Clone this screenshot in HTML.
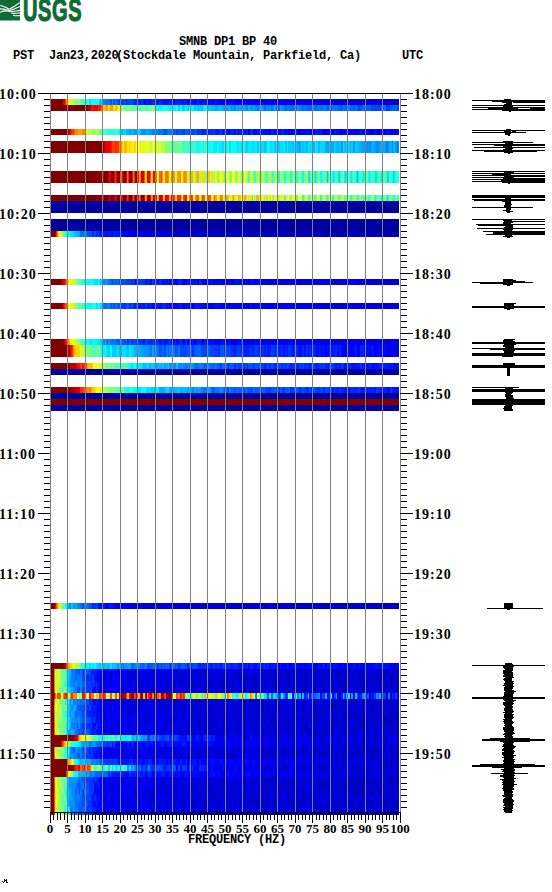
<!DOCTYPE html>
<html><head><meta charset="utf-8"><style>
html,body{margin:0;padding:0;background:#fff;width:552px;height:892px;overflow:hidden;position:relative}
.r{position:absolute;left:50px;width:349px;height:6px}
.t{position:absolute;font-family:"Liberation Mono",monospace;font-weight:bold;font-size:12px;line-height:14px;letter-spacing:-0.2px;white-space:pre;color:#000}
.tl{position:absolute;font-family:"Liberation Serif",serif;font-weight:bold;font-size:14px;line-height:20px;letter-spacing:1px;white-space:pre;color:#000}
.fl{position:absolute;width:40px;text-align:center;font-family:"Liberation Serif",serif;font-weight:bold;font-size:13px;line-height:13px;white-space:pre;color:#000}
svg{position:absolute;left:0;top:0}
</style></head><body>
<div class="r" style="top:99px;height:6px;background:linear-gradient(90deg,#800000 0px 13px,#d80000 13px 14px,#e80000 14px 15px,#ff3800 15px 16px,#ff9800 16px 17px,#ffd000 17px 18px,#ffe800 18px 19px,#f8ff08 19px 20px,#c8ff38 20px 21px,#e0ff20 21px 22px,#d0ff30 22px 23px,#a0ff58 23px 24px,#98ff68 24px 26px,#90ff70 26px 27px,#60ffa0 27px 28px,#98ff68 28px 29px,#88ff78 29px 30px,#58ffa8 30px 31px,#48ffb0 31px 32px,#38ffc8 32px 33px,#30ffd0 33px 35px,#10fff0 35px 37px,#30ffd0 37px 38px,#28ffd8 38px 39px,#00e8ff 39px 40px,#00e0ff 40px 41px,#18ffe0 41px 42px,#00ffff 42px 43px,#00f8ff 43px 44px,#10fff0 44px 49px,#00d0ff 49px 50px,#00c0ff 50px 51px,#00d0ff 51px 52px,#00b8ff 52px 53px,#0080ff 53px 56px,#0070ff 56px 58px,#0078ff 58px 59px,#0070ff 59px 60px,#0060ff 60px 61px,#0058ff 61px 62px,#0088ff 62px 63px,#0060ff 63px 64px,#0058ff 64px 65px,#0070ff 65px 67px,#0058ff 67px 69px,#0040ff 69px 74px,#0050ff 74px 75px,#0048ff 75px 76px,#0030ff 76px 77px,#0040ff 77px 79px,#0050ff 79px 80px,#0048ff 80px 83px,#0028ff 83px 84px,#0030ff 84px 85px,#0028ff 85px 88px,#0020ff 88px 89px,#0018ff 89px 90px,#0020ff 90px 91px,#0038ff 91px 93px,#0010ff 93px 94px,#0008ff 94px 95px,#0010ff 95px 97px,#0028ff 97px 98px,#0010ff 98px 100px,#0018ff 100px 102px,#0028ff 102px 104px,#0030ff 104px 105px,#0018ff 105px 107px,#0010ff 107px 109px,#0030ff 109px 110px,#0028ff 110px 111px,#0020ff 111px 112px,#0018ff 112px 114px,#0010ff 114px 119px,#0020ff 119px 121px,#0010ff 121px 123px,#0008ff 123px 125px,#0020ff 125px 132px,#0008ff 132px 133px,#0020ff 133px 135px,#0018ff 135px 137px,#0008ff 137px 140px,#0010ff 140px 144px,#0000ff 144px 145px,#0000f8 145px 146px,#0008ff 146px 147px,#0020ff 147px 149px,#0008ff 149px 151px,#0000ff 151px 153px,#0018ff 153px 158px,#0000f0 158px 160px,#0010ff 160px 161px,#0000f8 161px 165px,#0010ff 165px 167px,#0000f0 167px 170px,#0000f8 170px 171px,#0000f0 171px 174px,#0000f8 174px 175px,#0008ff 175px 177px,#0000ff 177px 179px,#0000f0 179px 181px,#0008ff 181px 184px,#0000ff 184px 186px,#0000e8 186px 188px,#0000f8 188px 189px,#0000ff 189px 191px,#0000f0 191px 193px,#0000f8 193px 196px,#0000f0 196px 198px,#0000e8 198px 200px,#0000ff 200px 202px,#0000f8 202px 203px,#0000f0 203px 207px,#0000ff 207px 210px,#0000f0 210px 212px,#0000ff 212px 214px,#0000e0 214px 216px,#0000ff 216px 217px,#0000e0 217px 219px,#0000ff 219px 223px,#0000f0 223px 224px,#0000ff 224px 226px,#0000f8 226px 228px,#0000e0 228px 230px,#0000f8 230px 231px,#0000ff 231px 233px,#0000f8 233px 235px,#0000e0 235px 237px,#0000e8 237px 238px,#0000f8 238px 242px,#0000e0 242px 244px,#0000f8 244px 245px,#0000e0 245px 247px,#0000d8 247px 249px,#0000f8 249px 251px,#0000f0 251px 254px,#0000d8 254px 256px,#0000e8 256px 258px,#0000f8 258px 259px,#0000d8 259px 261px,#0000f8 261px 263px,#0000e8 263px 265px,#0000f0 265px 270px,#0000d8 270px 272px,#0000e8 272px 273px,#0000d8 273px 277px,#0000e0 277px 279px,#0000f0 279px 282px,#0000e0 282px 284px,#0000e8 284px 286px,#0000d8 286px 289px,#0000e8 289px 290px,#0000e0 290px 291px,#0000d8 291px 293px,#0000e8 293px 296px,#0000e0 296px 298px,#0000d8 298px 300px,#0000d0 300px 303px,#0000e8 303px 305px,#0000d0 305px 308px,#0000e0 308px 310px,#0000e8 310px 314px,#0000e0 314px 315px,#0000d0 315px 317px,#0000d8 317px 322px,#0000e0 322px 328px,#0000e8 328px 329px,#0000e0 329px 333px,#0000d0 333px 335px,#0000e0 335px 338px,#0000d8 338px 340px,#0000c8 340px 342px,#0000d8 342px 343px,#0000d0 343px 345px,#0000c8 345px 347px,#0000d0 347px 349px)"></div>
<div class="r" style="top:105px;height:6px;background:linear-gradient(90deg,#800000 0px 37px,#a00000 37px 38px,#b80000 38px 39px,#b00000 39px 40px,#c80000 40px 41px,#ff0800 41px 42px,#ff0000 42px 43px,#ff0800 43px 44px,#f00000 44px 45px,#f80000 45px 47px,#ff0000 47px 48px,#ff1800 48px 49px,#ff1000 49px 50px,#ff2800 50px 51px,#ff5800 51px 52px,#ff8000 52px 53px,#ffb800 53px 55px,#ffa800 55px 56px,#ff9800 56px 57px,#ffa000 57px 58px,#ffd000 58px 60px,#ff9800 60px 61px,#ffa000 61px 62px,#ff9800 62px 63px,#ffe000 63px 65px,#ffc000 65px 67px,#ffd000 67px 68px,#fff800 68px 69px,#e0ff20 69px 70px,#98ff68 70px 71px,#70ff90 71px 72px,#98ff68 72px 74px,#68ff98 74px 75px,#60ff98 75px 76px,#58ffa8 76px 77px,#80ff80 77px 79px,#70ff90 79px 81px,#58ffa8 81px 83px,#68ff98 83px 84px,#50ffb0 84px 86px,#48ffb8 86px 87px,#40ffc0 87px 88px,#78ff88 88px 90px,#38ffc8 90px 91px,#58ffa8 91px 93px,#80ff80 93px 95px,#40ffc0 95px 97px,#50ffb0 97px 98px,#70ff90 98px 100px,#78ff88 100px 101px,#78ff80 101px 102px,#80ff80 102px 103px,#70ff90 103px 104px,#68ff98 104px 105px,#20ffe0 105px 106px,#10fff0 106px 107px,#08fff8 107px 108px,#00f8ff 108px 109px,#10ffe8 109px 110px,#10fff0 110px 111px,#00e8ff 111px 112px,#20ffe0 112px 114px,#20ffd8 114px 115px,#20ffe0 115px 116px,#18ffe8 116px 118px,#18ffe0 118px 119px,#00e0ff 119px 121px,#20ffe0 121px 122px,#18ffe0 122px 123px,#00f8ff 123px 125px,#00f0ff 125px 126px,#18ffe8 126px 128px,#00d8ff 128px 129px,#00d0ff 129px 130px,#08fff8 130px 132px,#00d8ff 132px 133px,#00d0ff 133px 135px,#00ffff 135px 137px,#00d0ff 137px 139px,#10fff0 139px 140px,#00f0ff 140px 142px,#00f8ff 142px 143px,#00f0ff 143px 144px,#00c8ff 144px 146px,#00e8ff 146px 147px,#00c8ff 147px 149px,#00d0ff 149px 152px,#00c8ff 152px 153px,#00e8ff 153px 154px,#00f0ff 154px 156px,#00f8ff 156px 157px,#00f0ff 157px 158px,#00c0ff 158px 160px,#00d0ff 160px 161px,#00b8ff 161px 163px,#00c8ff 163px 164px,#00c0ff 164px 165px,#00a0ff 165px 167px,#00b8ff 167px 168px,#00c0ff 168px 172px,#00a8ff 172px 174px,#0090ff 174px 175px,#0098ff 175px 176px,#0090ff 176px 177px,#00a0ff 177px 179px,#00b8ff 179px 181px,#0088ff 181px 182px,#00a0ff 182px 184px,#0088ff 184px 186px,#00b0ff 186px 188px,#0088ff 188px 189px,#00b8ff 189px 191px,#0088ff 191px 193px,#00a8ff 193px 195px,#0098ff 195px 196px,#0090ff 196px 198px,#00b0ff 198px 200px,#0098ff 200px 203px,#00a0ff 203px 205px,#0088ff 205px 207px,#0078ff 207px 209px,#00a8ff 209px 210px,#00a0ff 210px 212px,#0090ff 212px 214px,#0070ff 214px 216px,#00a0ff 216px 217px,#0088ff 217px 218px,#0080ff 218px 219px,#0098ff 219px 221px,#0070ff 221px 223px,#0090ff 223px 224px,#00a0ff 224px 226px,#0070ff 226px 228px,#0068ff 228px 230px,#00a0ff 230px 231px,#0098ff 231px 233px,#0080ff 233px 235px,#0068ff 235px 237px,#0080ff 237px 240px,#0068ff 240px 242px,#0070ff 242px 244px,#0080ff 244px 245px,#0070ff 245px 247px,#0098ff 247px 249px,#0078ff 249px 251px,#0088ff 251px 252px,#0068ff 252px 254px,#0078ff 254px 256px,#0068ff 256px 258px,#0060ff 258px 259px,#0068ff 259px 261px,#0060ff 261px 263px,#0088ff 263px 265px,#0060ff 265px 266px,#0070ff 266px 268px,#0078ff 268px 270px,#0070ff 270px 273px,#0080ff 273px 275px,#0078ff 275px 277px,#0058ff 277px 279px,#0088ff 279px 280px,#0058ff 280px 281px,#0050ff 281px 282px,#0078ff 282px 284px,#0070ff 284px 286px,#0080ff 286px 287px,#0068ff 287px 289px,#0060ff 289px 291px,#0058ff 291px 293px,#0078ff 293px 294px,#0068ff 294px 296px,#0058ff 296px 298px,#0080ff 298px 300px,#0058ff 300px 301px,#0068ff 301px 303px,#0058ff 303px 305px,#0070ff 305px 306px,#0068ff 306px 307px,#0060ff 307px 308px,#0048ff 308px 309px,#0040ff 309px 310px,#0050ff 310px 312px,#0070ff 312px 314px,#0058ff 314px 315px,#0050ff 315px 317px,#0060ff 317px 321px,#0040ff 321px 322px,#0048ff 322px 329px,#0040ff 329px 331px,#0070ff 331px 336px,#0038ff 336px 338px,#0040ff 338px 340px,#0060ff 340px 345px,#0068ff 345px 347px,#0040ff 347px 349px)"></div>
<div class="r" style="top:129px;height:6px;background:linear-gradient(90deg,#800000 0px 17px,#880000 17px 18px,#a80000 18px 19px,#c80000 19px 20px,#f00000 20px 21px,#ff2800 21px 22px,#ff4800 22px 23px,#ff3800 23px 24px,#ff5800 24px 25px,#ff9000 25px 27px,#ff7800 27px 28px,#ffa000 28px 31px,#ffa800 31px 32px,#ff8000 32px 34px,#ff9800 34px 35px,#ffb000 35px 36px,#ffe000 36px 37px,#c8ff38 37px 38px,#a8ff58 38px 39px,#c0ff40 39px 40px,#b8ff48 40px 41px,#a0ff60 41px 42px,#98ff68 42px 43px,#90ff70 43px 44px,#c0ff40 44px 45px,#b8ff48 45px 46px,#b0ff50 46px 47px,#a8ff58 47px 49px,#70ff90 49px 50px,#60ffa0 50px 51px,#58ffa8 51px 52px,#40ffc0 52px 53px,#60ffa0 53px 54px,#58ffa8 54px 55px,#40ffc0 55px 56px,#28ffd8 56px 58px,#20ffe0 58px 59px,#18ffe8 59px 60px,#38ffc8 60px 63px,#18ffe8 63px 65px,#48ffb8 65px 66px,#38ffc8 66px 67px,#20ffe0 67px 68px,#10fff0 68px 69px,#00f8ff 69px 70px,#00c0ff 70px 72px,#00c8ff 72px 74px,#00e0ff 74px 76px,#00b0ff 76px 77px,#00b8ff 77px 79px,#00a8ff 79px 81px,#00b8ff 81px 82px,#00b0ff 82px 84px,#00a0ff 84px 87px,#0098ff 87px 88px,#00d8ff 88px 90px,#00b8ff 90px 91px,#0098ff 91px 92px,#0090ff 92px 93px,#0098ff 93px 94px,#0090ff 94px 95px,#00a0ff 95px 97px,#00b0ff 97px 98px,#00a0ff 98px 100px,#0098ff 100px 102px,#0080ff 102px 104px,#0088ff 104px 105px,#0078ff 105px 107px,#0080ff 107px 108px,#0078ff 108px 109px,#0070ff 109px 111px,#0080ff 111px 112px,#0070ff 112px 113px,#0068ff 113px 114px,#0050ff 114px 116px,#0068ff 116px 118px,#0080ff 118px 119px,#0078ff 119px 123px,#0058ff 123px 126px,#0048ff 126px 128px,#0058ff 128px 130px,#0050ff 130px 132px,#0058ff 132px 133px,#0040ff 133px 135px,#0060ff 135px 139px,#0040ff 139px 140px,#0050ff 140px 141px,#0048ff 141px 142px,#0040ff 142px 144px,#0050ff 144px 146px,#0058ff 146px 147px,#0038ff 147px 148px,#0030ff 148px 149px,#0040ff 149px 151px,#0028ff 151px 152px,#0020ff 152px 154px,#0030ff 154px 156px,#0048ff 156px 158px,#0028ff 158px 159px,#0020ff 159px 160px,#0038ff 160px 161px,#0030ff 161px 162px,#0028ff 162px 163px,#0038ff 163px 165px,#0028ff 165px 167px,#0010ff 167px 168px,#0028ff 168px 170px,#0038ff 170px 172px,#0018ff 172px 174px,#0020ff 174px 177px,#0008ff 177px 179px,#0018ff 179px 181px,#0020ff 181px 184px,#0010ff 184px 186px,#0028ff 186px 188px,#0000ff 188px 189px,#0020ff 189px 191px,#0018ff 191px 193px,#0020ff 193px 195px,#0010ff 195px 196px,#0020ff 196px 198px,#0000ff 198px 200px,#0028ff 200px 203px,#0010ff 203px 205px,#0008ff 205px 207px,#0020ff 207px 209px,#0010ff 209px 210px,#0008ff 210px 212px,#0018ff 212px 214px,#0010ff 214px 216px,#0008ff 216px 217px,#0010ff 217px 219px,#0000ff 219px 221px,#0018ff 221px 223px,#0020ff 223px 224px,#0010ff 224px 226px,#0020ff 226px 228px,#0008ff 228px 230px,#0000ff 230px 231px,#0020ff 231px 233px,#0018ff 233px 235px,#0008ff 235px 237px,#0018ff 237px 238px,#0000ff 238px 242px,#0008ff 242px 244px,#0018ff 244px 245px,#0020ff 245px 247px,#0000ff 247px 249px,#0000f8 249px 251px,#0000ff 251px 252px,#0000f8 252px 254px,#0008ff 254px 258px,#0018ff 258px 259px,#0000ff 259px 263px,#0000f8 263px 265px,#0010ff 265px 266px,#0020ff 266px 268px,#0010ff 268px 270px,#0018ff 270px 272px,#0000ff 272px 275px,#0000f8 275px 277px,#0000ff 277px 279px,#0018ff 279px 280px,#0010ff 280px 282px,#0000ff 282px 284px,#0018ff 284px 286px,#0000ff 286px 287px,#0010ff 287px 288px,#0008ff 288px 289px,#0000f8 289px 291px,#0000f0 291px 293px,#0008ff 293px 296px,#0010ff 296px 298px,#0000ff 298px 300px,#0000f8 300px 301px,#0008ff 301px 305px,#0000f8 305px 307px,#0010ff 307px 308px,#0008ff 308px 310px,#0018ff 310px 312px,#0010ff 312px 314px,#0000f0 314px 315px,#0000ff 315px 317px,#0018ff 317px 318px,#0010ff 318px 319px,#0000f8 319px 324px,#0010ff 324px 326px,#0000f8 326px 328px,#0000e8 328px 329px,#0000f8 329px 331px,#0008ff 331px 333px,#0000ff 333px 335px,#0000f0 335px 336px,#0010ff 336px 340px,#0000ff 340px 342px,#0000f0 342px 343px,#0000f8 343px 345px,#0000ff 345px 347px,#0000f0 347px 349px)"></div>
<div class="r" style="top:141px;height:12px;background:linear-gradient(90deg,#800000 0px 53px,#900000 53px 54px,#c00000 54px 55px,#f80000 55px 56px,#e80000 56px 57px,#f00000 57px 58px,#e80000 58px 59px,#f00000 59px 60px,#ff0800 60px 61px,#ff1000 61px 62px,#ff4000 62px 63px,#ff3800 63px 64px,#ff4000 64px 65px,#ff2800 65px 66px,#ff3000 66px 68px,#ff3800 68px 69px,#ff7800 69px 70px,#ff6800 70px 71px,#ff9000 71px 72px,#ffd800 72px 73px,#ffe800 73px 74px,#ffb800 74px 76px,#ffc000 76px 77px,#ffe800 77px 79px,#ffd800 79px 80px,#ffe000 80px 81px,#ffe800 81px 82px,#fff000 82px 83px,#ffff00 83px 84px,#ffd000 84px 85px,#ffd800 85px 86px,#ffff00 86px 88px,#f8ff08 88px 89px,#f0ff10 89px 90px,#ffe000 90px 91px,#d8ff28 91px 92px,#d0ff30 92px 94px,#c8ff30 94px 95px,#f8ff08 95px 98px,#d8ff28 98px 99px,#d0ff30 99px 100px,#b8ff40 100px 101px,#b8ff48 101px 102px,#f8ff08 102px 104px,#e0ff20 104px 105px,#c0ff40 105px 107px,#d8ff28 107px 108px,#d0ff30 108px 109px,#d8ff28 109px 111px,#a8ff58 111px 112px,#c0ff40 112px 113px,#b8ff48 113px 114px,#a0ff58 114px 115px,#a0ff60 115px 116px,#88ff78 116px 117px,#80ff80 117px 119px,#90ff70 119px 120px,#88ff70 120px 121px,#60ffa0 121px 122px,#58ffa8 122px 123px,#50ffb0 123px 125px,#68ff98 125px 130px,#70ff90 130px 132px,#48ffb8 132px 133px,#38ffc8 133px 135px,#50ffb0 135px 137px,#40ffc0 137px 139px,#18ffe8 139px 142px,#30ffd0 142px 144px,#40ffc0 144px 146px,#10ffe8 146px 147px,#00fff8 147px 148px,#00ffff 148px 149px,#18ffe8 149px 151px,#38ffc8 151px 153px,#00f8ff 153px 154px,#28ffd8 154px 155px,#20ffe0 155px 156px,#30ffd0 156px 158px,#00ffff 158px 160px,#08fff8 160px 161px,#18ffe0 161px 162px,#18ffe8 162px 163px,#00f0ff 163px 165px,#00e8ff 165px 167px,#18ffe8 167px 168px,#00f8ff 168px 169px,#00f0ff 169px 172px,#00d8ff 172px 174px,#18ffe8 174px 175px,#00e8ff 175px 177px,#18ffe8 177px 178px,#10fff0 178px 179px,#00d8ff 179px 181px,#00ffff 181px 184px,#08fff8 184px 186px,#00f0ff 186px 188px,#00d8ff 188px 189px,#00ffff 189px 191px,#00d0ff 191px 193px,#10fff0 193px 195px,#00d8ff 195px 198px,#00e8ff 198px 200px,#00f0ff 200px 202px,#00d8ff 202px 203px,#00e0ff 203px 205px,#00f0ff 205px 207px,#00c8ff 207px 209px,#00fff8 209px 210px,#00e0ff 210px 212px,#00d8ff 212px 214px,#00c8ff 214px 216px,#00d0ff 216px 217px,#00ffff 217px 219px,#00f0ff 219px 220px,#00e8ff 220px 221px,#00e0ff 221px 223px,#00f8ff 223px 224px,#00c8ff 224px 226px,#00e0ff 226px 228px,#00c8ff 228px 230px,#00e0ff 230px 231px,#00d8ff 231px 233px,#00f0ff 233px 235px,#00c0ff 235px 237px,#00f0ff 237px 238px,#00c8ff 238px 240px,#00d0ff 240px 242px,#00c8ff 242px 244px,#00e0ff 244px 245px,#00c8ff 245px 247px,#00b0ff 247px 249px,#00a8ff 249px 251px,#00d8ff 251px 252px,#00c8ff 252px 254px,#00d0ff 254px 256px,#00b8ff 256px 258px,#00e8ff 258px 259px,#00d8ff 259px 263px,#00b8ff 263px 265px,#00e8ff 265px 268px,#00b8ff 268px 270px,#00d8ff 270px 275px,#00b0ff 275px 277px,#00a0ff 277px 279px,#00c8ff 279px 280px,#00b0ff 280px 283px,#00a8ff 283px 284px,#00d0ff 284px 286px,#00c0ff 286px 287px,#00b0ff 287px 289px,#00c8ff 289px 291px,#0098ff 291px 293px,#00e0ff 293px 294px,#00c0ff 294px 296px,#00c8ff 296px 298px,#00d0ff 298px 300px,#00a8ff 300px 301px,#00d0ff 301px 303px,#0098ff 303px 305px,#00c8ff 305px 307px,#00d0ff 307px 308px,#00b8ff 308px 310px,#00b0ff 310px 311px,#00a8ff 311px 312px,#00a0ff 312px 315px,#0090ff 315px 321px,#00a0ff 321px 322px,#00b8ff 322px 323px,#00b0ff 323px 324px,#00a0ff 324px 326px,#0088ff 326px 329px,#00a0ff 329px 331px,#00b0ff 331px 333px,#00a8ff 333px 335px,#00a0ff 335px 336px,#0080ff 336px 338px,#00a0ff 338px 340px,#00b8ff 340px 341px,#00b0ff 341px 342px,#0080ff 342px 343px,#00c0ff 343px 345px,#00a0ff 345px 347px,#0080ff 347px 349px)"></div>
<div class="r" style="top:171px;height:12px;background:linear-gradient(90deg,#800000 0px 47px,#a00000 47px 48px,#800000 48px 52px,#880000 52px 53px,#b00000 53px 54px,#800000 54px 58px,#c00000 58px 59px,#f80000 59px 60px,#c00000 60px 61px,#800000 61px 64px,#e00000 64px 65px,#ff3000 65px 66px,#e80000 66px 67px,#800000 67px 70px,#f00000 70px 71px,#ff5800 71px 72px,#ff0800 72px 73px,#800000 73px 76px,#e00000 76px 77px,#ff7800 77px 78px,#ff3000 78px 79px,#800000 79px 82px,#f80000 82px 83px,#ff7000 83px 84px,#ff3000 84px 85px,#800000 85px 87px,#900000 87px 88px,#ff1800 88px 89px,#ffb000 89px 90px,#ff8000 90px 91px,#c00000 91px 93px,#e00000 93px 94px,#ff4800 94px 95px,#fff000 95px 96px,#ffc800 96px 97px,#e00000 97px 98px,#f80000 98px 100px,#ff4800 100px 101px,#ffe800 101px 102px,#ffc800 102px 103px,#ff0000 103px 104px,#ff0800 104px 105px,#ff1000 105px 106px,#ff8000 106px 107px,#b8ff48 107px 108px,#d0ff30 108px 109px,#ff6000 109px 110px,#ff6800 110px 111px,#ff4000 111px 112px,#ff9800 112px 113px,#c8ff38 113px 114px,#c8ff30 114px 115px,#ff7000 115px 117px,#ff7800 117px 118px,#ff9000 118px 119px,#c8ff38 119px 120px,#d0ff30 120px 121px,#ff8000 121px 122px,#ff7800 122px 123px,#ff8800 123px 124px,#ffa000 124px 125px,#d0ff30 125px 126px,#c8ff38 126px 127px,#ff9800 127px 129px,#ffa000 129px 130px,#ff8000 130px 131px,#d8ff28 131px 132px,#c8ff30 132px 133px,#ffa000 133px 134px,#ff8000 134px 135px,#ff9000 135px 137px,#b8ff40 137px 138px,#a8ff58 138px 139px,#ffd000 139px 140px,#ffb000 140px 142px,#ffb800 142px 143px,#a8ff58 143px 144px,#b0ff50 144px 145px,#ffd800 145px 146px,#ffb800 146px 147px,#ffa800 147px 149px,#a0ff60 149px 150px,#80ff80 150px 151px,#f0ff10 151px 152px,#ffd000 152px 153px,#ffe000 153px 154px,#ffd800 154px 155px,#98ff60 155px 156px,#70ff90 156px 157px,#d8ff28 157px 158px,#ffc800 158px 160px,#ffe800 160px 161px,#a8ff58 161px 162px,#78ff80 162px 163px,#d0ff30 163px 164px,#ffe000 164px 165px,#fff000 165px 166px,#fff800 166px 167px,#80ff78 167px 168px,#70ff90 168px 169px,#c8ff38 169px 170px,#fff800 170px 172px,#fff000 172px 173px,#98ff60 173px 174px,#60ffa0 174px 175px,#98ff68 175px 176px,#e8ff18 176px 177px,#f8ff08 177px 179px,#a0ff60 179px 180px,#60ff98 180px 181px,#80ff80 181px 182px,#f8ff08 182px 185px,#98ff68 185px 186px,#60ffa0 186px 187px,#a0ff60 187px 188px,#e0ff20 188px 191px,#70ff90 191px 192px,#28ffd8 192px 193px,#80ff80 193px 194px,#e8ff18 194px 196px,#d8ff28 196px 197px,#80ff80 197px 198px,#30ffc8 198px 199px,#60ff98 199px 200px,#d8ff28 200px 202px,#c8ff38 202px 203px,#78ff88 203px 204px,#28ffd8 204px 205px,#40ffc0 205px 206px,#b0ff50 206px 207px,#c0ff40 207px 209px,#68ff98 209px 210px,#38ffc8 210px 211px,#58ffa8 211px 212px,#d0ff30 212px 213px,#c8ff30 213px 214px,#a8ff58 214px 215px,#68ff98 215px 216px,#20ffe0 216px 217px,#40ffc0 217px 218px,#b8ff48 218px 219px,#a8ff50 219px 220px,#a8ff58 220px 221px,#80ff78 221px 222px,#20ffe0 222px 223px,#40ffc0 223px 224px,#a0ff58 224px 225px,#a0ff60 225px 226px,#b0ff50 226px 227px,#80ff78 227px 228px,#00f8ff 228px 229px,#08fff0 229px 230px,#a0ff60 230px 231px,#98ff68 231px 232px,#90ff68 232px 233px,#88ff78 233px 234px,#18ffe8 234px 235px,#00ffff 235px 236px,#88ff78 236px 237px,#80ff80 237px 238px,#90ff70 238px 239px,#78ff88 239px 240px,#08fff8 240px 242px,#78ff88 242px 243px,#80ff80 243px 244px,#88ff70 244px 245px,#88ff78 245px 246px,#10fff0 246px 247px,#00ffff 247px 248px,#78ff88 248px 249px,#98ff68 249px 251px,#58ffa0 251px 252px,#08fff8 252px 253px,#00ffff 253px 254px,#70ff90 254px 255px,#88ff78 255px 256px,#90ff68 256px 257px,#90ff70 257px 258px,#00f0ff 258px 259px,#00e0ff 259px 260px,#48ffb0 260px 261px,#88ff78 261px 263px,#88ff70 263px 264px,#10fff0 264px 265px,#00e0ff 265px 266px,#38ffc8 266px 267px,#60ffa0 267px 268px,#80ff80 268px 270px,#10fff0 270px 271px,#00f8ff 271px 272px,#50ffb0 272px 275px,#80ff80 275px 276px,#08fff0 276px 277px,#00c8ff 277px 278px,#20ffe0 278px 279px,#80ff80 279px 280px,#58ffa8 280px 282px,#10fff0 282px 283px,#00e8ff 283px 284px,#10fff0 284px 285px,#50ffb0 285px 286px,#48ffb0 286px 287px,#48ffb8 287px 288px,#00e0ff 288px 289px,#00d8ff 289px 290px,#20ffe0 290px 291px,#58ffa8 291px 293px,#70ff90 293px 294px,#00f8ff 294px 295px,#00d0ff 295px 296px,#00ffff 296px 297px,#48ffb8 297px 298px,#68ff98 298px 300px,#10ffe8 300px 301px,#00e8ff 301px 302px,#20ffe0 302px 303px,#48ffb8 303px 305px,#40ffc0 305px 306px,#00f0ff 306px 307px,#00b0ff 307px 308px,#00f8ff 308px 309px,#48ffb0 309px 310px,#40ffc0 310px 312px,#20ffe0 312px 313px,#00e8ff 313px 314px,#18ffe8 314px 315px,#60ffa0 315px 318px,#18ffe8 318px 319px,#00e8ff 319px 320px,#10fff0 320px 321px,#50ffb0 321px 322px,#48ffb0 322px 323px,#48ffb8 323px 324px,#28ffd0 324px 325px,#00e8ff 325px 326px,#00e0ff 326px 327px,#38ffc8 327px 329px,#60ffa0 329px 330px,#28ffd8 330px 331px,#00e8ff 331px 332px,#00fff8 332px 333px,#60ffa0 333px 335px,#40ffb8 335px 336px,#20ffe0 336px 337px,#00d8ff 337px 338px,#00e0ff 338px 339px,#48ffb8 339px 340px,#38ffc8 340px 342px,#00ffff 342px 343px,#00d8ff 343px 344px,#00f0ff 344px 345px,#28ffd0 345px 346px,#28ffd8 346px 347px,#40ffc0 347px 348px,#20ffe0 348px 349px)"></div>
<div class="r" style="top:195px;height:6px;background:linear-gradient(90deg,#800000 0px 46px,#880000 46px 47px,#a80000 47px 48px,#800000 48px 53px,#c00000 53px 54px,#800000 54px 58px,#a00000 58px 59px,#d80000 59px 60px,#980000 60px 61px,#800000 61px 64px,#900000 64px 65px,#ff0000 65px 66px,#c00000 66px 67px,#800000 67px 70px,#c80000 70px 71px,#ff1800 71px 72px,#d80000 72px 73px,#800000 73px 76px,#b80000 76px 77px,#ff3000 77px 78px,#f00000 78px 79px,#800000 79px 82px,#e80000 82px 83px,#ff4800 83px 84px,#f00000 84px 85px,#800000 85px 86px,#880000 86px 88px,#f80000 88px 89px,#ff7800 89px 90px,#ff2800 90px 91px,#800000 91px 94px,#d80000 94px 95px,#ffa000 95px 96px,#ff7800 96px 97px,#900000 97px 98px,#a00000 98px 100px,#f00000 100px 101px,#ff9000 101px 102px,#ff7800 102px 103px,#b00000 103px 104px,#d80000 104px 105px,#c80000 105px 106px,#ff1000 106px 107px,#ffc000 107px 108px,#ffa800 108px 109px,#d00000 109px 110px,#d80000 110px 111px,#c00000 111px 112px,#ff1000 112px 113px,#ffc000 113px 115px,#f00000 115px 116px,#ff0000 116px 118px,#ff0800 118px 119px,#ffb800 119px 120px,#ffb000 120px 121px,#f00000 121px 122px,#e00000 122px 123px,#ff1800 123px 124px,#ff3800 124px 125px,#ffd000 125px 127px,#ff2000 127px 128px,#ff2800 128px 129px,#ff3000 129px 130px,#ff0800 130px 131px,#ffc800 131px 132px,#f8ff08 132px 133px,#ff5000 133px 134px,#ff2800 134px 135px,#ff1000 135px 136px,#ff1800 136px 137px,#fff000 137px 138px,#ffff00 138px 139px,#ff7000 139px 140px,#ff2800 140px 142px,#ff4000 142px 143px,#fff800 143px 144px,#f0ff10 144px 145px,#ff8800 145px 146px,#ff6000 146px 147px,#ff5800 147px 148px,#ff6000 148px 149px,#ffe800 149px 150px,#f0ff10 150px 151px,#ff9800 151px 152px,#ff5000 152px 153px,#ff4000 153px 154px,#ff7000 154px 155px,#f0ff10 155px 156px,#e8ff18 156px 157px,#ffa000 157px 158px,#ff5000 158px 160px,#ff5800 160px 161px,#ffe800 161px 162px,#e0ff20 162px 163px,#ffc000 163px 164px,#ff6800 164px 165px,#ffa000 165px 167px,#fff800 167px 168px,#c8ff38 168px 169px,#ffd800 169px 170px,#ff7800 170px 172px,#ff8800 172px 173px,#f0ff10 173px 174px,#98ff68 174px 175px,#ffff00 175px 176px,#ffa000 176px 177px,#ffb000 177px 178px,#ffb800 178px 179px,#e0ff20 179px 180px,#a0ff60 180px 181px,#e0ff20 181px 182px,#ffb000 182px 184px,#ffd000 184px 185px,#c0ff40 185px 186px,#a8ff58 186px 187px,#f0ff10 187px 188px,#ffa000 188px 189px,#ffc800 189px 191px,#f8ff08 191px 192px,#a8ff58 192px 193px,#e8ff18 193px 194px,#ffa000 194px 195px,#ffb000 195px 196px,#ffc000 196px 197px,#d8ff28 197px 198px,#90ff70 198px 199px,#c8ff30 199px 200px,#ffe000 200px 202px,#ffb800 202px 203px,#c8ff38 203px 204px,#68ff98 204px 205px,#c0ff40 205px 206px,#ffb800 206px 209px,#c8ff38 209px 210px,#80ff80 210px 211px,#a8ff58 211px 212px,#fff800 212px 214px,#ffd800 214px 215px,#d8ff20 215px 216px,#80ff80 216px 217px,#70ff90 217px 218px,#ffff00 218px 219px,#ffe000 219px 221px,#f0ff10 221px 222px,#80ff80 222px 223px,#70ff90 223px 224px,#fff000 224px 227px,#d0ff28 227px 228px,#70ff90 228px 229px,#88ff78 229px 230px,#ffe800 230px 231px,#fff000 231px 233px,#c8ff38 233px 234px,#40ffc0 234px 235px,#68ff98 235px 236px,#fff800 236px 237px,#e0ff20 237px 238px,#f0ff10 238px 239px,#d0ff30 239px 240px,#68ff98 240px 241px,#70ff90 241px 242px,#f8ff08 242px 243px,#ffff00 243px 244px,#f0ff10 244px 245px,#d0ff30 245px 246px,#40ffc0 246px 247px,#60ffa0 247px 248px,#f0ff10 248px 249px,#f8ff08 249px 252px,#28ffd8 252px 253px,#20ffe0 253px 254px,#a8ff58 254px 255px,#c8ff38 255px 256px,#d0ff30 256px 258px,#48ffb8 258px 259px,#28ffd8 259px 260px,#a8ff58 260px 261px,#d0ff30 261px 263px,#c0ff40 263px 264px,#30ffd0 264px 266px,#98ff68 266px 267px,#c8ff38 267px 270px,#28ffd0 270px 271px,#10fff0 271px 272px,#a8ff50 272px 273px,#d0ff30 273px 275px,#d8ff28 275px 276px,#50ffb0 276px 277px,#10fff0 277px 278px,#70ff90 278px 279px,#d0ff30 279px 280px,#e0ff20 280px 282px,#30ffd0 282px 283px,#10fff0 283px 284px,#90ff70 284px 285px,#d8ff28 285px 286px,#b0ff50 286px 287px,#c0ff40 287px 288px,#50ffb0 288px 289px,#40ffc0 289px 290px,#90ff70 290px 291px,#c8ff38 291px 294px,#60ffa0 294px 295px,#30ffd0 295px 296px,#80ff80 296px 297px,#d0ff30 297px 298px,#b0ff50 298px 300px,#38ffc8 300px 301px,#10ffe8 301px 302px,#58ffa8 302px 303px,#a8ff50 303px 305px,#c0ff40 305px 306px,#60ffa0 306px 307px,#10fff0 307px 308px,#40ffc0 308px 309px,#98ff68 309px 312px,#50ffb0 312px 313px,#10fff0 313px 314px,#68ff90 314px 315px,#90ff70 315px 316px,#88ff70 316px 318px,#40ffc0 318px 319px,#28ffd8 319px 320px,#50ffb0 320px 321px,#c0ff40 321px 322px,#b0ff48 322px 323px,#b0ff50 323px 324px,#40ffc0 324px 325px,#00f8ff 325px 326px,#30ffd0 326px 327px,#90ff70 327px 328px,#88ff78 328px 329px,#80ff80 329px 330px,#40ffb8 330px 331px,#08fff8 331px 332px,#28ffd8 332px 333px,#78ff88 333px 335px,#90ff70 335px 336px,#30ffd0 336px 337px,#00e8ff 337px 338px,#20ffe0 338px 339px,#80ff80 339px 340px,#90ff70 340px 342px,#60ff98 342px 343px,#10fff0 343px 344px,#20ffe0 344px 345px,#90ff70 345px 347px,#50ffb0 347px 348px,#30ffd0 348px 349px)"></div>
<div class="r" style="top:201px;height:12px;background:linear-gradient(90deg,#0000a0 0px 349px)"></div>
<div class="r" style="top:219px;height:12px;background:linear-gradient(90deg,#0000a0 0px 18px,#0000a8 18px 20px,#0000a0 20px 28px,#0000a8 28px 30px,#0000a0 30px 39px,#0000a8 39px 41px,#0000a0 41px 63px,#0000a8 63px 65px,#0000a0 65px 69px,#0000a8 69px 70px,#0000a0 70px 76px,#0000a8 76px 79px,#0000a0 79px 130px,#0000a8 130px 132px,#0000a0 132px 151px,#0000a8 151px 153px,#0000a0 153px 158px,#0000a8 158px 160px,#0000a0 160px 175px,#0000a8 175px 177px,#0000a0 177px 196px,#0000a8 196px 198px,#0000a0 198px 209px,#0000a8 209px 210px,#0000a0 210px 230px,#0000a8 230px 231px,#0000a0 231px 233px,#0000a8 233px 235px,#0000a0 235px 265px,#0000a8 265px 266px,#0000a0 266px 280px,#0000a8 280px 282px,#0000a0 282px 284px,#0000a8 284px 286px,#0000a0 286px 289px,#0000a8 289px 291px,#0000a0 291px 307px,#0000a8 307px 308px,#0000a0 308px 340px,#0000a8 340px 342px,#0000a0 342px 349px)"></div>
<div class="r" style="top:231px;height:6px;background:linear-gradient(90deg,#800000 0px 6px,#ff2000 6px 7px,#ff9000 7px 8px,#ffc000 8px 9px,#fff000 9px 10px,#e0ff20 10px 11px,#b8ff48 11px 12px,#88ff78 12px 13px,#68ff98 13px 14px,#40ffc0 14px 15px,#20ffe0 15px 16px,#48ffb8 16px 17px,#38ffc8 17px 18px,#00f8ff 18px 19px,#00f0ff 19px 20px,#00e8ff 20px 21px,#00f0ff 21px 22px,#00e8ff 22px 23px,#00d0ff 23px 24px,#00c8ff 24px 26px,#00b8ff 26px 29px,#00a8ff 29px 30px,#0078ff 30px 31px,#0068ff 31px 32px,#0080ff 32px 33px,#0078ff 33px 34px,#0080ff 34px 35px,#0070ff 35px 36px,#0068ff 36px 37px,#0060ff 37px 38px,#0058ff 38px 39px,#0050ff 39px 41px,#0048ff 41px 42px,#0030ff 42px 43px,#0028ff 43px 44px,#0050ff 44px 45px,#0048ff 45px 46px,#0030ff 46px 48px,#0038ff 48px 49px,#0028ff 49px 50px,#0020ff 50px 51px,#0010ff 51px 55px,#0018ff 55px 56px,#0010ff 56px 58px,#0018ff 58px 60px,#0010ff 60px 62px,#0008ff 62px 63px,#0020ff 63px 65px,#0018ff 65px 69px,#0010ff 69px 72px,#0008ff 72px 74px,#0000f8 74px 76px,#0000f0 76px 77px,#0000ff 77px 79px,#0000e8 79px 81px,#0000f8 81px 83px,#0000f0 83px 84px,#0000e0 84px 86px,#0000d8 86px 88px,#0000f0 88px 90px,#0000e8 90px 91px,#0000e0 91px 93px,#0000d8 93px 95px,#0000f8 95px 96px,#0000f0 96px 98px,#0000e0 98px 100px,#0000f0 100px 102px,#0000e0 102px 104px,#0000f0 104px 105px,#0000e8 105px 107px,#0000d0 107px 109px,#0000d8 109px 111px,#0000e0 111px 112px,#0000d0 112px 114px,#0000e0 114px 118px,#0000d0 118px 119px,#0000d8 119px 123px,#0000d0 123px 126px,#0000c8 126px 128px,#0000d0 128px 130px,#0000d8 130px 132px,#0000e8 132px 133px,#0000d8 133px 135px,#0000e8 135px 137px,#0000c8 137px 139px,#0000d0 139px 140px,#0000e0 140px 142px,#0000c8 142px 144px,#0000d0 144px 146px,#0000d8 146px 147px,#0000e0 147px 149px,#0000d0 149px 153px,#0000d8 153px 154px,#0000e0 154px 156px,#0000d8 156px 158px,#0000c0 158px 160px,#0000d8 160px 161px,#0000d0 161px 163px,#0000c8 163px 165px,#0000d0 165px 168px,#0000c0 168px 175px,#0000c8 175px 179px,#0000c0 179px 181px,#0000d0 181px 182px,#0000c0 182px 186px,#0000c8 186px 188px,#0000d0 188px 189px,#0000c0 189px 191px,#0000c8 191px 195px,#0000d0 195px 198px,#0000c0 198px 200px,#0000b8 200px 202px,#0000c8 202px 203px,#0000c0 203px 205px,#0000d0 205px 207px,#0000b8 207px 209px,#0000c8 209px 210px,#0000c0 210px 212px,#0000b8 212px 219px,#0000c0 219px 221px,#0000b8 221px 223px,#0000d0 223px 224px,#0000b8 224px 228px,#0000c0 228px 230px,#0000b8 230px 231px,#0000c0 231px 235px,#0000c8 235px 236px,#0000c0 236px 238px,#0000b0 238px 240px,#0000b8 240px 242px,#0000c0 242px 245px,#0000c8 245px 249px,#0000b8 249px 251px,#0000c8 251px 252px,#0000b8 252px 254px,#0000c8 254px 256px,#0000b0 256px 259px,#0000c0 259px 261px,#0000b8 261px 263px,#0000b0 263px 265px,#0000c0 265px 272px,#0000c8 272px 273px,#0000b0 273px 275px,#0000b8 275px 277px,#0000b0 277px 280px,#0000b8 280px 282px,#0000b0 282px 284px,#0000c0 284px 287px,#0000b0 287px 291px,#0000b8 291px 296px,#0000a8 296px 298px,#0000c0 298px 303px,#0000b0 303px 305px,#0000c0 305px 307px,#0000b8 307px 312px,#0000b0 312px 314px,#0000c0 314px 315px,#0000b8 315px 317px,#0000b0 317px 319px,#0000b8 319px 321px,#0000b0 321px 326px,#0000b8 326px 329px,#0000a8 329px 331px,#0000b0 331px 333px,#0000b8 333px 335px,#0000b0 335px 338px,#0000b8 338px 342px,#0000c0 342px 343px,#0000a8 343px 345px,#0000b8 345px 347px,#0000b0 347px 349px)"></div>
<div class="r" style="top:279px;height:6px;background:linear-gradient(90deg,#800000 0px 11px,#a00000 11px 12px,#c80000 12px 13px,#e00000 13px 14px,#f00000 14px 15px,#ff2000 15px 16px,#ff7000 16px 17px,#ffd000 17px 18px,#ffe000 18px 19px,#fff000 19px 20px,#d0ff30 20px 21px,#d8ff28 21px 22px,#c8ff30 22px 23px,#c0ff40 23px 24px,#b0ff50 24px 25px,#a8ff50 25px 26px,#a0ff60 26px 27px,#78ff88 27px 28px,#60ffa0 28px 29px,#50ffa8 29px 30px,#60ffa0 30px 31px,#50ffa8 31px 32px,#28ffd8 32px 33px,#18ffe8 33px 34px,#00ffff 34px 35px,#28ffd0 35px 36px,#28ffd8 36px 37px,#00f8ff 37px 38px,#00f0ff 38px 39px,#00ffff 39px 40px,#00f8ff 40px 41px,#18ffe8 41px 42px,#00f8ff 42px 44px,#00e0ff 44px 48px,#00fff8 48px 49px,#00e0ff 49px 50px,#00d0ff 50px 52px,#00b0ff 52px 53px,#0080ff 53px 55px,#0090ff 55px 56px,#0098ff 56px 58px,#0078ff 58px 60px,#0068ff 60px 61px,#0060ff 61px 62px,#0050ff 62px 63px,#0068ff 63px 65px,#0060ff 65px 66px,#0058ff 66px 67px,#0068ff 67px 69px,#0048ff 69px 74px,#0058ff 74px 76px,#0040ff 76px 78px,#0038ff 78px 79px,#0040ff 79px 81px,#0030ff 81px 83px,#0040ff 83px 84px,#0020ff 84px 85px,#0018ff 85px 86px,#0020ff 86px 88px,#0038ff 88px 95px,#0018ff 95px 97px,#0020ff 97px 100px,#0008ff 100px 102px,#0030ff 102px 104px,#0018ff 104px 105px,#0030ff 105px 106px,#0028ff 106px 107px,#0010ff 107px 109px,#0030ff 109px 111px,#0018ff 111px 112px,#0010ff 112px 114px,#0018ff 114px 116px,#0010ff 116px 118px,#0020ff 118px 119px,#0000ff 119px 121px,#0010ff 121px 125px,#0000ff 125px 128px,#0020ff 128px 131px,#0018ff 131px 132px,#0008ff 132px 133px,#0000ff 133px 137px,#0018ff 137px 139px,#0000ff 139px 140px,#0008ff 140px 142px,#0010ff 142px 144px,#0008ff 144px 146px,#0020ff 146px 147px,#0000f8 147px 149px,#0020ff 149px 151px,#0018ff 151px 153px,#0000f8 153px 154px,#0000ff 154px 156px,#0000f8 156px 158px,#0010ff 158px 160px,#0000ff 160px 161px,#0010ff 161px 163px,#0000ff 163px 165px,#0008ff 165px 166px,#0000ff 166px 168px,#0008ff 168px 170px,#0000ff 170px 172px,#0000f8 172px 175px,#0000f0 175px 177px,#0000f8 177px 179px,#0008ff 179px 181px,#0000e8 181px 184px,#0010ff 184px 188px,#0008ff 188px 193px,#0000f8 193px 194px,#0000f0 194px 195px,#0008ff 195px 197px,#0000ff 197px 200px,#0008ff 200px 203px,#0000ff 203px 205px,#0000e8 205px 207px,#0008ff 207px 209px,#0000ff 209px 210px,#0000e0 210px 214px,#0000f8 214px 216px,#0000e8 216px 217px,#0000f8 217px 219px,#0000f0 219px 221px,#0000e8 221px 226px,#0000e0 226px 228px,#0008ff 228px 229px,#0000ff 229px 230px,#0000e0 230px 231px,#0000f0 231px 233px,#0000e0 233px 235px,#0000f0 235px 237px,#0000e0 237px 238px,#0000e8 238px 240px,#0000e0 240px 242px,#0000f8 242px 244px,#0000e8 244px 245px,#0000e0 245px 247px,#0000f0 247px 249px,#0000e8 249px 251px,#0000e0 251px 252px,#0000f8 252px 254px,#0000e0 254px 256px,#0000e8 256px 258px,#0000e0 258px 259px,#0000f0 259px 261px,#0000e0 261px 263px,#0000f0 263px 264px,#0000e8 264px 265px,#0000e0 265px 266px,#0000d8 266px 268px,#0000f8 268px 270px,#0000e8 270px 273px,#0000f0 273px 277px,#0000e0 277px 279px,#0000e8 279px 280px,#0000d8 280px 282px,#0000e0 282px 286px,#0000f0 286px 287px,#0000e0 287px 291px,#0000f0 291px 293px,#0000e8 293px 294px,#0000f0 294px 298px,#0000e8 298px 300px,#0000f0 300px 301px,#0000f8 301px 305px,#0000e8 305px 307px,#0000f0 307px 308px,#0000e8 308px 312px,#0000e0 312px 317px,#0000d0 317px 319px,#0000e0 319px 321px,#0000e8 321px 322px,#0000e0 322px 326px,#0000d0 326px 328px,#0000e0 328px 329px,#0000d0 329px 331px,#0000e8 331px 333px,#0000d0 333px 335px,#0000e8 335px 336px,#0000e0 336px 338px,#0000e8 338px 339px,#0000e0 339px 342px,#0000e8 342px 343px,#0000e0 343px 345px,#0000d8 345px 347px,#0000d0 347px 349px)"></div>
<div class="r" style="top:303px;height:6px;background:linear-gradient(90deg,#800000 0px 12px,#880000 12px 13px,#e80000 13px 14px,#ff1800 14px 15px,#ff4800 15px 16px,#ff5800 16px 17px,#ffb800 17px 18px,#fff000 18px 19px,#ffff00 19px 21px,#e8ff18 21px 22px,#e0ff20 22px 23px,#b8ff48 23px 24px,#a8ff50 24px 25px,#a0ff60 25px 26px,#90ff68 26px 27px,#70ff88 27px 28px,#58ffa8 28px 29px,#48ffb8 29px 30px,#78ff80 30px 31px,#70ff90 31px 32px,#30ffd0 32px 33px,#20ffe0 33px 35px,#30ffd0 35px 37px,#00ffff 37px 39px,#00f0ff 39px 41px,#08fff8 41px 42px,#20ffe0 42px 45px,#18ffe8 45px 46px,#00e8ff 46px 48px,#10fff0 48px 49px,#00f8ff 49px 50px,#00e8ff 50px 51px,#00d0ff 51px 52px,#00b0ff 52px 53px,#0078ff 53px 54px,#0070ff 54px 55px,#0060ff 55px 56px,#0080ff 56px 57px,#0078ff 57px 58px,#0080ff 58px 60px,#0060ff 60px 62px,#0080ff 62px 63px,#0050ff 63px 65px,#0078ff 65px 66px,#0070ff 66px 67px,#0058ff 67px 68px,#0050ff 68px 69px,#0058ff 69px 70px,#0040ff 70px 72px,#0038ff 72px 74px,#0030ff 74px 76px,#0058ff 76px 77px,#0050ff 77px 79px,#0030ff 79px 81px,#0048ff 81px 83px,#0038ff 83px 84px,#0018ff 84px 86px,#0038ff 86px 88px,#0018ff 88px 90px,#0010ff 90px 91px,#0028ff 91px 92px,#0020ff 92px 93px,#0018ff 93px 95px,#0030ff 95px 97px,#0020ff 97px 98px,#0018ff 98px 100px,#0028ff 100px 101px,#0020ff 101px 102px,#0010ff 102px 103px,#0008ff 103px 105px,#0018ff 105px 107px,#0020ff 107px 109px,#0010ff 109px 111px,#0018ff 111px 112px,#0028ff 112px 116px,#0010ff 116px 118px,#0028ff 118px 119px,#0008ff 119px 121px,#0010ff 121px 123px,#0000ff 123px 126px,#0008ff 126px 128px,#0010ff 128px 130px,#0018ff 130px 132px,#0010ff 132px 133px,#0000ff 133px 134px,#0000f8 134px 135px,#0010ff 135px 139px,#0000f8 139px 140px,#0018ff 140px 142px,#0000f8 142px 144px,#0018ff 144px 146px,#0010ff 146px 147px,#0020ff 147px 149px,#0010ff 149px 153px,#0008ff 153px 158px,#0000f0 158px 161px,#0000ff 161px 163px,#0000f0 163px 165px,#0010ff 165px 167px,#0000ff 167px 168px,#0010ff 168px 170px,#0000f8 170px 172px,#0000ff 172px 175px,#0008ff 175px 176px,#0000ff 176px 177px,#0000f8 177px 178px,#0000f0 178px 181px,#0008ff 181px 182px,#0000f0 182px 184px,#0000ff 184px 188px,#0000e8 188px 189px,#0008ff 189px 191px,#0000f0 191px 195px,#0000ff 195px 198px,#0000e8 198px 200px,#0008ff 200px 202px,#0000ff 202px 203px,#0000e8 203px 205px,#0000ff 205px 207px,#0000f8 207px 209px,#0008ff 209px 210px,#0000e8 210px 214px,#0000f8 214px 216px,#0000ff 216px 217px,#0000e0 217px 219px,#0000f0 219px 221px,#0000e8 221px 223px,#0000ff 223px 224px,#0008ff 224px 226px,#0000f0 226px 228px,#0000ff 228px 230px,#0000f8 230px 231px,#0000f0 231px 233px,#0000ff 233px 235px,#0000e8 235px 237px,#0000f8 237px 238px,#0000f0 238px 242px,#0000f8 242px 244px,#0000ff 244px 245px,#0000f0 245px 247px,#0000e8 247px 249px,#0000f8 249px 251px,#0000e0 251px 252px,#0000d8 252px 254px,#0000e8 254px 256px,#0000e0 256px 258px,#0000f8 258px 259px,#0000ff 259px 261px,#0000e0 261px 263px,#0000e8 263px 265px,#0000f0 265px 266px,#0000f8 266px 268px,#0000d8 268px 270px,#0000e0 270px 271px,#0000d8 271px 273px,#0000e8 273px 275px,#0000d8 275px 279px,#0000e8 279px 280px,#0000f0 280px 284px,#0000e8 284px 286px,#0000d8 286px 287px,#0000e0 287px 289px,#0000e8 289px 291px,#0000e0 291px 293px,#0000d8 293px 294px,#0000f0 294px 301px,#0000e0 301px 305px,#0000d8 305px 307px,#0000f0 307px 308px,#0000d0 308px 310px,#0000e0 310px 314px,#0000d8 314px 315px,#0000e8 315px 319px,#0000d0 319px 321px,#0000d8 321px 322px,#0000f0 322px 324px,#0000d0 324px 328px,#0000e0 328px 329px,#0000d8 329px 331px,#0000e0 331px 333px,#0000d0 333px 335px,#0000f0 335px 336px,#0000d8 336px 338px,#0000e0 338px 340px,#0000f0 340px 342px,#0000d8 342px 345px,#0000e0 345px 349px)"></div>
<div class="r" style="top:339px;height:6px;background:linear-gradient(90deg,#800000 0px 12px,#880000 12px 14px,#b80000 14px 15px,#f00000 15px 16px,#ff2000 16px 17px,#ff5800 17px 18px,#ff7800 18px 19px,#ffb800 19px 20px,#fff000 20px 21px,#ffe800 21px 22px,#fff800 22px 23px,#f8ff08 23px 24px,#e8ff10 24px 25px,#b8ff48 25px 26px,#a8ff58 26px 27px,#b0ff50 27px 28px,#90ff70 28px 29px,#80ff80 29px 30px,#58ffa8 30px 31px,#40ffb8 31px 32px,#40ffc0 32px 33px,#28ffd0 33px 34px,#38ffc8 34px 35px,#00f0ff 35px 37px,#08fff8 37px 38px,#00ffff 38px 39px,#00f0ff 39px 40px,#00e8ff 40px 41px,#00e0ff 41px 42px,#08fff0 42px 43px,#08fff8 43px 44px,#00f8ff 44px 45px,#00f0ff 45px 46px,#00f8ff 46px 48px,#00e0ff 48px 50px,#00d8ff 50px 51px,#00d0ff 51px 52px,#00b0ff 52px 53px,#0090ff 53px 54px,#0088ff 54px 55px,#00b8ff 55px 56px,#0070ff 56px 58px,#0098ff 58px 59px,#0090ff 59px 60px,#0078ff 60px 62px,#0068ff 62px 63px,#0078ff 63px 65px,#0070ff 65px 67px,#0058ff 67px 69px,#0068ff 69px 72px,#0060ff 72px 73px,#0058ff 73px 74px,#0050ff 74px 76px,#0068ff 76px 77px,#0030ff 77px 79px,#0058ff 79px 80px,#0050ff 80px 81px,#0038ff 81px 84px,#0050ff 84px 85px,#0048ff 85px 86px,#0038ff 86px 87px,#0030ff 87px 89px,#0028ff 89px 90px,#0038ff 90px 91px,#0030ff 91px 93px,#0018ff 93px 95px,#0040ff 95px 97px,#0030ff 97px 99px,#0028ff 99px 102px,#0038ff 102px 104px,#0020ff 104px 105px,#0010ff 105px 107px,#0038ff 107px 109px,#0010ff 109px 111px,#0018ff 111px 112px,#0028ff 112px 114px,#0010ff 114px 116px,#0018ff 116px 118px,#0028ff 118px 119px,#0030ff 119px 121px,#0008ff 121px 125px,#0028ff 125px 126px,#0008ff 126px 128px,#0018ff 128px 130px,#0030ff 130px 131px,#0028ff 131px 132px,#0000ff 132px 133px,#0010ff 133px 135px,#0028ff 135px 137px,#0008ff 137px 139px,#0020ff 139px 140px,#0008ff 140px 141px,#0000ff 141px 142px,#0018ff 142px 143px,#0010ff 143px 144px,#0008ff 144px 146px,#0010ff 146px 147px,#0020ff 147px 149px,#0018ff 149px 151px,#0008ff 151px 153px,#0000f8 153px 154px,#0018ff 154px 156px,#0008ff 156px 158px,#0010ff 158px 160px,#0000ff 160px 161px,#0010ff 161px 163px,#0008ff 163px 165px,#0000f0 165px 167px,#0010ff 167px 168px,#0000f8 168px 170px,#0008ff 170px 171px,#0000ff 171px 172px,#0010ff 172px 175px,#0000f0 175px 177px,#0000ff 177px 179px,#0008ff 179px 181px,#0000f0 181px 184px,#0000f8 184px 189px,#0008ff 189px 191px,#0010ff 191px 193px,#0000f8 193px 196px,#0000f0 196px 198px,#0000ff 198px 200px,#0000f8 200px 203px,#0000f0 203px 205px,#0008ff 205px 207px,#0000f0 207px 210px,#0008ff 210px 212px,#0000e8 212px 214px,#0000ff 214px 216px,#0000f8 216px 217px,#0000e0 217px 219px,#0000e8 219px 221px,#0000ff 221px 226px,#0000f0 226px 228px,#0000ff 228px 230px,#0000f0 230px 231px,#0000ff 231px 235px,#0000f0 235px 237px,#0000e8 237px 238px,#0008ff 238px 240px,#0000ff 240px 242px,#0000f0 242px 245px,#0000e8 245px 247px,#0000e0 247px 251px,#0000f0 251px 252px,#0000e0 252px 254px,#0000e8 254px 256px,#0000f0 256px 258px,#0000e8 258px 259px,#0000f8 259px 261px,#0000e0 261px 263px,#0000f0 263px 268px,#0000e8 268px 270px,#0000e0 270px 272px,#0000ff 272px 275px,#0000e8 275px 277px,#0000f0 277px 279px,#0000f8 279px 282px,#0000f0 282px 284px,#0000e8 284px 286px,#0000f0 286px 289px,#0000e0 289px 294px,#0000f8 294px 296px,#0000f0 296px 300px,#0000e0 300px 301px,#0000f0 301px 305px,#0000f8 305px 312px,#0000e0 312px 314px,#0000e8 314px 315px,#0000d8 315px 317px,#0000f0 317px 319px,#0000e8 319px 324px,#0000f0 324px 328px,#0000f8 328px 329px,#0000e8 329px 331px,#0000d8 331px 333px,#0000f8 333px 335px,#0000e8 335px 336px,#0000d8 336px 340px,#0000f8 340px 342px,#0000f0 342px 343px,#0000e0 343px 345px,#0000f0 345px 347px,#0000d8 347px 349px)"></div>
<div class="r" style="top:345px;height:12px;background:linear-gradient(90deg,#800000 0px 18px,#a00000 18px 19px,#d00000 19px 20px,#f00000 20px 21px,#ff1000 21px 22px,#ff3800 22px 23px,#ff9000 23px 24px,#ffc000 24px 25px,#ffd000 25px 26px,#ffd800 26px 27px,#ffd000 27px 29px,#ffd800 29px 30px,#e0ff18 30px 31px,#d8ff28 31px 32px,#b8ff48 32px 33px,#a0ff60 33px 34px,#b0ff50 34px 35px,#98ff68 35px 36px,#90ff68 36px 37px,#70ff90 37px 39px,#68ff98 39px 41px,#80ff80 41px 42px,#58ffa8 42px 43px,#50ffb0 43px 45px,#48ffb8 45px 46px,#70ff90 46px 48px,#60ffa0 48px 49px,#68ff98 49px 50px,#50ffb0 50px 51px,#10fff0 51px 52px,#00f0ff 52px 53px,#00f8ff 53px 54px,#00f0ff 54px 55px,#10fff0 55px 56px,#00e0ff 56px 58px,#00d8ff 58px 60px,#08fff8 60px 62px,#00c8ff 62px 65px,#00d0ff 65px 67px,#00e8ff 67px 69px,#00c0ff 69px 70px,#00b8ff 70px 72px,#00e0ff 72px 76px,#00d0ff 76px 77px,#00c0ff 77px 79px,#00e8ff 79px 81px,#00d8ff 81px 83px,#00d0ff 83px 84px,#00b8ff 84px 86px,#00b0ff 86px 91px,#00a8ff 91px 92px,#00a0ff 92px 94px,#0098ff 94px 96px,#0090ff 96px 97px,#00a0ff 97px 98px,#0090ff 98px 99px,#0088ff 99px 100px,#0078ff 100px 101px,#0070ff 101px 102px,#00a8ff 102px 103px,#00a0ff 103px 104px,#0080ff 104px 105px,#0090ff 105px 107px,#0070ff 107px 109px,#0050ff 109px 111px,#0060ff 111px 112px,#0068ff 112px 114px,#0050ff 114px 116px,#0078ff 116px 118px,#0060ff 118px 119px,#0078ff 119px 121px,#0070ff 121px 123px,#0078ff 123px 125px,#0048ff 125px 126px,#0058ff 126px 128px,#0078ff 128px 130px,#0048ff 130px 135px,#0040ff 135px 137px,#0060ff 137px 139px,#0048ff 139px 140px,#0058ff 140px 142px,#0038ff 142px 144px,#0058ff 144px 147px,#0060ff 147px 149px,#0068ff 149px 151px,#0048ff 151px 153px,#0040ff 153px 154px,#0050ff 154px 155px,#0048ff 155px 156px,#0040ff 156px 158px,#0060ff 158px 160px,#0040ff 160px 161px,#0048ff 161px 163px,#0040ff 163px 168px,#0028ff 168px 170px,#0050ff 170px 172px,#0058ff 172px 174px,#0038ff 174px 175px,#0050ff 175px 177px,#0040ff 177px 179px,#0048ff 179px 181px,#0030ff 181px 184px,#0020ff 184px 186px,#0038ff 186px 188px,#0040ff 188px 191px,#0020ff 191px 193px,#0028ff 193px 195px,#0020ff 195px 200px,#0038ff 200px 202px,#0018ff 202px 203px,#0030ff 203px 205px,#0040ff 205px 207px,#0038ff 207px 209px,#0018ff 209px 210px,#0020ff 210px 212px,#0030ff 212px 214px,#0020ff 214px 216px,#0038ff 216px 217px,#0018ff 217px 221px,#0040ff 221px 223px,#0030ff 223px 228px,#0020ff 228px 231px,#0030ff 231px 233px,#0010ff 233px 235px,#0028ff 235px 237px,#0010ff 237px 238px,#0038ff 238px 240px,#0030ff 240px 242px,#0010ff 242px 244px,#0030ff 244px 247px,#0020ff 247px 249px,#0008ff 249px 251px,#0010ff 251px 252px,#0030ff 252px 253px,#0028ff 253px 254px,#0010ff 254px 256px,#0030ff 256px 258px,#0008ff 258px 259px,#0030ff 259px 261px,#0008ff 261px 263px,#0028ff 263px 265px,#0020ff 265px 266px,#0008ff 266px 268px,#0018ff 268px 270px,#0010ff 270px 272px,#0008ff 272px 273px,#0010ff 273px 275px,#0000ff 275px 277px,#0010ff 277px 279px,#0018ff 279px 280px,#0010ff 280px 282px,#0018ff 282px 284px,#0020ff 284px 286px,#0028ff 286px 287px,#0010ff 287px 289px,#0020ff 289px 291px,#0008ff 291px 293px,#0000ff 293px 294px,#0000f8 294px 296px,#0010ff 296px 298px,#0008ff 298px 300px,#0000ff 300px 303px,#0008ff 303px 305px,#0018ff 305px 307px,#0000f8 307px 308px,#0000ff 308px 310px,#0020ff 310px 314px,#0008ff 314px 317px,#0010ff 317px 319px,#0000f8 319px 321px,#0010ff 321px 324px,#0000f0 324px 326px,#0000ff 326px 328px,#0008ff 328px 329px,#0010ff 329px 330px,#0008ff 330px 333px,#0000f8 333px 335px,#0008ff 335px 336px,#0000e8 336px 338px,#0000f8 338px 342px,#0000f0 342px 343px,#0000f8 343px 345px,#0000f0 345px 349px)"></div>
<div class="r" style="top:363px;height:6px;background:linear-gradient(90deg,#800000 0px 20px,#b80000 20px 21px,#c00000 21px 22px,#d00000 22px 23px,#b80000 23px 24px,#c80000 24px 25px,#d80000 25px 26px,#e00000 26px 27px,#ff0800 27px 29px,#ff1000 29px 30px,#ff3800 30px 31px,#ff4000 31px 32px,#ff1000 32px 33px,#ff2000 33px 34px,#ff3000 34px 35px,#ff4800 35px 36px,#ff5800 36px 37px,#ffa000 37px 38px,#ffb000 38px 39px,#ffb800 39px 40px,#ffc800 40px 41px,#ffa800 41px 42px,#ffd800 42px 43px,#fff000 43px 44px,#f0ff10 44px 45px,#e0ff20 45px 46px,#f0ff10 46px 47px,#e8ff18 47px 48px,#e0ff20 48px 49px,#e8ff18 49px 50px,#e0ff20 50px 51px,#a0ff60 51px 52px,#98ff68 52px 53px,#98ff60 53px 54px,#98ff68 54px 55px,#a8ff58 55px 56px,#80ff80 56px 57px,#78ff88 57px 58px,#98ff68 58px 59px,#90ff70 59px 60px,#68ff98 60px 61px,#60ffa0 61px 62px,#90ff70 62px 63px,#60ffa0 63px 64px,#58ffa8 64px 65px,#68ff98 65px 66px,#60ffa0 66px 67px,#50ffb0 67px 68px,#48ffb0 68px 69px,#60ffa0 69px 70px,#28ffd8 70px 71px,#20ffd8 71px 72px,#50ffa8 72px 73px,#50ffb0 73px 74px,#58ffa8 74px 75px,#50ffb0 75px 76px,#30ffd0 76px 77px,#40ffb8 77px 78px,#40ffc0 78px 79px,#00ffff 79px 81px,#00f0ff 81px 82px,#00e8ff 82px 83px,#10fff0 83px 86px,#00e0ff 86px 87px,#00d8ff 87px 88px,#00e8ff 88px 90px,#00e0ff 90px 91px,#00e8ff 91px 92px,#00e0ff 92px 93px,#00c0ff 93px 97px,#00e8ff 97px 98px,#00c8ff 98px 99px,#00c0ff 99px 102px,#00d0ff 102px 104px,#00c8ff 104px 105px,#00a0ff 105px 107px,#00b0ff 107px 109px,#00c8ff 109px 110px,#00c0ff 110px 111px,#00b0ff 111px 112px,#00c0ff 112px 114px,#00a8ff 114px 116px,#00b8ff 116px 117px,#00b0ff 117px 118px,#00d0ff 118px 119px,#0090ff 119px 121px,#00a0ff 121px 122px,#0098ff 122px 123px,#0090ff 123px 126px,#00c0ff 126px 128px,#0090ff 128px 130px,#0088ff 130px 132px,#00a8ff 132px 133px,#0088ff 133px 135px,#0080ff 135px 136px,#0078ff 136px 137px,#0090ff 137px 139px,#0078ff 139px 140px,#00a0ff 140px 142px,#0098ff 142px 144px,#0070ff 144px 148px,#0068ff 148px 149px,#0088ff 149px 151px,#0078ff 151px 154px,#0060ff 154px 158px,#0088ff 158px 159px,#0080ff 159px 160px,#0070ff 160px 161px,#0068ff 161px 165px,#0080ff 165px 166px,#0078ff 166px 167px,#0058ff 167px 168px,#0060ff 168px 170px,#0040ff 170px 172px,#0070ff 172px 174px,#0050ff 174px 175px,#0068ff 175px 177px,#0038ff 177px 179px,#0058ff 179px 181px,#0060ff 181px 184px,#0030ff 184px 186px,#0058ff 186px 188px,#0030ff 188px 189px,#0040ff 189px 193px,#0038ff 193px 195px,#0058ff 195px 196px,#0038ff 196px 198px,#0058ff 198px 200px,#0050ff 200px 201px,#0048ff 201px 202px,#0050ff 202px 203px,#0038ff 203px 205px,#0058ff 205px 207px,#0050ff 207px 210px,#0040ff 210px 214px,#0028ff 214px 216px,#0030ff 216px 217px,#0050ff 217px 219px,#0030ff 219px 221px,#0050ff 221px 223px,#0038ff 223px 224px,#0030ff 224px 226px,#0028ff 226px 227px,#0020ff 227px 228px,#0048ff 228px 231px,#0030ff 231px 233px,#0040ff 233px 235px,#0030ff 235px 237px,#0050ff 237px 238px,#0038ff 238px 240px,#0028ff 240px 242px,#0030ff 242px 244px,#0038ff 244px 245px,#0030ff 245px 247px,#0028ff 247px 248px,#0020ff 248px 249px,#0040ff 249px 251px,#0028ff 251px 252px,#0048ff 252px 254px,#0028ff 254px 256px,#0038ff 256px 258px,#0020ff 258px 261px,#0038ff 261px 263px,#0040ff 263px 265px,#0020ff 265px 266px,#0018ff 266px 268px,#0030ff 268px 270px,#0038ff 270px 272px,#0030ff 272px 273px,#0038ff 273px 275px,#0028ff 275px 278px,#0020ff 278px 279px,#0038ff 279px 280px,#0040ff 280px 284px,#0028ff 284px 285px,#0020ff 285px 286px,#0010ff 286px 287px,#0030ff 287px 289px,#0018ff 289px 291px,#0038ff 291px 293px,#0030ff 293px 294px,#0010ff 294px 296px,#0020ff 296px 300px,#0028ff 300px 301px,#0010ff 301px 303px,#0008ff 303px 305px,#0018ff 305px 307px,#0010ff 307px 308px,#0018ff 308px 310px,#0030ff 310px 312px,#0020ff 312px 314px,#0010ff 314px 315px,#0008ff 315px 317px,#0018ff 317px 319px,#0020ff 319px 321px,#0018ff 321px 322px,#0008ff 322px 324px,#0010ff 324px 326px,#0008ff 326px 328px,#0018ff 328px 329px,#0020ff 329px 331px,#0028ff 331px 333px,#0020ff 333px 335px,#0018ff 335px 340px,#0010ff 340px 342px,#0020ff 342px 343px,#0008ff 343px 345px,#0010ff 345px 349px)"></div>
<div class="r" style="top:369px;height:6px;background:linear-gradient(90deg,#0000a8 0px 2px,#0000a0 2px 9px,#0000a8 9px 11px,#0000a0 11px 20px,#0000a8 20px 21px,#0000a0 21px 39px,#0000a8 39px 41px,#0000a0 41px 67px,#0000a8 67px 70px,#0000a0 70px 81px,#0000a8 81px 83px,#0000a0 83px 118px,#0000a8 118px 121px,#0000a0 121px 139px,#0000a8 139px 140px,#0000a0 140px 146px,#0000a8 146px 147px,#0000a0 147px 151px,#0000a8 151px 153px,#0000a0 153px 165px,#0000a8 165px 167px,#0000a0 167px 177px,#0000a8 177px 179px,#0000a0 179px 193px,#0000a8 193px 195px,#0000a0 195px 212px,#0000a8 212px 214px,#0000a0 214px 217px,#0000a8 217px 221px,#0000a0 221px 238px,#0000a8 238px 242px,#0000a0 242px 261px,#0000a8 261px 263px,#0000a0 263px 284px,#0000a8 284px 286px,#0000a0 286px 294px,#0000a8 294px 296px,#0000a0 296px 328px,#0000a8 328px 329px,#0000a0 329px 331px,#0000a8 331px 333px,#0000a0 333px 342px,#0000a8 342px 343px,#0000a0 343px 349px)"></div>
<div class="r" style="top:387px;height:6px;background:linear-gradient(90deg,#800000 0px 16px,#880000 16px 17px,#900000 17px 18px,#800000 18px 20px,#980000 20px 21px,#a00000 21px 22px,#a80000 22px 23px,#b00000 23px 24px,#b80000 24px 25px,#b00000 25px 26px,#c00000 26px 27px,#e00000 27px 28px,#c80000 28px 29px,#d80000 29px 30px,#ff2000 30px 31px,#ff3000 31px 32px,#ff2800 32px 33px,#ff3800 33px 34px,#ff6000 34px 36px,#ff7000 36px 37px,#ff8800 37px 38px,#ff9800 38px 39px,#ff7800 39px 40px,#ff8000 40px 41px,#ffb800 41px 42px,#ffc000 42px 43px,#ffd000 43px 45px,#ffe000 45px 46px,#f8ff08 46px 47px,#f0ff10 47px 48px,#f8ff00 48px 49px,#e8ff18 49px 50px,#e0ff20 50px 51px,#d0ff30 51px 52px,#c0ff40 52px 53px,#c8ff38 53px 54px,#c0ff40 54px 55px,#a8ff58 55px 56px,#b0ff50 56px 57px,#a8ff58 57px 58px,#98ff68 58px 59px,#90ff70 59px 60px,#78ff88 60px 61px,#70ff90 61px 62px,#90ff70 62px 63px,#70ff90 63px 64px,#68ff90 64px 65px,#80ff80 65px 66px,#78ff88 66px 67px,#60ffa0 67px 68px,#58ffa8 68px 69px,#50ffa8 69px 70px,#50ffb0 70px 72px,#60ff98 72px 73px,#60ffa0 73px 74px,#18ffe8 74px 75px,#10fff0 75px 76px,#30ffd0 76px 77px,#08fff8 77px 79px,#38ffc8 79px 80px,#30ffd0 80px 82px,#28ffd8 82px 83px,#00ffff 83px 84px,#08fff8 84px 85px,#00ffff 85px 87px,#00f8ff 87px 88px,#00e0ff 88px 91px,#08fff8 91px 95px,#00f8ff 95px 97px,#00c8ff 97px 98px,#00e8ff 98px 100px,#00d8ff 100px 104px,#00c0ff 104px 105px,#00f0ff 105px 109px,#00b0ff 109px 113px,#00a8ff 113px 114px,#00c0ff 114px 116px,#00e0ff 116px 119px,#00a8ff 119px 121px,#00b0ff 121px 125px,#00b8ff 125px 126px,#00c0ff 126px 128px,#00c8ff 128px 130px,#00b8ff 130px 131px,#00b0ff 131px 132px,#00b8ff 132px 133px,#00c0ff 133px 135px,#00b0ff 135px 137px,#00a8ff 137px 139px,#00c0ff 139px 140px,#00b0ff 140px 141px,#00a8ff 141px 142px,#0088ff 142px 143px,#0080ff 143px 144px,#00b0ff 144px 146px,#0080ff 146px 147px,#00a8ff 147px 151px,#0080ff 151px 154px,#0078ff 154px 156px,#0080ff 156px 158px,#00a0ff 158px 160px,#0098ff 160px 161px,#0060ff 161px 165px,#0080ff 165px 167px,#0060ff 167px 168px,#0080ff 168px 170px,#0090ff 170px 171px,#0088ff 171px 172px,#0080ff 172px 173px,#0078ff 173px 174px,#0058ff 174px 175px,#0060ff 175px 177px,#0050ff 177px 179px,#0078ff 179px 181px,#0058ff 181px 182px,#0070ff 182px 184px,#0050ff 184px 186px,#0070ff 186px 188px,#0060ff 188px 193px,#0058ff 193px 195px,#0070ff 195px 196px,#0068ff 196px 198px,#0050ff 198px 202px,#0048ff 202px 203px,#0070ff 203px 204px,#0068ff 204px 205px,#0058ff 205px 207px,#0060ff 207px 210px,#0050ff 210px 212px,#0060ff 212px 214px,#0058ff 214px 216px,#0040ff 216px 220px,#0038ff 220px 221px,#0060ff 221px 223px,#0040ff 223px 224px,#0060ff 224px 226px,#0040ff 226px 228px,#0038ff 228px 230px,#0060ff 230px 231px,#0050ff 231px 233px,#0038ff 233px 235px,#0058ff 235px 237px,#0050ff 237px 238px,#0060ff 238px 240px,#0030ff 240px 242px,#0038ff 242px 244px,#0050ff 244px 245px,#0058ff 245px 247px,#0050ff 247px 249px,#0030ff 249px 251px,#0040ff 251px 252px,#0050ff 252px 254px,#0040ff 254px 256px,#0028ff 256px 258px,#0040ff 258px 259px,#0048ff 259px 261px,#0028ff 261px 263px,#0050ff 263px 265px,#0048ff 265px 266px,#0038ff 266px 267px,#0030ff 267px 270px,#0048ff 270px 272px,#0050ff 272px 273px,#0028ff 273px 275px,#0048ff 275px 279px,#0030ff 279px 280px,#0040ff 280px 282px,#0020ff 282px 284px,#0038ff 284px 285px,#0030ff 285px 286px,#0020ff 286px 287px,#0028ff 287px 289px,#0038ff 289px 291px,#0020ff 291px 293px,#0028ff 293px 294px,#0020ff 294px 296px,#0018ff 296px 300px,#0030ff 300px 302px,#0028ff 302px 306px,#0020ff 306px 307px,#0030ff 307px 308px,#0038ff 308px 310px,#0020ff 310px 312px,#0018ff 312px 314px,#0020ff 314px 317px,#0028ff 317px 319px,#0020ff 319px 322px,#0028ff 322px 324px,#0018ff 324px 326px,#0038ff 326px 328px,#0030ff 328px 331px,#0010ff 331px 333px,#0018ff 333px 335px,#0030ff 335px 336px,#0010ff 336px 340px,#0030ff 340px 342px,#0018ff 342px 345px,#0010ff 345px 349px)"></div>
<div class="r" style="top:393px;height:6px;background:linear-gradient(90deg,#0000a0 0px 6px,#0000a8 6px 7px,#0000a0 7px 13px,#0000a8 13px 14px,#0000a0 14px 21px,#0000a8 21px 25px,#0000a0 25px 27px,#0000a8 27px 28px,#0000a0 28px 34px,#0000a8 34px 35px,#0000a0 35px 69px,#0000a8 69px 70px,#0000a0 70px 105px,#0000a8 105px 107px,#0000a0 107px 119px,#0000a8 119px 123px,#0000a0 123px 135px,#0000a8 135px 137px,#0000a0 137px 179px,#0000a8 179px 181px,#0000a0 181px 200px,#0000a8 200px 203px,#0000a0 203px 223px,#0000a8 223px 224px,#0000a0 224px 256px,#0000a8 256px 258px,#0000a0 258px 263px,#0000a8 263px 266px,#0000a0 266px 314px,#0000a8 314px 315px,#0000a0 315px 319px,#0000a8 319px 321px,#0000a0 321px 331px,#0000a8 331px 333px,#0000a0 333px 342px,#0000a8 342px 343px,#0000a0 343px 349px)"></div>
<div class="r" style="top:399px;height:6px;background:linear-gradient(90deg,#800000 0px 349px)"></div>
<div class="r" style="top:405px;height:6px;background:linear-gradient(90deg,#0000a0 0px 7px,#0000a8 7px 9px,#0000a0 9px 11px,#0000a8 11px 13px,#0000a0 13px 14px,#0000a8 14px 16px,#0000a0 16px 56px,#0000a8 56px 58px,#0000a0 58px 60px,#0000a8 60px 62px,#0000a0 62px 67px,#0000a8 67px 69px,#0000a0 69px 90px,#0000a8 90px 91px,#0000a0 91px 105px,#0000a8 105px 111px,#0000a0 111px 142px,#0000a8 142px 144px,#0000a0 144px 158px,#0000a8 158px 160px,#0000a0 160px 167px,#0000a8 167px 170px,#0000a0 170px 182px,#0000a8 182px 184px,#0000a0 184px 186px,#0000a8 186px 188px,#0000a0 188px 200px,#0000a8 200px 202px,#0000a0 202px 249px,#0000a8 249px 254px,#0000a0 254px 275px,#0000a8 275px 277px,#0000a0 277px 294px,#0000a8 294px 296px,#0000a0 296px 308px,#0000a8 308px 312px,#0000a0 312px 317px,#0000a8 317px 319px,#0000a0 319px 322px,#0000a8 322px 324px,#0000a0 324px 349px)"></div>
<div class="r" style="top:603px;height:6px;background:linear-gradient(90deg,#800000 0px 5px,#f00000 5px 6px,#ff5000 6px 7px,#ff9800 7px 8px,#ffd800 8px 9px,#d0ff28 9px 10px,#b0ff50 10px 11px,#a0ff60 11px 12px,#78ff88 12px 13px,#60ffa0 13px 14px,#48ffb8 14px 15px,#30ffd0 15px 16px,#00f8ff 16px 17px,#00e0ff 17px 18px,#00b8ff 18px 19px,#00a0ff 19px 20px,#0090ff 20px 21px,#00c8ff 21px 22px,#00c0ff 22px 23px,#00a0ff 23px 24px,#0098ff 24px 25px,#00b0ff 25px 26px,#00a8ff 26px 27px,#0088ff 27px 28px,#0090ff 28px 29px,#0088ff 29px 30px,#0070ff 30px 32px,#0058ff 32px 33px,#0050ff 33px 34px,#0070ff 34px 35px,#0078ff 35px 36px,#0070ff 36px 38px,#0068ff 38px 39px,#0050ff 39px 42px,#0030ff 42px 43px,#0028ff 43px 44px,#0038ff 44px 45px,#0030ff 45px 46px,#0040ff 46px 47px,#0038ff 47px 48px,#0020ff 48px 49px,#0010ff 49px 51px,#0008ff 51px 53px,#0018ff 53px 55px,#0000ff 55px 56px,#0000f8 56px 58px,#0010ff 58px 60px,#0018ff 60px 62px,#0008ff 62px 63px,#0010ff 63px 65px,#0000f0 65px 67px,#0000ff 67px 69px,#0000e8 69px 70px,#0000ff 70px 75px,#0000f8 75px 76px,#0000e8 76px 77px,#0000e0 77px 79px,#0000f0 79px 81px,#0000e8 81px 83px,#0000f0 83px 84px,#0000e8 84px 86px,#0000e0 86px 87px,#0000d8 87px 88px,#0000d0 88px 90px,#0000e8 90px 97px,#0000d0 97px 98px,#0000e0 98px 102px,#0000d0 102px 104px,#0000d8 104px 105px,#0000e8 105px 107px,#0000d8 107px 109px,#0000e0 109px 111px,#0000d0 111px 112px,#0000e0 112px 118px,#0000e8 118px 123px,#0000d0 123px 125px,#0000d8 125px 126px,#0000e8 126px 128px,#0000d0 128px 130px,#0000c8 130px 132px,#0000d8 132px 135px,#0000e0 135px 137px,#0000d0 137px 140px,#0000d8 140px 142px,#0000d0 142px 144px,#0000c8 144px 146px,#0000d0 146px 149px,#0000d8 149px 151px,#0000d0 151px 153px,#0000d8 153px 154px,#0000c8 154px 158px,#0000e0 158px 160px,#0000c8 160px 163px,#0000e0 163px 165px,#0000d0 165px 167px,#0000e0 167px 170px,#0000d8 170px 172px,#0000d0 172px 174px,#0000d8 174px 175px,#0000d0 175px 177px,#0000e0 177px 179px,#0000d0 179px 181px,#0000d8 181px 182px,#0000c8 182px 186px,#0000d0 186px 188px,#0000c8 188px 191px,#0000d8 191px 193px,#0000c8 193px 195px,#0000d8 195px 196px,#0000d0 196px 200px,#0000e0 200px 202px,#0000c0 202px 203px,#0000d8 203px 205px,#0000c8 205px 207px,#0000e0 207px 212px,#0000c8 212px 217px,#0000e0 217px 219px,#0000d8 219px 221px,#0000e0 221px 224px,#0000c8 224px 226px,#0000d0 226px 228px,#0000c8 228px 230px,#0000d0 230px 231px,#0000d8 231px 238px,#0000c8 238px 240px,#0000d0 240px 242px,#0000c0 242px 244px,#0000d0 244px 245px,#0000c8 245px 247px,#0000e0 247px 249px,#0000c0 249px 251px,#0000c8 251px 252px,#0000c0 252px 254px,#0000d8 254px 256px,#0000c8 256px 258px,#0000c0 258px 261px,#0000c8 261px 263px,#0000d0 263px 268px,#0000d8 268px 270px,#0000d0 270px 272px,#0000c8 272px 273px,#0000c0 273px 279px,#0000c8 279px 280px,#0000c0 280px 282px,#0000e0 282px 284px,#0000d0 284px 287px,#0000c0 287px 293px,#0000d8 293px 294px,#0000c8 294px 296px,#0000d8 296px 298px,#0000c0 298px 303px,#0000d8 303px 305px,#0000c8 305px 307px,#0000d0 307px 312px,#0000b8 312px 314px,#0000c8 314px 315px,#0000d0 315px 317px,#0000d8 317px 319px,#0000c8 319px 322px,#0000c0 322px 328px,#0000d8 328px 329px,#0000c8 329px 331px,#0000b8 331px 335px,#0000c0 335px 338px,#0000d0 338px 342px,#0000c8 342px 345px,#0000b8 345px 347px,#0000c0 347px 349px)"></div>
<div class="r" style="top:663px;height:6px;background:linear-gradient(90deg,#800000 0px 14px,#980000 14px 15px,#d80000 15px 16px,#ff3000 16px 17px,#ff5000 17px 18px,#ff9000 18px 19px,#ffb800 19px 20px,#ffd800 20px 21px,#ffd000 21px 22px,#ffe800 22px 23px,#f0ff10 23px 24px,#d8ff28 24px 25px,#b8ff40 25px 26px,#a8ff58 26px 28px,#b8ff48 28px 29px,#a8ff58 29px 30px,#50ffb0 30px 31px,#38ffc8 31px 32px,#40ffc0 32px 33px,#28ffd8 33px 34px,#00f8ff 34px 35px,#00e0ff 35px 37px,#10fff0 37px 38px,#08fff8 38px 39px,#00e0ff 39px 41px,#00ffff 41px 42px,#00e8ff 42px 44px,#08fff8 44px 45px,#00ffff 45px 46px,#00e0ff 46px 48px,#00c8ff 48px 51px,#00f8ff 51px 52px,#00f0ff 52px 53px,#00b8ff 53px 54px,#00b0ff 54px 55px,#00e0ff 55px 56px,#00c8ff 56px 57px,#00c0ff 57px 58px,#00c8ff 58px 59px,#00c0ff 59px 60px,#00e0ff 60px 62px,#00b0ff 62px 63px,#00d0ff 63px 64px,#00c8ff 64px 65px,#00c0ff 65px 66px,#00b8ff 66px 67px,#00a0ff 67px 68px,#0098ff 68px 69px,#00c0ff 69px 70px,#0090ff 70px 71px,#0088ff 71px 74px,#00a0ff 74px 75px,#0098ff 75px 76px,#0090ff 76px 77px,#00a8ff 77px 79px,#00a0ff 79px 81px,#0070ff 81px 84px,#0080ff 84px 86px,#0088ff 86px 87px,#0080ff 87px 90px,#0070ff 90px 91px,#0060ff 91px 93px,#0068ff 93px 95px,#0080ff 95px 97px,#0050ff 97px 98px,#0048ff 98px 100px,#0058ff 100px 101px,#0050ff 101px 102px,#0068ff 102px 104px,#0060ff 104px 105px,#0050ff 105px 107px,#0048ff 107px 109px,#0060ff 109px 111px,#0040ff 111px 112px,#0060ff 112px 114px,#0058ff 114px 116px,#0068ff 116px 119px,#0038ff 119px 123px,#0068ff 123px 125px,#0048ff 125px 126px,#0058ff 126px 128px,#0030ff 128px 130px,#0050ff 130px 132px,#0058ff 132px 135px,#0050ff 135px 137px,#0030ff 137px 139px,#0048ff 139px 140px,#0028ff 140px 141px,#0020ff 141px 142px,#0048ff 142px 143px,#0040ff 143px 144px,#0050ff 144px 147px,#0030ff 147px 149px,#0020ff 149px 151px,#0038ff 151px 152px,#0030ff 152px 153px,#0018ff 153px 154px,#0038ff 154px 156px,#0018ff 156px 158px,#0030ff 158px 160px,#0018ff 160px 161px,#0020ff 161px 163px,#0038ff 163px 165px,#0020ff 165px 167px,#0030ff 167px 170px,#0010ff 170px 171px,#0008ff 171px 172px,#0038ff 172px 174px,#0030ff 174px 177px,#0020ff 177px 179px,#0028ff 179px 180px,#0020ff 180px 181px,#0010ff 181px 182px,#0020ff 182px 184px,#0030ff 184px 185px,#0028ff 185px 188px,#0018ff 188px 189px,#0010ff 189px 193px,#0020ff 193px 195px,#0010ff 195px 196px,#0020ff 196px 198px,#0000ff 198px 200px,#0020ff 200px 202px,#0028ff 202px 203px,#0010ff 203px 205px,#0008ff 205px 207px,#0028ff 207px 209px,#0020ff 209px 210px,#0010ff 210px 212px,#0020ff 212px 214px,#0028ff 214px 216px,#0018ff 216px 217px,#0028ff 217px 218px,#0020ff 218px 219px,#0010ff 219px 221px,#0018ff 221px 226px,#0010ff 226px 228px,#0000ff 228px 230px,#0018ff 230px 231px,#0000f8 231px 233px,#0000ff 233px 237px,#0018ff 237px 238px,#0000ff 238px 242px,#0010ff 242px 244px,#0018ff 244px 245px,#0008ff 245px 249px,#0000ff 249px 251px,#0010ff 251px 252px,#0008ff 252px 254px,#0000ff 254px 258px,#0018ff 258px 259px,#0008ff 259px 261px,#0010ff 261px 263px,#0000ff 263px 266px,#0000f8 266px 268px,#0010ff 268px 270px,#0008ff 270px 272px,#0010ff 272px 273px,#0018ff 273px 275px,#0000ff 275px 276px,#0000f8 276px 277px,#0018ff 277px 279px,#0008ff 279px 280px,#0010ff 280px 282px,#0008ff 282px 284px,#0010ff 284px 287px,#0000ff 287px 289px,#0000f8 289px 291px,#0000ff 291px 293px,#0010ff 293px 294px,#0000ff 294px 296px,#0018ff 296px 298px,#0000ff 298px 300px,#0008ff 300px 301px,#0000f8 301px 303px,#0010ff 303px 305px,#0000f8 305px 308px,#0008ff 308px 310px,#0000ff 310px 315px,#0000f0 315px 321px,#0000ff 321px 322px,#0000f0 322px 324px,#0008ff 324px 326px,#0010ff 326px 328px,#0000f0 328px 329px,#0008ff 329px 331px,#0010ff 331px 335px,#0000f0 335px 336px,#0010ff 336px 338px,#0008ff 338px 340px,#0000ff 340px 342px,#0000f0 342px 345px,#0000f8 345px 347px,#0008ff 347px 349px)"></div>
<div class="r" style="top:669px;height:6px;background:linear-gradient(90deg,#800000 0px 4px,#ff8000 4px 5px,#c8ff38 5px 6px,#a8ff50 6px 7px,#d8ff20 7px 8px,#c8ff38 8px 9px,#c0ff40 9px 10px,#b0ff50 10px 11px,#60ffa0 11px 12px,#50ffb0 12px 13px,#70ff90 13px 14px,#60ff98 14px 15px,#50ffb0 15px 16px,#10fff0 16px 17px,#00f0ff 17px 18px,#00e0ff 18px 19px,#00b8ff 19px 20px,#00a0ff 20px 21px,#0088ff 21px 22px,#0080ff 22px 23px,#0078ff 23px 25px,#0068ff 25px 27px,#0060ff 27px 28px,#0058ff 28px 29px,#0050ff 29px 30px,#0070ff 30px 31px,#0068ff 31px 32px,#0040ff 32px 33px,#0038ff 33px 34px,#0058ff 34px 37px,#0050ff 37px 39px,#0048ff 39px 40px,#0040ff 40px 41px,#0010ff 41px 42px,#0020ff 42px 43px,#0018ff 43px 44px,#0020ff 44px 46px,#0010ff 46px 47px,#0008ff 47px 48px,#0000f8 48px 49px,#0010ff 49px 50px,#0008ff 50px 51px,#0000ff 51px 52px,#0000f8 52px 53px,#0000f0 53px 55px,#0000e8 55px 56px,#0000e0 56px 60px,#0000d8 60px 62px,#0000ff 62px 63px,#0000e8 63px 64px,#0000e0 64px 65px,#0000ff 65px 67px,#0000f8 67px 69px,#0000e0 69px 70px,#0000ff 70px 74px,#0000f8 74px 76px,#0000f0 76px 79px,#0000e8 79px 81px,#0000d0 81px 83px,#0000f8 83px 84px,#0000d8 84px 86px,#0000e8 86px 88px,#0000f0 88px 90px,#0000e0 90px 91px,#0000f0 91px 95px,#0000e0 95px 97px,#0000f8 97px 98px,#0000e0 98px 100px,#0000d8 100px 102px,#0000d0 102px 104px,#0000f0 104px 105px,#0000f8 105px 107px,#0000e0 107px 109px,#0000d8 109px 112px,#0000f8 112px 114px,#0000d0 114px 116px,#0000e0 116px 118px,#0000f0 118px 119px,#0000e0 119px 123px,#0000e8 123px 125px,#0000f0 125px 126px,#0000c8 126px 128px,#0000e0 128px 130px,#0000c8 130px 132px,#0000e8 132px 133px,#0000f0 133px 135px,#0000e0 135px 137px,#0000d0 137px 139px,#0000d8 139px 140px,#0000f0 140px 142px,#0000d0 142px 144px,#0000e8 144px 146px,#0000c8 146px 147px,#0000d8 147px 149px,#0000d0 149px 151px,#0000c8 151px 153px,#0000d0 153px 156px,#0000e8 156px 158px,#0000e0 158px 160px,#0000d0 160px 161px,#0000d8 161px 163px,#0000e0 163px 165px,#0000c8 165px 167px,#0000d8 167px 168px,#0000e0 168px 172px,#0000d8 172px 175px,#0000e0 175px 177px,#0000e8 177px 179px,#0000d8 179px 181px,#0000e0 181px 184px,#0000c8 184px 186px,#0000d8 186px 188px,#0000c8 188px 189px,#0000c0 189px 191px,#0000e0 191px 195px,#0000e8 195px 196px,#0000c8 196px 198px,#0000e8 198px 202px,#0000c8 202px 203px,#0000d0 203px 205px,#0000e0 205px 210px,#0000c0 210px 212px,#0000e0 212px 214px,#0000c8 214px 215px,#0000c0 215px 216px,#0000e0 216px 217px,#0000d8 217px 219px,#0000c8 219px 221px,#0000e0 221px 226px,#0000c0 226px 228px,#0000d0 228px 230px,#0000c0 230px 231px,#0000c8 231px 233px,#0000d8 233px 235px,#0000c0 235px 240px,#0000e0 240px 242px,#0000c8 242px 244px,#0000d0 244px 245px,#0000e0 245px 247px,#0000d8 247px 249px,#0000d0 249px 251px,#0000c0 251px 252px,#0000d8 252px 254px,#0000d0 254px 256px,#0000c0 256px 258px,#0000e0 258px 259px,#0000d0 259px 261px,#0000c0 261px 263px,#0000e0 263px 265px,#0000d8 265px 266px,#0000c8 266px 268px,#0000d0 268px 270px,#0000e0 270px 272px,#0000d0 272px 273px,#0000c0 273px 275px,#0000d8 275px 279px,#0000d0 279px 280px,#0000c0 280px 282px,#0000e0 282px 284px,#0000d0 284px 286px,#0000b8 286px 287px,#0000c0 287px 289px,#0000d0 289px 291px,#0000c0 291px 293px,#0000c8 293px 296px,#0000d8 296px 298px,#0000c0 298px 301px,#0000e0 301px 303px,#0000c8 303px 305px,#0000e0 305px 307px,#0000b8 307px 308px,#0000c0 308px 310px,#0000d0 310px 314px,#0000e0 314px 321px,#0000d8 321px 322px,#0000c0 322px 324px,#0000d8 324px 326px,#0000d0 326px 328px,#0000c0 328px 329px,#0000d0 329px 331px,#0000c0 331px 333px,#0000d0 333px 335px,#0000d8 335px 336px,#0000c0 336px 338px,#0000b8 338px 340px,#0000e0 340px 342px,#0000c0 342px 345px,#0000d0 345px 347px,#0000e0 347px 349px)"></div>
<div class="r" style="top:675px;height:6px;background:linear-gradient(90deg,#800000 0px 4px,#ff8000 4px 5px,#c8ff38 5px 6px,#c0ff40 6px 7px,#e0ff20 7px 8px,#d0ff30 8px 9px,#c0ff40 9px 10px,#b0ff50 10px 11px,#78ff88 11px 12px,#68ff98 12px 15px,#50ffa8 15px 16px,#28ffd8 16px 17px,#08fff8 17px 18px,#00d8ff 18px 19px,#00b0ff 19px 20px,#00a0ff 20px 21px,#0080ff 21px 22px,#0078ff 22px 23px,#0080ff 23px 24px,#0078ff 24px 25px,#0070ff 25px 26px,#0068ff 26px 27px,#0070ff 27px 28px,#0088ff 28px 29px,#0080ff 29px 30px,#0070ff 30px 32px,#0050ff 32px 34px,#0038ff 34px 35px,#0030ff 35px 37px,#0028ff 37px 38px,#0020ff 38px 39px,#0030ff 39px 41px,#0020ff 41px 42px,#0040ff 42px 44px,#0018ff 44px 45px,#0010ff 45px 46px,#0000f8 46px 48px,#0008ff 48px 49px,#0000f8 49px 50px,#0000f0 50px 51px,#0000e0 51px 53px,#0000d8 53px 55px,#0000e0 55px 56px,#0000ff 56px 58px,#0000e0 58px 63px,#0008ff 63px 65px,#0000f0 65px 69px,#0000ff 69px 70px,#0000e0 70px 72px,#0000f8 72px 74px,#0000f0 74px 77px,#0000e0 77px 81px,#0000d8 81px 83px,#0000f0 83px 84px,#0000e0 84px 86px,#0000d8 86px 88px,#0000f0 88px 90px,#0000e0 90px 91px,#0000d0 91px 95px,#0000e0 95px 97px,#0000d8 97px 98px,#0000d0 98px 100px,#0000f0 100px 104px,#0000e8 104px 105px,#0000d0 105px 107px,#0000d8 107px 109px,#0000f0 109px 111px,#0000e0 111px 112px,#0000c8 112px 114px,#0000d8 114px 116px,#0000e0 116px 118px,#0000e8 118px 119px,#0000e0 119px 121px,#0000e8 121px 123px,#0000f0 123px 125px,#0000c8 125px 126px,#0000d0 126px 128px,#0000c8 128px 135px,#0000e8 135px 137px,#0000f0 137px 138px,#0000e8 138px 139px,#0000d0 139px 140px,#0000e8 140px 142px,#0000f0 142px 144px,#0000d0 144px 146px,#0000f0 146px 147px,#0000d8 147px 149px,#0000e8 149px 151px,#0000e0 151px 154px,#0000c8 154px 156px,#0000e0 156px 158px,#0000c8 158px 161px,#0000d0 161px 163px,#0000e8 163px 167px,#0000e0 167px 168px,#0000d0 168px 172px,#0000e0 172px 174px,#0000e8 174px 175px,#0000c0 175px 179px,#0000e8 179px 181px,#0000e0 181px 182px,#0000d8 182px 184px,#0000e0 184px 186px,#0000d8 186px 188px,#0000c8 188px 189px,#0000c0 189px 191px,#0000d0 191px 193px,#0000c8 193px 196px,#0000c0 196px 198px,#0000e0 198px 200px,#0000e8 200px 202px,#0000c8 202px 203px,#0000c0 203px 205px,#0000c8 205px 207px,#0000e8 207px 209px,#0000d0 209px 210px,#0000e0 210px 212px,#0000c8 212px 214px,#0000d8 214px 216px,#0000e0 216px 217px,#0000c8 217px 219px,#0000d0 219px 221px,#0000c0 221px 223px,#0000d0 223px 224px,#0000c8 224px 226px,#0000c0 226px 228px,#0000d8 228px 231px,#0000c8 231px 233px,#0000e0 233px 235px,#0000d8 235px 237px,#0000c0 237px 240px,#0000d0 240px 242px,#0000e0 242px 244px,#0000c8 244px 247px,#0000d0 247px 249px,#0000c0 249px 251px,#0000c8 251px 252px,#0000e0 252px 254px,#0000c0 254px 258px,#0000d8 258px 259px,#0000e0 259px 263px,#0000d8 263px 265px,#0000d0 265px 266px,#0000d8 266px 268px,#0000e0 268px 270px,#0000c0 270px 273px,#0000d8 273px 275px,#0000c0 275px 277px,#0000d0 277px 279px,#0000d8 279px 280px,#0000c0 280px 282px,#0000e0 282px 286px,#0000c0 286px 291px,#0000e0 291px 293px,#0000d8 293px 294px,#0000c0 294px 296px,#0000e0 296px 298px,#0000c0 298px 300px,#0000d0 300px 301px,#0000c0 301px 303px,#0000d0 303px 305px,#0000e0 305px 308px,#0000c0 308px 310px,#0000e0 310px 312px,#0000c0 312px 314px,#0000d0 314px 315px,#0000d8 315px 317px,#0000d0 317px 319px,#0000c0 319px 321px,#0000c8 321px 322px,#0000d0 322px 324px,#0000c0 324px 326px,#0000d8 326px 328px,#0000b8 328px 329px,#0000c0 329px 331px,#0000d0 331px 333px,#0000e0 333px 335px,#0000d0 335px 336px,#0000d8 336px 338px,#0000e0 338px 340px,#0000c0 340px 342px,#0000d0 342px 343px,#0000c0 343px 345px,#0000c8 345px 349px)"></div>
<div class="r" style="top:681px;height:6px;background:linear-gradient(90deg,#800000 0px 4px,#ff6000 4px 5px,#e8ff10 5px 6px,#b0ff48 6px 7px,#d0ff30 7px 8px,#b8ff40 8px 9px,#a8ff58 9px 10px,#a0ff60 10px 11px,#80ff80 11px 12px,#70ff90 12px 13px,#60ffa0 13px 14px,#30ffd0 14px 15px,#18ffe0 15px 16px,#10fff0 16px 17px,#00f0ff 17px 18px,#00c8ff 18px 19px,#00a0ff 19px 21px,#0090ff 21px 22px,#0088ff 22px 23px,#0078ff 23px 24px,#0070ff 24px 25px,#0090ff 25px 26px,#0088ff 26px 27px,#0080ff 27px 28px,#0070ff 28px 29px,#0068ff 29px 30px,#0080ff 30px 31px,#0078ff 31px 32px,#0068ff 32px 33px,#0060ff 33px 34px,#0058ff 34px 35px,#0048ff 35px 36px,#0040ff 36px 37px,#0038ff 37px 39px,#0040ff 39px 41px,#0028ff 41px 42px,#0040ff 42px 43px,#0038ff 43px 44px,#0020ff 44px 45px,#0018ff 45px 46px,#0028ff 46px 47px,#0020ff 47px 48px,#0010ff 48px 49px,#0000ff 49px 50px,#0000f8 50px 51px,#0000ff 51px 53px,#0000e0 53px 55px,#0000f0 55px 60px,#0000ff 60px 65px,#0000f0 65px 67px,#0000ff 67px 69px,#0000e8 69px 72px,#0000f8 72px 76px,#0000ff 76px 77px,#0000e0 77px 79px,#0000d8 79px 81px,#0000e8 81px 83px,#0000f8 83px 84px,#0000f0 84px 86px,#0000d0 86px 90px,#0000d8 90px 91px,#0000e0 91px 93px,#0000e8 93px 100px,#0000f0 100px 102px,#0000d8 102px 104px,#0000f8 104px 107px,#0000e0 107px 109px,#0000d8 109px 112px,#0000f0 112px 114px,#0000e8 114px 116px,#0000d0 116px 121px,#0000d8 121px 123px,#0000d0 123px 126px,#0000f0 126px 128px,#0000d8 128px 130px,#0000d0 130px 132px,#0000d8 132px 137px,#0000c8 137px 139px,#0000d0 139px 140px,#0000c8 140px 147px,#0000e0 147px 149px,#0000d0 149px 151px,#0000e0 151px 153px,#0000c0 153px 154px,#0000d0 154px 156px,#0000e0 156px 158px,#0000d0 158px 160px,#0000c8 160px 161px,#0000e0 161px 163px,#0000d0 163px 165px,#0000d8 165px 167px,#0000e0 167px 168px,#0000d8 168px 170px,#0000c8 170px 174px,#0000e8 174px 175px,#0000c0 175px 177px,#0000d0 177px 179px,#0000c8 179px 181px,#0000e0 181px 182px,#0000c8 182px 184px,#0000e0 184px 186px,#0000e8 186px 189px,#0000d8 189px 191px,#0000e8 191px 195px,#0000c8 195px 196px,#0000d8 196px 200px,#0000e0 200px 202px,#0000c0 202px 205px,#0000d0 205px 207px,#0000e0 207px 209px,#0000e8 209px 210px,#0000d8 210px 212px,#0000e0 212px 214px,#0000c0 214px 216px,#0000e8 216px 217px,#0000d8 217px 219px,#0000e0 219px 223px,#0000c0 223px 224px,#0000c8 224px 226px,#0000c0 226px 230px,#0000d0 230px 231px,#0000d8 231px 233px,#0000d0 233px 235px,#0000e0 235px 237px,#0000c8 237px 240px,#0000d0 240px 242px,#0000d8 242px 244px,#0000c8 244px 245px,#0000e0 245px 247px,#0000d8 247px 251px,#0000c8 251px 252px,#0000e8 252px 254px,#0000c8 254px 256px,#0000c0 256px 258px,#0000e0 258px 259px,#0000d8 259px 261px,#0000c8 261px 263px,#0000d0 263px 268px,#0000d8 268px 270px,#0000c8 270px 272px,#0000d0 272px 273px,#0000e0 273px 277px,#0000d8 277px 279px,#0000e0 279px 280px,#0000d8 280px 287px,#0000e0 287px 289px,#0000d8 289px 291px,#0000c0 291px 296px,#0000d0 296px 298px,#0000c8 298px 301px,#0000c0 301px 303px,#0000e0 303px 305px,#0000d8 305px 307px,#0000c8 307px 308px,#0000d8 308px 310px,#0000d0 310px 312px,#0000d8 312px 314px,#0000c0 314px 317px,#0000d8 317px 319px,#0000d0 319px 322px,#0000d8 322px 326px,#0000c0 326px 331px,#0000e0 331px 333px,#0000d8 333px 336px,#0000b8 336px 338px,#0000e0 338px 340px,#0000c0 340px 342px,#0000c8 342px 343px,#0000d8 343px 345px,#0000e0 345px 347px,#0000d0 347px 349px)"></div>
<div class="r" style="top:687px;height:6px;background:linear-gradient(90deg,#800000 0px 4px,#ff5800 4px 5px,#f0ff10 5px 6px,#d8ff28 6px 7px,#b8ff48 7px 8px,#a0ff60 8px 9px,#88ff78 9px 10px,#80ff80 10px 11px,#60ffa0 11px 12px,#50ffb0 12px 13px,#68ff98 13px 14px,#78ff88 14px 15px,#60ff98 15px 16px,#40ffc0 16px 17px,#20ffd8 17px 18px,#00f0ff 18px 19px,#00c8ff 19px 20px,#00a8ff 20px 21px,#00b8ff 21px 22px,#00b0ff 22px 23px,#0090ff 23px 25px,#0080ff 25px 26px,#0078ff 26px 27px,#0050ff 27px 29px,#0048ff 29px 30px,#0088ff 30px 31px,#0080ff 31px 32px,#0050ff 32px 33px,#0048ff 33px 34px,#0050ff 34px 35px,#0040ff 35px 36px,#0038ff 36px 37px,#0030ff 37px 39px,#0038ff 39px 41px,#0048ff 41px 42px,#0010ff 42px 43px,#0008ff 43px 45px,#0000ff 45px 46px,#0028ff 46px 48px,#0000ff 48px 49px,#0000f0 49px 51px,#0000e0 51px 53px,#0000f8 53px 55px,#0000e8 55px 56px,#0000f8 56px 58px,#0000f0 58px 60px,#0000ff 60px 63px,#0000e8 63px 65px,#0000ff 65px 69px,#0000e0 69px 70px,#0000f0 70px 72px,#0000ff 72px 74px,#0000e8 74px 76px,#0000e0 76px 77px,#0000f8 77px 79px,#0000e8 79px 81px,#0000e0 81px 83px,#0000f0 83px 84px,#0000e8 84px 88px,#0000f8 88px 91px,#0000d0 91px 95px,#0000f0 95px 97px,#0000e8 97px 100px,#0000d0 100px 102px,#0000d8 102px 104px,#0000d0 104px 105px,#0000e0 105px 109px,#0000d0 109px 111px,#0000e0 111px 112px,#0000f0 112px 114px,#0000e0 114px 116px,#0000d8 116px 119px,#0000e8 119px 120px,#0000e0 120px 123px,#0000d0 123px 125px,#0000f0 125px 130px,#0000d8 130px 132px,#0000f0 132px 133px,#0000d0 133px 135px,#0000c8 135px 137px,#0000d0 137px 142px,#0000e0 142px 147px,#0000e8 147px 149px,#0000d8 149px 151px,#0000e8 151px 153px,#0000d0 153px 154px,#0000c0 154px 158px,#0000d8 158px 160px,#0000e0 160px 161px,#0000c0 161px 163px,#0000e8 163px 165px,#0000d8 165px 167px,#0000e0 167px 168px,#0000e8 168px 170px,#0000d0 170px 174px,#0000c8 174px 175px,#0000d0 175px 177px,#0000e0 177px 179px,#0000d8 179px 181px,#0000e0 181px 182px,#0000d0 182px 184px,#0000d8 184px 186px,#0000e0 186px 189px,#0000d0 189px 193px,#0000c8 193px 196px,#0000d0 196px 198px,#0000c0 198px 200px,#0000d0 200px 203px,#0000c0 203px 205px,#0000c8 205px 207px,#0000c0 207px 209px,#0000e0 209px 210px,#0000d8 210px 212px,#0000e0 212px 214px,#0000d0 214px 217px,#0000e0 217px 221px,#0000c8 221px 223px,#0000c0 223px 224px,#0000e0 224px 226px,#0000d8 226px 228px,#0000d0 228px 230px,#0000d8 230px 233px,#0000c8 233px 235px,#0000d0 235px 237px,#0000e0 237px 238px,#0000c8 238px 240px,#0000e0 240px 242px,#0000d0 242px 244px,#0000c0 244px 245px,#0000e0 245px 247px,#0000c0 247px 249px,#0000d0 249px 251px,#0000e0 251px 252px,#0000c0 252px 256px,#0000c8 256px 258px,#0000e0 258px 259px,#0000d0 259px 261px,#0000c8 261px 263px,#0000e0 263px 265px,#0000c0 265px 266px,#0000c8 266px 268px,#0000d8 268px 270px,#0000d0 270px 272px,#0000d8 272px 273px,#0000c0 273px 275px,#0000d0 275px 277px,#0000e0 277px 280px,#0000b8 280px 282px,#0000e0 282px 284px,#0000c8 284px 286px,#0000c0 286px 289px,#0000d8 289px 291px,#0000e0 291px 293px,#0000c0 293px 294px,#0000d0 294px 296px,#0000d8 296px 298px,#0000e0 298px 303px,#0000d0 303px 305px,#0000e0 305px 307px,#0000d0 307px 308px,#0000c8 308px 310px,#0000d0 310px 312px,#0000b8 312px 314px,#0000c0 314px 315px,#0000b8 315px 317px,#0000e0 317px 319px,#0000c8 319px 321px,#0000d0 321px 322px,#0000e0 322px 324px,#0000c8 324px 326px,#0000d8 326px 328px,#0000d0 328px 329px,#0000c8 329px 331px,#0000b8 331px 333px,#0000d0 333px 335px,#0000c8 335px 336px,#0000d8 336px 338px,#0000c8 338px 340px,#0000d0 340px 342px,#0000d8 342px 343px,#0000d0 343px 345px,#0000d8 345px 347px,#0000c0 347px 349px)"></div>
<div class="r" style="top:693px;height:6px;background:linear-gradient(90deg,#b00000 0px 1px,#c00000 1px 2px,#800000 2px 4px,#c00000 4px 5px,#ff6800 5px 6px,#fff800 6px 7px,#ff4000 7px 9px,#ff5000 9px 11px,#e8ff18 11px 13px,#ff8000 13px 14px,#ff3000 14px 16px,#ff1000 16px 18px,#b0ff50 18px 20px,#ff8800 20px 21px,#ff3000 21px 23px,#ff9000 23px 25px,#ff7800 25px 27px,#f8ff00 27px 28px,#a0ff60 28px 30px,#b0ff48 30px 32px,#ff0800 32px 34px,#ff2000 34px 35px,#c8ff38 35px 37px,#f8ff08 37px 39px,#ff1800 39px 41px,#ff6800 41px 42px,#ff7000 42px 44px,#e0ff20 44px 46px,#ffc000 46px 48px,#98ff68 48px 49px,#ff3800 49px 51px,#ff7800 51px 52px,#ff8000 52px 53px,#ff1800 53px 54px,#ff2000 54px 55px,#ff4000 55px 56px,#f0ff10 56px 58px,#b8ff48 58px 60px,#ff4800 60px 62px,#d0ff30 62px 63px,#a8ff58 63px 65px,#ff5800 65px 66px,#ff4000 66px 67px,#d8ff28 67px 68px,#f8ff08 68px 69px,#900000 69px 70px,#800000 70px 72px,#b00000 72px 74px,#a80000 74px 76px,#ff3800 76px 77px,#ffc000 77px 78px,#ffc800 78px 79px,#f00000 79px 81px,#800000 81px 83px,#b80000 83px 84px,#ff3800 84px 86px,#c80000 86px 88px,#ffb000 88px 90px,#c80000 90px 91px,#900000 91px 92px,#980000 92px 93px,#ffd000 93px 95px,#a00000 95px 97px,#ffa000 97px 98px,#ff1800 98px 100px,#c00000 100px 102px,#ff7800 102px 104px,#980000 104px 105px,#800000 105px 107px,#ff6000 107px 108px,#ff5800 108px 109px,#ff9800 109px 110px,#ff9000 110px 111px,#800000 111px 112px,#c00000 112px 113px,#b80000 113px 114px,#ff3800 114px 115px,#ff3000 115px 116px,#800000 116px 121px,#a80000 121px 122px,#d00000 122px 123px,#ffff00 123px 124px,#d8ff28 124px 125px,#e8ff18 125px 126px,#ff4800 126px 127px,#ff5000 127px 128px,#ff7000 128px 129px,#ff8000 129px 130px,#ff0800 130px 131px,#ff1800 131px 132px,#ff6000 132px 133px,#ff2800 133px 134px,#ff3800 134px 135px,#90ff68 135px 136px,#88ff78 136px 137px,#b8ff48 137px 138px,#a8ff50 138px 139px,#58ffa8 139px 140px,#38ffc8 140px 142px,#b8ff40 142px 143px,#b8ff48 143px 144px,#f0ff10 144px 146px,#28ffd8 146px 147px,#b8ff40 147px 148px,#b8ff48 148px 149px,#f8ff08 149px 150px,#f0ff08 150px 151px,#40ffc0 151px 153px,#90ff70 153px 154px,#ffb000 154px 156px,#70ff90 156px 158px,#ffe000 158px 159px,#ffe800 159px 160px,#fff000 160px 161px,#b0ff50 161px 165px,#ffd000 165px 166px,#ffc800 166px 167px,#90ff70 167px 168px,#e0ff20 168px 169px,#e8ff18 169px 170px,#fff000 170px 172px,#70ff90 172px 174px,#30ffc8 174px 175px,#a0ff60 175px 176px,#a8ff58 176px 177px,#ff8800 177px 178px,#ff8000 178px 179px,#ffd800 179px 181px,#b0ff50 181px 182px,#48ffb8 182px 184px,#38ffc8 184px 186px,#00ffff 186px 188px,#20ffe0 188px 189px,#ffd800 189px 191px,#c8ff38 191px 193px,#80ff80 193px 195px,#00f0ff 195px 196px,#48ffb8 196px 198px,#88ff70 198px 199px,#88ff78 199px 200px,#ff9000 200px 201px,#ffa000 201px 202px,#90ff70 202px 203px,#ffe000 203px 204px,#fff800 204px 205px,#0090ff 205px 206px,#0078ff 206px 207px,#d0ff30 207px 208px,#b8ff48 208px 209px,#80ff80 209px 210px,#78ff80 210px 211px,#78ff88 211px 212px,#40ffc0 212px 214px,#00e0ff 214px 217px,#0040ff 217px 219px,#00f0ff 219px 221px,#0068ff 221px 222px,#0060ff 222px 223px,#00f0ff 223px 224px,#00e0ff 224px 226px,#00a8ff 226px 228px,#0030ff 228px 230px,#0058ff 230px 231px,#00f8ff 231px 233px,#0090ff 233px 235px,#0018ff 235px 237px,#0050ff 237px 238px,#50ffb0 238px 240px,#40ffb8 240px 241px,#40ffc0 241px 242px,#0000ff 242px 244px,#00b8ff 244px 245px,#10fff0 245px 247px,#0080ff 247px 249px,#00c0ff 249px 251px,#0000ff 251px 252px,#00c8ff 252px 254px,#0018ff 254px 256px,#0030ff 256px 258px,#00d0ff 258px 259px,#0000ff 259px 261px,#0060ff 261px 263px,#0050ff 263px 265px,#0070ff 265px 268px,#0090ff 268px 270px,#0000e0 270px 272px,#0060ff 272px 273px,#0030ff 273px 275px,#00b8ff 275px 276px,#00b0ff 276px 277px,#0008ff 277px 279px,#0020ff 279px 280px,#00ffff 280px 281px,#00f8ff 281px 282px,#0000e8 282px 284px,#0048ff 284px 286px,#0090ff 286px 287px,#0000c8 287px 288px,#0000c0 288px 289px,#0000d0 289px 291px,#0010ff 291px 293px,#00c8ff 293px 294px,#0050ff 294px 296px,#00a0ff 296px 298px,#00f0ff 298px 299px,#00e8ff 299px 300px,#0000e0 300px 301px,#00a0ff 301px 303px,#0000d8 303px 305px,#00c8ff 305px 307px,#0050ff 307px 308px,#0000f0 308px 310px,#0020ff 310px 312px,#0088ff 312px 314px,#00c8ff 314px 315px,#0018ff 315px 317px,#0058ff 317px 319px,#0000e0 319px 321px,#0020ff 321px 322px,#0010ff 322px 324px,#0040ff 324px 326px,#0098ff 326px 328px,#0068ff 328px 329px,#00c0ff 329px 330px,#00b8ff 330px 331px,#0010ff 331px 333px,#0040ff 333px 335px,#0038ff 335px 336px,#0000e0 336px 338px,#0088ff 338px 340px,#0000b8 340px 342px,#0030ff 342px 343px,#0010ff 343px 344px,#0008ff 344px 345px,#0040ff 345px 347px,#0008ff 347px 349px)"></div>
<div class="r" style="top:699px;height:6px;background:linear-gradient(90deg,#800000 0px 4px,#ff5800 4px 5px,#f0ff10 5px 6px,#b0ff50 6px 7px,#e8ff10 7px 8px,#d8ff28 8px 9px,#80ff80 9px 10px,#70ff90 10px 11px,#68ff98 11px 12px,#58ffa8 12px 13px,#88ff70 13px 14px,#40ffc0 14px 15px,#28ffd8 15px 16px,#00ffff 16px 17px,#00e0ff 17px 18px,#00f0ff 18px 19px,#00c8ff 19px 20px,#0070ff 20px 21px,#00c0ff 21px 22px,#00b8ff 22px 23px,#0078ff 23px 24px,#0070ff 24px 25px,#0088ff 25px 27px,#0070ff 27px 28px,#0080ff 28px 29px,#0078ff 29px 30px,#0070ff 30px 31px,#0068ff 31px 32px,#0078ff 32px 33px,#0070ff 33px 34px,#0060ff 34px 35px,#0038ff 35px 36px,#0030ff 36px 37px,#0058ff 37px 38px,#0050ff 38px 39px,#0020ff 39px 41px,#0038ff 41px 42px,#0018ff 42px 43px,#0010ff 43px 44px,#0008ff 44px 45px,#0000ff 45px 46px,#0018ff 46px 48px,#0010ff 48px 50px,#0008ff 50px 51px,#0000e0 51px 53px,#0000e8 53px 55px,#0000f0 55px 56px,#0000e8 56px 62px,#0000d8 62px 63px,#0000f0 63px 67px,#0000ff 67px 70px,#0000f0 70px 72px,#0000e0 72px 74px,#0000e8 74px 76px,#0000f8 76px 77px,#0000f0 77px 79px,#0000e8 79px 81px,#0000e0 81px 83px,#0000f0 83px 84px,#0000e8 84px 86px,#0000d0 86px 90px,#0000f0 90px 93px,#0000d8 93px 95px,#0000f0 95px 100px,#0000d8 100px 102px,#0000f8 102px 104px,#0000e0 104px 105px,#0000f0 105px 107px,#0000e0 107px 109px,#0000d0 109px 111px,#0000c8 111px 112px,#0000e0 112px 114px,#0000f0 114px 116px,#0000d0 116px 118px,#0000e8 118px 119px,#0000d0 119px 121px,#0000f0 121px 123px,#0000d0 123px 125px,#0000d8 125px 130px,#0000d0 130px 132px,#0000d8 132px 133px,#0000d0 133px 135px,#0000f0 135px 137px,#0000e0 137px 139px,#0000f0 139px 140px,#0000d0 140px 142px,#0000e0 142px 144px,#0000d8 144px 146px,#0000e0 146px 149px,#0000c0 149px 151px,#0000d0 151px 153px,#0000c8 153px 154px,#0000e8 154px 156px,#0000c0 156px 158px,#0000e0 158px 160px,#0000c8 160px 161px,#0000e8 161px 163px,#0000d8 163px 165px,#0000d0 165px 168px,#0000e0 168px 170px,#0000d0 170px 172px,#0000e0 172px 174px,#0000d8 174px 175px,#0000e0 175px 177px,#0000c8 177px 179px,#0000d8 179px 181px,#0000e0 181px 184px,#0000d8 184px 186px,#0000e0 186px 188px,#0000c8 188px 189px,#0000d0 189px 191px,#0000e8 191px 193px,#0000c8 193px 198px,#0000d8 198px 200px,#0000c0 200px 202px,#0000d8 202px 203px,#0000d0 203px 209px,#0000e8 209px 210px,#0000d0 210px 212px,#0000c0 212px 214px,#0000e0 214px 216px,#0000d8 216px 219px,#0000c0 219px 221px,#0000e0 221px 223px,#0000e8 223px 224px,#0000c8 224px 226px,#0000c0 226px 228px,#0000c8 228px 230px,#0000c0 230px 231px,#0000e0 231px 233px,#0000d0 233px 235px,#0000e0 235px 237px,#0000e8 237px 238px,#0000e0 238px 242px,#0000d8 242px 244px,#0000c8 244px 245px,#0000e0 245px 247px,#0000c8 247px 249px,#0000e0 249px 252px,#0000d8 252px 254px,#0000d0 254px 258px,#0000e0 258px 261px,#0000d0 261px 263px,#0000e0 263px 265px,#0000d0 265px 266px,#0000c0 266px 268px,#0000d8 268px 272px,#0000d0 272px 273px,#0000c8 273px 275px,#0000e0 275px 277px,#0000c8 277px 279px,#0000d8 279px 282px,#0000c0 282px 286px,#0000d0 286px 287px,#0000d8 287px 289px,#0000d0 289px 291px,#0000c8 291px 293px,#0000d8 293px 296px,#0000e0 296px 298px,#0000d8 298px 300px,#0000b8 300px 301px,#0000c0 301px 303px,#0000d0 303px 305px,#0000d8 305px 307px,#0000d0 307px 308px,#0000c0 308px 310px,#0000e0 310px 312px,#0000c8 312px 315px,#0000e0 315px 317px,#0000c0 317px 322px,#0000e0 322px 324px,#0000c8 324px 328px,#0000e0 328px 329px,#0000c8 329px 331px,#0000c0 331px 333px,#0000d0 333px 336px,#0000c0 336px 338px,#0000c8 338px 340px,#0000c0 340px 342px,#0000c8 342px 343px,#0000d8 343px 345px,#0000e0 345px 347px,#0000d8 347px 349px)"></div>
<div class="r" style="top:705px;height:6px;background:linear-gradient(90deg,#800000 0px 4px,#ff8800 4px 5px,#c0ff40 5px 6px,#f8ff08 6px 7px,#c0ff40 7px 8px,#a8ff50 8px 9px,#d0ff30 9px 10px,#c0ff40 10px 11px,#88ff78 11px 12px,#78ff88 12px 13px,#40ffc0 13px 14px,#70ff90 14px 15px,#60ffa0 15px 16px,#48ffb8 16px 17px,#28ffd0 17px 18px,#00e0ff 18px 19px,#00b8ff 19px 21px,#0088ff 21px 22px,#0080ff 22px 23px,#00b0ff 23px 25px,#00a0ff 25px 26px,#0098ff 26px 27px,#0060ff 27px 28px,#0058ff 28px 30px,#0048ff 30px 32px,#0060ff 32px 33px,#0058ff 33px 34px,#0030ff 34px 35px,#0048ff 35px 37px,#0020ff 37px 38px,#0018ff 38px 39px,#0048ff 39px 40px,#0040ff 40px 41px,#0018ff 41px 42px,#0020ff 42px 43px,#0018ff 43px 44px,#0020ff 44px 45px,#0018ff 45px 46px,#0010ff 46px 47px,#0008ff 47px 48px,#0000f8 48px 51px,#0000e8 51px 52px,#0000e0 52px 53px,#0000f0 53px 56px,#0000e8 56px 57px,#0000e0 57px 58px,#0000f0 58px 60px,#0000f8 60px 62px,#0008ff 62px 63px,#0000f8 63px 65px,#0000f0 65px 67px,#0000d8 67px 70px,#0000e8 70px 72px,#0000f0 72px 74px,#0000e8 74px 76px,#0000d8 76px 77px,#0000f0 77px 79px,#0000d0 79px 81px,#0000e0 81px 84px,#0000d8 84px 86px,#0000d0 86px 88px,#0000d8 88px 90px,#0000f0 90px 91px,#0000d8 91px 93px,#0000e8 93px 95px,#0000f0 95px 97px,#0000f8 97px 98px,#0000d0 98px 100px,#0000f8 100px 101px,#0000f0 101px 102px,#0000f8 102px 104px,#0000e8 104px 107px,#0000d0 107px 109px,#0000d8 109px 111px,#0000c8 111px 112px,#0000d0 112px 116px,#0000e8 116px 118px,#0000d0 118px 119px,#0000e8 119px 121px,#0000f0 121px 123px,#0000d0 123px 125px,#0000d8 125px 126px,#0000d0 126px 130px,#0000c8 130px 132px,#0000e0 132px 133px,#0000c8 133px 135px,#0000d0 135px 137px,#0000d8 137px 140px,#0000d0 140px 142px,#0000d8 142px 144px,#0000c8 144px 147px,#0000e8 147px 151px,#0000d8 151px 153px,#0000e0 153px 156px,#0000e8 156px 158px,#0000c0 158px 160px,#0000e0 160px 161px,#0000c0 161px 163px,#0000d0 163px 165px,#0000e8 165px 167px,#0000d0 167px 174px,#0000d8 174px 175px,#0000e0 175px 182px,#0000d0 182px 184px,#0000d8 184px 188px,#0000d0 188px 189px,#0000c8 189px 191px,#0000d8 191px 193px,#0000d0 193px 196px,#0000e0 196px 198px,#0000d8 198px 200px,#0000c0 200px 202px,#0000e8 202px 203px,#0000d0 203px 205px,#0000c0 205px 207px,#0000e0 207px 209px,#0000d0 209px 210px,#0000c0 210px 214px,#0000e0 214px 217px,#0000c0 217px 219px,#0000d8 219px 221px,#0000d0 221px 223px,#0000d8 223px 224px,#0000e0 224px 228px,#0000c8 228px 230px,#0000d0 230px 231px,#0000c8 231px 233px,#0000d0 233px 235px,#0000e0 235px 237px,#0000d0 237px 238px,#0000e0 238px 240px,#0000d0 240px 242px,#0000c0 242px 245px,#0000d0 245px 247px,#0000c8 247px 249px,#0000e8 249px 251px,#0000d0 251px 252px,#0000c8 252px 254px,#0000d8 254px 258px,#0000e0 258px 259px,#0000c8 259px 261px,#0000d0 261px 263px,#0000e0 263px 265px,#0000c0 265px 268px,#0000e0 268px 270px,#0000c8 270px 273px,#0000e0 273px 275px,#0000c8 275px 277px,#0000d0 277px 282px,#0000c0 282px 286px,#0000c8 286px 289px,#0000e0 289px 291px,#0000c0 291px 293px,#0000e0 293px 294px,#0000d8 294px 296px,#0000e0 296px 298px,#0000d8 298px 300px,#0000d0 300px 301px,#0000c8 301px 303px,#0000e0 303px 305px,#0000d0 305px 307px,#0000c0 307px 308px,#0000e0 308px 310px,#0000d8 310px 312px,#0000e0 312px 315px,#0000d8 315px 321px,#0000c0 321px 324px,#0000d8 324px 326px,#0000c0 326px 328px,#0000d0 328px 329px,#0000c0 329px 331px,#0000d8 331px 333px,#0000e0 333px 335px,#0000c0 335px 338px,#0000d8 338px 343px,#0000d0 343px 345px,#0000c0 345px 347px,#0000d0 347px 349px)"></div>
<div class="r" style="top:711px;height:6px;background:linear-gradient(90deg,#800000 0px 4px,#ff6800 4px 5px,#e0ff20 5px 6px,#a8ff50 6px 7px,#b0ff50 7px 8px,#a0ff60 8px 9px,#c8ff38 9px 10px,#b8ff48 10px 11px,#80ff80 11px 12px,#70ff90 12px 13px,#58ffa8 13px 14px,#28ffd8 14px 15px,#18ffe8 15px 17px,#00f8ff 17px 18px,#00d8ff 18px 19px,#00b0ff 19px 20px,#0078ff 20px 21px,#00b8ff 21px 23px,#00a0ff 23px 24px,#0098ff 24px 25px,#0068ff 25px 26px,#0060ff 26px 27px,#0070ff 27px 28px,#0078ff 28px 30px,#0070ff 30px 31px,#0068ff 31px 32px,#0048ff 32px 33px,#0040ff 33px 34px,#0070ff 34px 35px,#0050ff 35px 36px,#0048ff 36px 37px,#0028ff 37px 38px,#0020ff 38px 39px,#0018ff 39px 40px,#0010ff 40px 41px,#0020ff 41px 42px,#0018ff 42px 43px,#0010ff 43px 44px,#0020ff 44px 45px,#0018ff 45px 46px,#0000f8 46px 47px,#0000f0 47px 48px,#0020ff 48px 49px,#0000e8 49px 50px,#0000e0 50px 51px,#0000e8 51px 52px,#0000e0 52px 53px,#0000e8 53px 55px,#0000f8 55px 56px,#0000ff 56px 60px,#0000e0 60px 62px,#0000ff 62px 63px,#0000e0 63px 65px,#0000ff 65px 67px,#0000f0 67px 69px,#0000ff 69px 74px,#0000f0 74px 77px,#0000e8 77px 79px,#0000d0 79px 81px,#0000e8 81px 84px,#0000f8 84px 86px,#0000f0 86px 88px,#0000d0 88px 90px,#0000e8 90px 91px,#0000f8 91px 93px,#0000e0 93px 97px,#0000f0 97px 98px,#0000e0 98px 100px,#0000e8 100px 102px,#0000f0 102px 103px,#0000e8 103px 104px,#0000d0 104px 105px,#0000f8 105px 107px,#0000f0 107px 111px,#0000e8 111px 112px,#0000d8 112px 116px,#0000e0 116px 118px,#0000d0 118px 119px,#0000f0 119px 123px,#0000e0 123px 126px,#0000d8 126px 128px,#0000e8 128px 130px,#0000f0 130px 132px,#0000d8 132px 133px,#0000e0 133px 139px,#0000c8 139px 140px,#0000e8 140px 142px,#0000c8 142px 144px,#0000e8 144px 146px,#0000e0 146px 149px,#0000e8 149px 151px,#0000d0 151px 153px,#0000c0 153px 154px,#0000d8 154px 156px,#0000e0 156px 160px,#0000c8 160px 161px,#0000e0 161px 163px,#0000d0 163px 170px,#0000c0 170px 172px,#0000d8 172px 174px,#0000c8 174px 177px,#0000d8 177px 179px,#0000e8 179px 181px,#0000d8 181px 182px,#0000d0 182px 184px,#0000c0 184px 186px,#0000e0 186px 188px,#0000d8 188px 189px,#0000c8 189px 191px,#0000d8 191px 193px,#0000c8 193px 196px,#0000e0 196px 198px,#0000d8 198px 200px,#0000d0 200px 202px,#0000e0 202px 203px,#0000d8 203px 205px,#0000e8 205px 207px,#0000c8 207px 209px,#0000c0 209px 212px,#0000d0 212px 214px,#0000d8 214px 216px,#0000d0 216px 217px,#0000e0 217px 219px,#0000d0 219px 226px,#0000d8 226px 228px,#0000d0 228px 231px,#0000e0 231px 233px,#0000c0 233px 235px,#0000e0 235px 244px,#0000d0 244px 245px,#0000e0 245px 249px,#0000e8 249px 251px,#0000c0 251px 252px,#0000d0 252px 254px,#0000c8 254px 256px,#0000d8 256px 258px,#0000c0 258px 259px,#0000e8 259px 261px,#0000c8 261px 263px,#0000c0 263px 265px,#0000d0 265px 266px,#0000d8 266px 268px,#0000d0 268px 270px,#0000c0 270px 272px,#0000c8 272px 273px,#0000e0 273px 277px,#0000c8 277px 279px,#0000d8 279px 280px,#0000e0 280px 286px,#0000d0 286px 287px,#0000c0 287px 289px,#0000e0 289px 291px,#0000d8 291px 293px,#0000c8 293px 294px,#0000c0 294px 296px,#0000d8 296px 298px,#0000c0 298px 305px,#0000d0 305px 307px,#0000c0 307px 308px,#0000e0 308px 310px,#0000c0 310px 314px,#0000d0 314px 315px,#0000e0 315px 317px,#0000d8 317px 319px,#0000d0 319px 321px,#0000c0 321px 322px,#0000d0 322px 324px,#0000c8 324px 326px,#0000d8 326px 328px,#0000c0 328px 329px,#0000d8 329px 331px,#0000c8 331px 333px,#0000e0 333px 335px,#0000c8 335px 336px,#0000e0 336px 338px,#0000c0 338px 342px,#0000d8 342px 345px,#0000c8 345px 348px,#0000c0 348px 349px)"></div>
<div class="r" style="top:717px;height:6px;background:linear-gradient(90deg,#800000 0px 4px,#ff7000 4px 5px,#d8ff28 5px 6px,#c0ff40 6px 7px,#a8ff50 7px 8px,#98ff68 8px 9px,#a8ff58 9px 10px,#a0ff60 10px 11px,#88ff78 11px 12px,#78ff88 12px 13px,#58ffa8 13px 14px,#68ff98 14px 15px,#50ffb0 15px 16px,#30ffd0 16px 17px,#10fff0 17px 18px,#00f0ff 18px 19px,#00c8ff 19px 20px,#00b8ff 20px 21px,#0098ff 21px 22px,#0090ff 22px 23px,#0098ff 23px 24px,#0090ff 24px 25px,#0080ff 25px 26px,#0078ff 26px 27px,#0090ff 27px 30px,#0070ff 30px 31px,#0068ff 31px 32px,#0060ff 32px 33px,#0058ff 33px 34px,#0060ff 34px 36px,#0058ff 36px 37px,#0050ff 37px 38px,#0048ff 38px 40px,#0040ff 40px 41px,#0010ff 41px 42px,#0028ff 42px 43px,#0020ff 43px 44px,#0030ff 44px 45px,#0028ff 45px 46px,#0008ff 46px 47px,#0000ff 47px 48px,#0010ff 48px 49px,#0008ff 49px 50px,#0000ff 50px 51px,#0000e0 51px 52px,#0000d8 52px 53px,#0000f8 53px 55px,#0000e0 55px 56px,#0000f0 56px 58px,#0000ff 58px 62px,#0000f0 62px 63px,#0000e0 63px 65px,#0000f8 65px 67px,#0000e0 67px 72px,#0000f8 72px 74px,#0000e0 74px 76px,#0000ff 76px 79px,#0000f0 79px 81px,#0000f8 81px 83px,#0000f0 83px 84px,#0000ff 84px 86px,#0000e8 86px 87px,#0000e0 87px 88px,#0000d8 88px 90px,#0000e0 90px 91px,#0000d8 91px 93px,#0000d0 93px 97px,#0000e0 97px 98px,#0000e8 98px 100px,#0000d0 100px 102px,#0000f8 102px 104px,#0000f0 104px 105px,#0000d8 105px 107px,#0000e0 107px 109px,#0000e8 109px 111px,#0000f0 111px 112px,#0000e0 112px 116px,#0000e8 116px 118px,#0000e0 118px 119px,#0000c8 119px 123px,#0000d0 123px 126px,#0000e0 126px 128px,#0000d8 128px 130px,#0000f0 130px 132px,#0000d0 132px 133px,#0000e8 133px 135px,#0000e0 135px 137px,#0000d8 137px 140px,#0000d0 140px 142px,#0000e0 142px 144px,#0000c8 144px 146px,#0000d0 146px 149px,#0000c8 149px 151px,#0000d8 151px 153px,#0000e8 153px 154px,#0000d8 154px 156px,#0000e8 156px 158px,#0000d8 158px 160px,#0000e0 160px 161px,#0000c8 161px 163px,#0000e0 163px 167px,#0000d0 167px 168px,#0000e8 168px 170px,#0000e0 170px 172px,#0000d0 172px 174px,#0000d8 174px 175px,#0000d0 175px 177px,#0000c8 177px 179px,#0000e0 179px 181px,#0000d8 181px 182px,#0000e8 182px 184px,#0000d8 184px 186px,#0000d0 186px 189px,#0000c0 189px 191px,#0000e0 191px 193px,#0000d8 193px 195px,#0000d0 195px 196px,#0000c0 196px 198px,#0000d8 198px 200px,#0000e0 200px 202px,#0000e8 202px 203px,#0000d8 203px 205px,#0000c0 205px 207px,#0000c8 207px 209px,#0000d8 209px 210px,#0000c0 210px 212px,#0000e8 212px 214px,#0000c8 214px 216px,#0000c0 216px 217px,#0000e0 217px 219px,#0000c8 219px 223px,#0000d0 223px 224px,#0000d8 224px 226px,#0000e8 226px 228px,#0000e0 228px 230px,#0000c0 230px 233px,#0000c8 233px 235px,#0000d8 235px 237px,#0000c0 237px 238px,#0000d0 238px 240px,#0000c8 240px 242px,#0000d0 242px 244px,#0000e0 244px 245px,#0000d0 245px 247px,#0000c0 247px 249px,#0000d0 249px 254px,#0000d8 254px 256px,#0000c8 256px 258px,#0000d0 258px 259px,#0000c0 259px 261px,#0000c8 261px 265px,#0000d8 265px 266px,#0000c8 266px 268px,#0000d0 268px 270px,#0000e0 270px 275px,#0000c0 275px 277px,#0000c8 277px 279px,#0000e0 279px 280px,#0000d8 280px 282px,#0000c0 282px 284px,#0000c8 284px 286px,#0000c0 286px 287px,#0000c8 287px 289px,#0000e0 289px 291px,#0000d8 291px 293px,#0000d0 293px 296px,#0000c0 296px 298px,#0000d8 298px 301px,#0000d0 301px 303px,#0000e0 303px 307px,#0000d0 307px 308px,#0000c8 308px 314px,#0000e0 314px 315px,#0000b8 315px 317px,#0000c0 317px 321px,#0000e0 321px 322px,#0000d0 322px 324px,#0000c0 324px 326px,#0000b8 326px 328px,#0000d8 328px 329px,#0000d0 329px 331px,#0000e0 331px 333px,#0000c0 333px 335px,#0000b8 335px 338px,#0000c8 338px 340px,#0000c0 340px 342px,#0000d0 342px 343px,#0000d8 343px 345px,#0000c0 345px 347px,#0000c8 347px 349px)"></div>
<div class="r" style="top:723px;height:6px;background:linear-gradient(90deg,#800000 0px 4px,#ff4800 4px 5px,#ffff00 5px 6px,#a8ff58 6px 7px,#b0ff50 7px 8px,#a0ff60 8px 9px,#78ff80 9px 10px,#70ff90 10px 11px,#88ff78 11px 12px,#78ff88 12px 13px,#68ff98 13px 14px,#58ffa0 14px 15px,#48ffb8 15px 16px,#00ffff 16px 17px,#00e0ff 17px 18px,#00ffff 18px 19px,#00d8ff 19px 20px,#0098ff 20px 21px,#0088ff 21px 22px,#0080ff 22px 23px,#0070ff 23px 25px,#0088ff 25px 26px,#0080ff 26px 27px,#0050ff 27px 28px,#0090ff 28px 29px,#0088ff 29px 30px,#0060ff 30px 31px,#0058ff 31px 32px,#0038ff 32px 33px,#0030ff 33px 34px,#0048ff 34px 35px,#0040ff 35px 36px,#0038ff 36px 37px,#0028ff 37px 39px,#0030ff 39px 40px,#0028ff 40px 41px,#0048ff 41px 42px,#0010ff 42px 43px,#0008ff 43px 44px,#0010ff 44px 45px,#0008ff 45px 46px,#0028ff 46px 48px,#0000f0 48px 49px,#0010ff 49px 51px,#0000f0 51px 53px,#0000ff 53px 56px,#0000e0 56px 58px,#0000f8 58px 60px,#0000e8 60px 62px,#0000f8 62px 63px,#0000d8 63px 69px,#0000e0 69px 70px,#0000f0 70px 74px,#0000ff 74px 76px,#0000f8 76px 77px,#0000d8 77px 79px,#0000e8 79px 81px,#0000d8 81px 83px,#0000f8 83px 86px,#0000e0 86px 88px,#0000f0 88px 90px,#0000d0 90px 91px,#0000f8 91px 93px,#0000e0 93px 95px,#0000d0 95px 97px,#0000f8 97px 98px,#0000f0 98px 104px,#0000d0 104px 105px,#0000f0 105px 109px,#0000d8 109px 111px,#0000f8 111px 112px,#0000e8 112px 114px,#0000d8 114px 116px,#0000d0 116px 119px,#0000d8 119px 121px,#0000d0 121px 123px,#0000f0 123px 125px,#0000d8 125px 126px,#0000e8 126px 130px,#0000e0 130px 132px,#0000d8 132px 133px,#0000f0 133px 135px,#0000d8 135px 137px,#0000e0 137px 139px,#0000d0 139px 140px,#0000e8 140px 144px,#0000d0 144px 146px,#0000e0 146px 147px,#0000d0 147px 151px,#0000e0 151px 154px,#0000c0 154px 156px,#0000e0 156px 158px,#0000d8 158px 160px,#0000c8 160px 161px,#0000d0 161px 163px,#0000e0 163px 165px,#0000c8 165px 167px,#0000c0 167px 168px,#0000e8 168px 170px,#0000e0 170px 172px,#0000d8 172px 173px,#0000d0 173px 175px,#0000c8 175px 177px,#0000e8 177px 179px,#0000c8 179px 181px,#0000e0 181px 182px,#0000d8 182px 184px,#0000c8 184px 186px,#0000e0 186px 188px,#0000d8 188px 189px,#0000c0 189px 191px,#0000e8 191px 195px,#0000e0 195px 196px,#0000d0 196px 198px,#0000d8 198px 200px,#0000d0 200px 203px,#0000e0 203px 205px,#0000c8 205px 207px,#0000d0 207px 209px,#0000c8 209px 210px,#0000e0 210px 219px,#0000d0 219px 221px,#0000d8 221px 223px,#0000c0 223px 224px,#0000e0 224px 228px,#0000d8 228px 230px,#0000e0 230px 233px,#0000d0 233px 235px,#0000c8 235px 237px,#0000d8 237px 238px,#0000c8 238px 240px,#0000e0 240px 242px,#0000d8 242px 247px,#0000e0 247px 249px,#0000d0 249px 251px,#0000d8 251px 254px,#0000c0 254px 258px,#0000e8 258px 259px,#0000e0 259px 261px,#0000e8 261px 263px,#0000d0 263px 265px,#0000d8 265px 268px,#0000e0 268px 272px,#0000c0 272px 273px,#0000e0 273px 275px,#0000d0 275px 277px,#0000d8 277px 279px,#0000c8 279px 282px,#0000c0 282px 284px,#0000d0 284px 287px,#0000d8 287px 289px,#0000e0 289px 291px,#0000c8 291px 293px,#0000e0 293px 294px,#0000c8 294px 296px,#0000d0 296px 298px,#0000c8 298px 300px,#0000e0 300px 303px,#0000d0 303px 305px,#0000c0 305px 308px,#0000d0 308px 310px,#0000c0 310px 315px,#0000d0 315px 321px,#0000c0 321px 322px,#0000d0 322px 324px,#0000d8 324px 326px,#0000d0 326px 328px,#0000d8 328px 329px,#0000c0 329px 331px,#0000d0 331px 333px,#0000d8 333px 335px,#0000b8 335px 336px,#0000d8 336px 338px,#0000d0 338px 340px,#0000e0 340px 342px,#0000c0 342px 343px,#0000d0 343px 345px,#0000c8 345px 347px,#0000c0 347px 349px)"></div>
<div class="r" style="top:729px;height:6px;background:linear-gradient(90deg,#800000 0px 4px,#ff5800 4px 5px,#f0ff10 5px 6px,#a8ff58 6px 7px,#e0ff20 7px 8px,#d0ff30 8px 9px,#90ff70 9px 10px,#80ff80 10px 11px,#88ff78 11px 12px,#78ff88 12px 13px,#70ff90 13px 14px,#50ffb0 14px 15px,#40ffc0 15px 16px,#18ffe8 16px 17px,#00f8ff 17px 18px,#00c0ff 18px 19px,#0098ff 19px 20px,#0088ff 20px 21px,#00c0ff 21px 22px,#00b8ff 22px 23px,#00a8ff 23px 24px,#00a0ff 24px 25px,#0070ff 25px 27px,#0080ff 27px 28px,#0050ff 28px 29px,#0048ff 29px 30px,#0060ff 30px 31px,#0058ff 31px 32px,#0040ff 32px 34px,#0068ff 34px 35px,#0060ff 35px 36px,#0058ff 36px 37px,#0060ff 37px 38px,#0058ff 38px 39px,#0040ff 39px 40px,#0038ff 40px 41px,#0010ff 41px 42px,#0018ff 42px 43px,#0010ff 43px 44px,#0028ff 44px 46px,#0010ff 46px 48px,#0000f8 48px 49px,#0010ff 49px 50px,#0008ff 50px 51px,#0000f0 51px 52px,#0000e8 52px 53px,#0000e0 53px 55px,#0000f8 55px 56px,#0000d8 56px 58px,#0000ff 58px 60px,#0000d8 60px 62px,#0000f0 62px 65px,#0000ff 65px 67px,#0000d8 67px 69px,#0000e8 69px 70px,#0000f0 70px 72px,#0000d8 72px 74px,#0000f0 74px 76px,#0000f8 76px 79px,#0000ff 79px 81px,#0000e0 81px 83px,#0000e8 83px 86px,#0000f8 86px 88px,#0000d8 88px 90px,#0000e8 90px 91px,#0000f0 91px 93px,#0000f8 93px 95px,#0000f0 95px 97px,#0000d8 97px 98px,#0000e8 98px 100px,#0000f0 100px 104px,#0000d0 104px 105px,#0000e8 105px 106px,#0000e0 106px 109px,#0000d0 109px 111px,#0000f0 111px 112px,#0000d8 112px 114px,#0000f0 114px 119px,#0000d8 119px 121px,#0000e8 121px 123px,#0000d8 123px 125px,#0000d0 125px 126px,#0000d8 126px 128px,#0000d0 128px 132px,#0000e0 132px 133px,#0000d8 133px 135px,#0000c8 135px 137px,#0000e0 137px 138px,#0000d8 138px 139px,#0000c8 139px 140px,#0000e8 140px 142px,#0000d0 142px 144px,#0000c8 144px 146px,#0000e0 146px 147px,#0000e8 147px 149px,#0000e0 149px 151px,#0000d0 151px 153px,#0000c0 153px 154px,#0000c8 154px 156px,#0000d0 156px 163px,#0000c8 163px 165px,#0000d0 165px 167px,#0000e8 167px 168px,#0000c8 168px 170px,#0000d8 170px 172px,#0000d0 172px 174px,#0000e0 174px 175px,#0000c0 175px 179px,#0000e0 179px 182px,#0000c8 182px 184px,#0000e0 184px 186px,#0000c0 186px 188px,#0000d0 188px 191px,#0000d8 191px 193px,#0000e8 193px 195px,#0000e0 195px 196px,#0000e8 196px 198px,#0000e0 198px 200px,#0000d0 200px 202px,#0000e0 202px 203px,#0000d8 203px 205px,#0000c0 205px 207px,#0000d0 207px 209px,#0000e0 209px 210px,#0000d8 210px 212px,#0000c8 212px 214px,#0000e0 214px 216px,#0000d8 216px 217px,#0000c0 217px 219px,#0000d0 219px 221px,#0000e0 221px 223px,#0000d0 223px 224px,#0000e0 224px 226px,#0000c0 226px 230px,#0000d8 230px 233px,#0000d0 233px 235px,#0000d8 235px 237px,#0000e0 237px 238px,#0000c0 238px 242px,#0000e0 242px 245px,#0000d8 245px 249px,#0000d0 249px 251px,#0000c8 251px 252px,#0000e0 252px 256px,#0000d0 256px 258px,#0000c0 258px 261px,#0000d0 261px 263px,#0000c0 263px 265px,#0000d8 265px 266px,#0000d0 266px 268px,#0000c0 268px 270px,#0000e0 270px 272px,#0000c8 272px 273px,#0000c0 273px 277px,#0000d0 277px 279px,#0000c8 279px 280px,#0000c0 280px 282px,#0000c8 282px 284px,#0000e0 284px 291px,#0000d0 291px 293px,#0000b8 293px 294px,#0000c0 294px 296px,#0000d0 296px 298px,#0000e0 298px 300px,#0000c0 300px 301px,#0000c8 301px 303px,#0000c0 303px 305px,#0000c8 305px 307px,#0000e0 307px 308px,#0000d8 308px 310px,#0000e0 310px 312px,#0000d8 312px 314px,#0000c8 314px 319px,#0000d0 319px 321px,#0000d8 321px 322px,#0000e0 322px 324px,#0000d0 324px 326px,#0000e0 326px 328px,#0000d0 328px 329px,#0000e0 329px 331px,#0000d8 331px 333px,#0000c8 333px 335px,#0000d8 335px 336px,#0000d0 336px 338px,#0000c8 338px 340px,#0000c0 340px 343px,#0000d0 343px 347px,#0000b8 347px 349px)"></div>
<div class="r" style="top:735px;height:6px;background:linear-gradient(90deg,#800000 0px 18px,#900000 18px 20px,#800000 20px 22px,#880000 22px 23px,#900000 23px 25px,#c00000 25px 26px,#f80000 26px 27px,#e00000 27px 28px,#ff5800 28px 29px,#ffc000 29px 30px,#ffe000 30px 32px,#ffff00 32px 33px,#f8ff08 33px 35px,#e0ff20 35px 36px,#d8ff28 36px 37px,#e8ff18 37px 38px,#e0ff20 38px 39px,#d8ff28 39px 40px,#c0ff38 40px 41px,#c8ff30 41px 42px,#60ff98 42px 43px,#48ffb8 43px 44px,#50ffb0 44px 45px,#40ffc0 45px 46px,#78ff88 46px 48px,#10fff0 48px 49px,#20ffe0 49px 53px,#08fff8 53px 54px,#00fff8 54px 55px,#50ffb0 55px 56px,#38ffc8 56px 58px,#60ffa0 58px 60px,#38ffc8 60px 62px,#58ffa8 62px 63px,#60ffa0 63px 65px,#00ffff 65px 67px,#50ffb0 67px 69px,#68ff90 69px 70px,#00ffff 70px 71px,#00f8ff 71px 72px,#00ffff 72px 73px,#00f8ff 73px 74px,#08fff8 74px 75px,#00ffff 75px 76px,#00f0ff 76px 77px,#18ffe8 77px 78px,#10fff0 78px 79px,#20ffe0 79px 80px,#18ffe8 80px 81px,#00d8ff 81px 82px,#00d0ff 82px 83px,#00a0ff 83px 84px,#00d8ff 84px 85px,#00d0ff 85px 86px,#00a0ff 86px 88px,#00e8ff 88px 89px,#00e0ff 89px 90px,#00a0ff 90px 91px,#00a8ff 91px 92px,#00a0ff 92px 93px,#0098ff 93px 94px,#0090ff 94px 95px,#00a8ff 95px 96px,#00a0ff 96px 97px,#0058ff 97px 98px,#0040ff 98px 100px,#0088ff 100px 101px,#0080ff 101px 102px,#0070ff 102px 104px,#0080ff 104px 105px,#0028ff 105px 106px,#0020ff 106px 107px,#0060ff 107px 109px,#0040ff 109px 112px,#0030ff 112px 114px,#0040ff 114px 116px,#0050ff 116px 118px,#0068ff 118px 119px,#0018ff 119px 120px,#0010ff 120px 121px,#0038ff 121px 125px,#0058ff 125px 126px,#0038ff 126px 128px,#0020ff 128px 130px,#0018ff 130px 132px,#0010ff 132px 135px,#0008ff 135px 137px,#0048ff 137px 139px,#0020ff 139px 142px,#0000ff 142px 146px,#0020ff 146px 149px,#0000ff 149px 151px,#0000f8 151px 153px,#0010ff 153px 154px,#0028ff 154px 156px,#0020ff 156px 160px,#0028ff 160px 161px,#0010ff 161px 163px,#0020ff 163px 165px,#0000e0 165px 167px,#0000e8 167px 168px,#0000f0 168px 172px,#0000e0 172px 174px,#0018ff 174px 175px,#0010ff 175px 177px,#0000e0 177px 179px,#0000e8 179px 181px,#0000f0 181px 182px,#0000f8 182px 184px,#0000f0 184px 186px,#0000ff 186px 188px,#0000e0 188px 189px,#0000d0 189px 191px,#0010ff 191px 193px,#0000d8 193px 195px,#0000d0 195px 200px,#0010ff 200px 202px,#0000ff 202px 203px,#0000e8 203px 205px,#0000f8 205px 209px,#0008ff 209px 210px,#0000ff 210px 212px,#0000d0 212px 214px,#0000e0 214px 216px,#0000f0 216px 217px,#0000e0 217px 219px,#0000d0 219px 221px,#0000ff 221px 223px,#0000d0 223px 224px,#0000f0 224px 226px,#0000d0 226px 228px,#0000e0 228px 230px,#0000f0 230px 231px,#0000e0 231px 233px,#0000f8 233px 235px,#0000ff 235px 238px,#0000d8 238px 240px,#0000e0 240px 242px,#0000f0 242px 244px,#0000d8 244px 245px,#0000d0 245px 247px,#0000ff 247px 249px,#0000d8 249px 251px,#0000ff 251px 252px,#0000e8 252px 254px,#0000ff 254px 256px,#0000e8 256px 258px,#0000e0 258px 259px,#0000d8 259px 261px,#0000e0 261px 266px,#0000f0 266px 268px,#0000e8 268px 270px,#0000d0 270px 272px,#0000e0 272px 273px,#0000d8 273px 275px,#0000d0 275px 277px,#0000f8 277px 279px,#0000ff 279px 280px,#0000f0 280px 282px,#0000d0 282px 284px,#0000f8 284px 286px,#0000e0 286px 287px,#0000d8 287px 291px,#0000ff 291px 293px,#0000e0 293px 296px,#0000ff 296px 298px,#0000d0 298px 300px,#0000ff 300px 301px,#0000e8 301px 303px,#0000e0 303px 307px,#0000c8 307px 308px,#0000f8 308px 310px,#0000f0 310px 312px,#0000d0 312px 314px,#0000d8 314px 315px,#0000d0 315px 317px,#0000f8 317px 319px,#0000c0 319px 321px,#0000f0 321px 322px,#0000e0 322px 324px,#0000c8 324px 326px,#0000d0 326px 328px,#0000e0 328px 329px,#0000d0 329px 331px,#0000e0 331px 335px,#0000c8 335px 338px,#0000f8 338px 340px,#0000f0 340px 342px,#0000f8 342px 343px,#0000e8 343px 349px)"></div>
<div class="r" style="top:741px;height:6px;background:linear-gradient(90deg,#800000 0px 11px,#e80000 11px 12px,#ff3000 12px 13px,#ff6800 13px 14px,#ffa000 14px 15px,#ffe000 15px 16px,#fff000 16px 17px,#e8ff18 17px 18px,#b8ff48 18px 19px,#90ff68 19px 20px,#60ff98 20px 21px,#40ffc0 21px 22px,#28ffd8 22px 23px,#38ffc8 23px 24px,#28ffd8 24px 25px,#08fff8 25px 26px,#00ffff 26px 27px,#08fff8 27px 28px,#00f8ff 28px 29px,#00f0ff 29px 30px,#00d0ff 30px 31px,#00c0ff 31px 32px,#00a8ff 32px 33px,#00a0ff 33px 34px,#00a8ff 34px 35px,#0090ff 35px 37px,#00a8ff 37px 38px,#00a0ff 38px 39px,#0078ff 39px 41px,#0088ff 41px 42px,#0098ff 42px 45px,#0090ff 45px 46px,#0080ff 46px 47px,#0078ff 47px 48px,#0070ff 48px 49px,#0058ff 49px 51px,#0070ff 51px 52px,#0068ff 52px 53px,#0040ff 53px 54px,#0038ff 54px 55px,#0050ff 55px 56px,#0030ff 56px 58px,#0038ff 58px 60px,#0048ff 60px 61px,#0040ff 61px 62px,#0020ff 62px 63px,#0038ff 63px 65px,#0010ff 65px 66px,#0008ff 66px 68px,#0000ff 68px 70px,#0008ff 70px 74px,#0000f8 74px 76px,#0000ff 76px 77px,#0018ff 77px 79px,#0000ff 79px 81px,#0020ff 81px 84px,#0000f8 84px 86px,#0008ff 86px 90px,#0018ff 90px 91px,#0000ff 91px 95px,#0010ff 95px 100px,#0008ff 100px 102px,#0010ff 102px 104px,#0000f8 104px 109px,#0010ff 109px 112px,#0018ff 112px 114px,#0000ff 114px 116px,#0010ff 116px 118px,#0008ff 118px 119px,#0018ff 119px 123px,#0000ff 123px 125px,#0010ff 125px 126px,#0008ff 126px 128px,#0000f8 128px 130px,#0008ff 130px 132px,#0010ff 132px 133px,#0018ff 133px 134px,#0010ff 134px 137px,#0000f8 137px 139px,#0000f0 139px 140px,#0010ff 140px 142px,#0000f8 142px 147px,#0000ff 147px 149px,#0000f0 149px 151px,#0000e8 151px 153px,#0000ff 153px 154px,#0000f0 154px 158px,#0010ff 158px 160px,#0000ff 160px 161px,#0008ff 161px 163px,#0000ff 163px 165px,#0000e8 165px 167px,#0000ff 167px 168px,#0000f0 168px 174px,#0000ff 174px 175px,#0008ff 175px 177px,#0000ff 177px 179px,#0008ff 179px 181px,#0000e8 181px 182px,#0000e0 182px 184px,#0000ff 184px 186px,#0000f8 186px 188px,#0000e0 188px 191px,#0000ff 191px 193px,#0000e8 193px 195px,#0000f8 195px 200px,#0000f0 200px 202px,#0000e0 202px 203px,#0000ff 203px 205px,#0000f0 205px 207px,#0000ff 207px 209px,#0000e0 209px 210px,#0000e8 210px 212px,#0000e0 212px 214px,#0000f0 214px 216px,#0000ff 216px 217px,#0000f0 217px 219px,#0000ff 219px 221px,#0000e0 221px 223px,#0000e8 223px 224px,#0000f0 224px 226px,#0000e0 226px 228px,#0000f0 228px 230px,#0000e8 230px 231px,#0000f0 231px 233px,#0000e0 233px 237px,#0000f0 237px 240px,#0000d8 240px 244px,#0000e0 244px 247px,#0000f8 247px 249px,#0000f0 249px 252px,#0000e8 252px 255px,#0000e0 255px 256px,#0000e8 256px 259px,#0000e0 259px 261px,#0000d8 261px 263px,#0000e0 263px 265px,#0000d8 265px 266px,#0000f0 266px 270px,#0000d0 270px 272px,#0000d8 272px 273px,#0000d0 273px 275px,#0000e0 275px 277px,#0000d0 277px 279px,#0000d8 279px 284px,#0000f0 284px 286px,#0000d0 286px 287px,#0000e0 287px 289px,#0000d8 289px 293px,#0000f0 293px 294px,#0000d8 294px 296px,#0000d0 296px 298px,#0000e8 298px 300px,#0000e0 300px 301px,#0000d0 301px 305px,#0000d8 305px 308px,#0000e0 308px 310px,#0000d8 310px 311px,#0000d0 311px 315px,#0000e0 315px 317px,#0000d8 317px 319px,#0000e8 319px 321px,#0000d8 321px 322px,#0000e0 322px 324px,#0000e8 324px 326px,#0000c8 326px 328px,#0000d0 328px 329px,#0000e0 329px 331px,#0000d8 331px 336px,#0000d0 336px 338px,#0000e0 338px 340px,#0000d0 340px 342px,#0000e0 342px 343px,#0000d0 343px 349px)"></div>
<div class="r" style="top:747px;height:6px;background:linear-gradient(90deg,#800000 0px 4px,#ff7800 4px 5px,#d0ff30 5px 6px,#a8ff58 6px 7px,#98ff60 7px 8px,#88ff78 8px 9px,#a0ff58 9px 10px,#98ff68 10px 11px,#a8ff58 11px 12px,#90ff68 12px 13px,#78ff88 13px 14px,#40ffc0 14px 15px,#28ffd8 15px 16px,#08fff8 16px 17px,#00e8ff 17px 18px,#00ffff 18px 19px,#00d0ff 19px 20px,#0098ff 20px 21px,#0070ff 21px 22px,#0068ff 22px 23px,#0060ff 23px 25px,#0090ff 25px 28px,#0078ff 28px 30px,#0088ff 30px 31px,#0080ff 31px 32px,#0050ff 32px 34px,#0070ff 34px 35px,#0068ff 35px 36px,#0060ff 36px 37px,#0038ff 37px 39px,#0018ff 39px 41px,#0048ff 41px 42px,#0020ff 42px 44px,#0028ff 44px 45px,#0020ff 45px 46px,#0010ff 46px 47px,#0008ff 47px 48px,#0000ff 48px 49px,#0010ff 49px 51px,#0000e0 51px 52px,#0000d8 52px 53px,#0008ff 53px 55px,#0000e8 55px 56px,#0000f8 56px 58px,#0000e8 58px 60px,#0000f0 60px 62px,#0000e0 62px 63px,#0000f0 63px 65px,#0000e8 65px 67px,#0000f0 67px 69px,#0000e0 69px 70px,#0000f0 70px 72px,#0000e8 72px 74px,#0000d8 74px 76px,#0000e8 76px 77px,#0000f0 77px 79px,#0000ff 79px 81px,#0000e0 81px 83px,#0000ff 83px 84px,#0000d8 84px 86px,#0000e0 86px 88px,#0000e8 88px 90px,#0000f0 90px 91px,#0000e8 91px 93px,#0000f8 93px 98px,#0000e0 98px 100px,#0000f0 100px 104px,#0000d8 104px 105px,#0000f0 105px 107px,#0000e8 107px 109px,#0000d8 109px 111px,#0000c8 111px 112px,#0000e8 112px 116px,#0000d0 116px 118px,#0000d8 118px 121px,#0000f0 121px 123px,#0000d0 123px 125px,#0000f0 125px 126px,#0000e8 126px 128px,#0000d8 128px 130px,#0000e8 130px 132px,#0000d0 132px 133px,#0000d8 133px 135px,#0000e0 135px 137px,#0000d0 137px 139px,#0000c8 139px 140px,#0000e0 140px 142px,#0000d8 142px 144px,#0000e8 144px 146px,#0000e0 146px 149px,#0000d8 149px 151px,#0000e0 151px 153px,#0000d8 153px 154px,#0000c8 154px 156px,#0000e0 156px 160px,#0000c0 160px 161px,#0000e0 161px 163px,#0000e8 163px 165px,#0000e0 165px 167px,#0000c0 167px 168px,#0000c8 168px 170px,#0000e8 170px 172px,#0000d8 172px 175px,#0000e0 175px 177px,#0000c8 177px 179px,#0000d0 179px 181px,#0000e0 181px 186px,#0000d0 186px 188px,#0000d8 188px 189px,#0000c0 189px 191px,#0000e8 191px 193px,#0000d0 193px 196px,#0000c8 196px 198px,#0000e0 198px 200px,#0000e8 200px 202px,#0000e0 202px 203px,#0000d8 203px 205px,#0000e8 205px 207px,#0000d0 207px 209px,#0000c0 209px 210px,#0000e0 210px 212px,#0000d0 212px 214px,#0000d8 214px 217px,#0000c0 217px 219px,#0000e8 219px 221px,#0000c0 221px 223px,#0000d8 223px 226px,#0000e0 226px 228px,#0000e8 228px 230px,#0000c8 230px 231px,#0000d0 231px 233px,#0000c0 233px 235px,#0000e8 235px 237px,#0000d8 237px 238px,#0000e0 238px 240px,#0000d8 240px 242px,#0000c0 242px 244px,#0000d0 244px 245px,#0000e0 245px 247px,#0000c8 247px 249px,#0000e0 249px 251px,#0000c8 251px 252px,#0000c0 252px 254px,#0000d0 254px 256px,#0000c8 256px 258px,#0000e0 258px 263px,#0000d0 263px 266px,#0000d8 266px 268px,#0000c0 268px 270px,#0000d8 270px 272px,#0000d0 272px 273px,#0000d8 273px 275px,#0000c0 275px 279px,#0000d0 279px 280px,#0000c0 280px 282px,#0000e0 282px 284px,#0000d8 284px 289px,#0000e0 289px 291px,#0000b8 291px 293px,#0000e0 293px 294px,#0000d0 294px 295px,#0000c8 295px 298px,#0000d8 298px 300px,#0000c0 300px 301px,#0000d0 301px 303px,#0000d8 303px 307px,#0000b8 307px 308px,#0000c0 308px 310px,#0000e0 310px 314px,#0000d8 314px 315px,#0000c0 315px 317px,#0000c8 317px 319px,#0000c0 319px 321px,#0000c8 321px 322px,#0000b8 322px 329px,#0000d0 329px 333px,#0000c8 333px 335px,#0000e0 335px 336px,#0000d8 336px 340px,#0000d0 340px 342px,#0000c8 342px 343px,#0000d0 343px 345px,#0000d8 345px 347px,#0000c0 347px 349px)"></div>
<div class="r" style="top:753px;height:6px;background:linear-gradient(90deg,#800000 0px 3px,#900000 3px 4px,#ff5800 4px 5px,#f0ff10 5px 6px,#c0ff40 6px 7px,#c8ff38 7px 8px,#b0ff48 8px 9px,#b0ff50 9px 10px,#a0ff60 10px 11px,#80ff78 11px 12px,#70ff90 12px 13px,#78ff88 13px 14px,#30ffd0 14px 15px,#20ffe0 15px 16px,#38ffc8 16px 17px,#18ffe8 17px 18px,#00e8ff 18px 19px,#00c0ff 19px 20px,#0070ff 20px 21px,#00a0ff 21px 23px,#0080ff 23px 24px,#0078ff 24px 25px,#0090ff 25px 26px,#0088ff 26px 27px,#0058ff 27px 28px,#0060ff 28px 29px,#0058ff 29px 30px,#0080ff 30px 31px,#0078ff 31px 32px,#0060ff 32px 33px,#0058ff 33px 34px,#0070ff 34px 35px,#0028ff 35px 36px,#0020ff 36px 37px,#0048ff 37px 38px,#0040ff 38px 39px,#0028ff 39px 40px,#0020ff 40px 41px,#0038ff 41px 42px,#0028ff 42px 44px,#0008ff 44px 46px,#0000f8 46px 47px,#0000f0 47px 48px,#0020ff 48px 49px,#0000f0 49px 51px,#0000e8 51px 52px,#0000e0 52px 53px,#0000f0 53px 55px,#0000d8 55px 56px,#0000f8 56px 60px,#0000e0 60px 62px,#0000ff 62px 63px,#0000d8 63px 65px,#0000f0 65px 67px,#0000e8 67px 69px,#0000ff 69px 70px,#0000f0 70px 72px,#0000d8 72px 74px,#0000e0 74px 76px,#0000e8 76px 77px,#0000d0 77px 79px,#0000f8 79px 81px,#0000e8 81px 83px,#0000f0 83px 84px,#0000e8 84px 86px,#0000f8 86px 88px,#0000e0 88px 90px,#0000e8 90px 91px,#0000f8 91px 93px,#0000f0 93px 95px,#0000d0 95px 97px,#0000f0 97px 102px,#0000e0 102px 104px,#0000f8 104px 105px,#0000e8 105px 107px,#0000e0 107px 109px,#0000e8 109px 111px,#0000f8 111px 112px,#0000d0 112px 114px,#0000d8 114px 116px,#0000f0 116px 119px,#0000d0 119px 121px,#0000e0 121px 123px,#0000d0 123px 126px,#0000e8 126px 128px,#0000d0 128px 130px,#0000d8 130px 132px,#0000e8 132px 133px,#0000f0 133px 135px,#0000e0 135px 137px,#0000d8 137px 139px,#0000d0 139px 142px,#0000e0 142px 144px,#0000d0 144px 146px,#0000d8 146px 147px,#0000e8 147px 149px,#0000c8 149px 151px,#0000d8 151px 154px,#0000e0 154px 156px,#0000c8 156px 158px,#0000e0 158px 160px,#0000d8 160px 161px,#0000e8 161px 165px,#0000c0 165px 167px,#0000d0 167px 168px,#0000d8 168px 170px,#0000d0 170px 172px,#0000d8 172px 174px,#0000c0 174px 175px,#0000c8 175px 177px,#0000c0 177px 182px,#0000d0 182px 184px,#0000c8 184px 186px,#0000e8 186px 188px,#0000e0 188px 189px,#0000e8 189px 191px,#0000c8 191px 193px,#0000e8 193px 195px,#0000d0 195px 196px,#0000e0 196px 202px,#0000e8 202px 203px,#0000d8 203px 205px,#0000e0 205px 207px,#0000d8 207px 208px,#0000d0 208px 210px,#0000c0 210px 212px,#0000e0 212px 214px,#0000c0 214px 216px,#0000c8 216px 219px,#0000d0 219px 221px,#0000c8 221px 223px,#0000d0 223px 224px,#0000e0 224px 226px,#0000d8 226px 230px,#0000d0 230px 231px,#0000e0 231px 233px,#0000c8 233px 235px,#0000d0 235px 237px,#0000c8 237px 238px,#0000d8 238px 240px,#0000c8 240px 244px,#0000d0 244px 245px,#0000c8 245px 247px,#0000d0 247px 249px,#0000e0 249px 251px,#0000c8 251px 252px,#0000d0 252px 254px,#0000e0 254px 258px,#0000d8 258px 259px,#0000d0 259px 261px,#0000c8 261px 265px,#0000c0 265px 266px,#0000d8 266px 268px,#0000c8 268px 272px,#0000d8 272px 273px,#0000c0 273px 275px,#0000e0 275px 277px,#0000d0 277px 279px,#0000e0 279px 280px,#0000d0 280px 282px,#0000d8 282px 284px,#0000c0 284px 286px,#0000c8 286px 289px,#0000d8 289px 291px,#0000c8 291px 294px,#0000d0 294px 296px,#0000e0 296px 298px,#0000d8 298px 300px,#0000d0 300px 301px,#0000c8 301px 303px,#0000c0 303px 307px,#0000e0 307px 308px,#0000c0 308px 310px,#0000e0 310px 312px,#0000c0 312px 314px,#0000e0 314px 315px,#0000d0 315px 319px,#0000c0 319px 321px,#0000e0 321px 322px,#0000c8 322px 324px,#0000e0 324px 326px,#0000d0 326px 328px,#0000d8 328px 329px,#0000e0 329px 331px,#0000d0 331px 333px,#0000e0 333px 336px,#0000c8 336px 338px,#0000e0 338px 340px,#0000c8 340px 342px,#0000b8 342px 343px,#0000e0 343px 345px,#0000c8 345px 347px,#0000b8 347px 349px)"></div>
<div class="r" style="top:759px;height:6px;background:linear-gradient(90deg,#800000 0px 17px,#f80000 17px 18px,#ff9800 18px 19px,#ffb000 19px 20px,#ffc800 20px 21px,#ffe000 21px 22px,#ffff00 22px 23px,#a0ff60 23px 24px,#30ffd0 24px 25px,#18ffe8 25px 26px,#10fff0 26px 28px,#00d8ff 28px 29px,#00d0ff 29px 30px,#00b8ff 30px 31px,#00b0ff 31px 32px,#00c8ff 32px 33px,#00c0ff 33px 34px,#00d8ff 34px 35px,#00c0ff 35px 36px,#00b8ff 36px 37px,#00a8ff 37px 39px,#00b8ff 39px 40px,#00b0ff 40px 41px,#0078ff 41px 42px,#0088ff 42px 46px,#0078ff 46px 47px,#0070ff 47px 48px,#0090ff 48px 49px,#0060ff 49px 50px,#0058ff 50px 53px,#0048ff 53px 54px,#0040ff 54px 56px,#0038ff 56px 59px,#0030ff 59px 60px,#0048ff 60px 61px,#0040ff 61px 62px,#0030ff 62px 63px,#0038ff 63px 65px,#0040ff 65px 67px,#0018ff 67px 69px,#0010ff 69px 70px,#0020ff 70px 72px,#0018ff 72px 74px,#0010ff 74px 76px,#0008ff 76px 77px,#0018ff 77px 79px,#0028ff 79px 83px,#0000ff 83px 84px,#0018ff 84px 86px,#0008ff 86px 90px,#0028ff 90px 91px,#0008ff 91px 93px,#0010ff 93px 95px,#0018ff 95px 97px,#0008ff 97px 98px,#0028ff 98px 100px,#0020ff 100px 102px,#0000ff 102px 105px,#0008ff 105px 109px,#0020ff 109px 111px,#0010ff 111px 112px,#0018ff 112px 116px,#0000ff 116px 118px,#0018ff 118px 119px,#0008ff 119px 123px,#0020ff 123px 125px,#0010ff 125px 128px,#0000f8 128px 130px,#0020ff 130px 132px,#0010ff 132px 133px,#0000f0 133px 135px,#0020ff 135px 137px,#0000ff 137px 139px,#0018ff 139px 140px,#0000ff 140px 142px,#0010ff 142px 144px,#0018ff 144px 146px,#0008ff 146px 147px,#0000f8 147px 149px,#0010ff 149px 151px,#0008ff 151px 153px,#0000ff 153px 154px,#0000f0 154px 156px,#0010ff 156px 158px,#0000f8 158px 159px,#0000f0 159px 160px,#0008ff 160px 161px,#0010ff 161px 162px,#0008ff 162px 163px,#0010ff 163px 165px,#0000f0 165px 167px,#0008ff 167px 170px,#0010ff 170px 172px,#0008ff 172px 174px,#0000f0 174px 175px,#0010ff 175px 177px,#0000f8 177px 181px,#0008ff 181px 182px,#0000ff 182px 184px,#0000f0 184px 186px,#0000ff 186px 191px,#0000f8 191px 195px,#0010ff 195px 196px,#0008ff 196px 198px,#0000f8 198px 200px,#0000e0 200px 203px,#0008ff 203px 205px,#0000f8 205px 207px,#0000e8 207px 209px,#0000f0 209px 210px,#0000e8 210px 212px,#0000f8 212px 214px,#0000f0 214px 216px,#0000f8 216px 217px,#0000e8 217px 219px,#0000ff 219px 221px,#0000f0 221px 230px,#0000ff 230px 231px,#0000e8 231px 233px,#0000e0 233px 235px,#0000ff 235px 238px,#0000f0 238px 240px,#0000e8 240px 242px,#0000f8 242px 244px,#0000f0 244px 245px,#0000e8 245px 247px,#0000e0 247px 249px,#0000f8 249px 251px,#0000e8 251px 252px,#0000f0 252px 254px,#0000e0 254px 256px,#0000f0 256px 258px,#0000e8 258px 259px,#0000d8 259px 261px,#0000f0 261px 263px,#0000e8 263px 265px,#0000d8 265px 266px,#0000e0 266px 268px,#0000d8 268px 270px,#0000f8 270px 272px,#0000e0 272px 273px,#0000e8 273px 275px,#0000d8 275px 277px,#0000f0 277px 279px,#0000d8 279px 280px,#0000e0 280px 284px,#0000d0 284px 286px,#0000e0 286px 287px,#0000f0 287px 289px,#0000d0 289px 291px,#0000d8 291px 293px,#0000e0 293px 294px,#0000d0 294px 296px,#0000e8 296px 298px,#0000e0 298px 303px,#0000e8 303px 305px,#0000e0 305px 307px,#0000d0 307px 308px,#0000d8 308px 310px,#0000d0 310px 312px,#0000e0 312px 315px,#0000d8 315px 317px,#0000d0 317px 319px,#0000c8 319px 321px,#0000e0 321px 322px,#0000c8 322px 324px,#0000e0 324px 326px,#0000e8 326px 328px,#0000d0 328px 329px,#0000e0 329px 331px,#0000d8 331px 335px,#0000d0 335px 336px,#0000c8 336px 338px,#0000e0 338px 340px,#0000d8 340px 342px,#0000d0 342px 343px,#0000d8 343px 345px,#0000c8 345px 347px,#0000e0 347px 349px)"></div>
<div class="r" style="top:765px;height:6px;background:linear-gradient(90deg,#800000 0px 13px,#880000 13px 14px,#800000 14px 23px,#b80000 23px 24px,#d80000 24px 25px,#ff1000 25px 26px,#ff3000 26px 27px,#ff2800 27px 28px,#f80000 28px 29px,#ff0000 29px 30px,#ff6800 30px 31px,#ff7000 31px 32px,#ff3800 32px 33px,#ff4000 33px 34px,#ff1000 34px 35px,#ff9800 35px 36px,#ffa000 36px 37px,#ff3800 37px 38px,#ff4000 38px 39px,#ff5800 39px 40px,#ff7800 40px 41px,#ffe000 41px 42px,#c0ff40 42px 43px,#90ff70 43px 44px,#60ffa0 44px 45px,#40ffb8 45px 46px,#80ff80 46px 47px,#78ff88 47px 48px,#98ff68 48px 49px,#90ff70 49px 50px,#88ff78 50px 51px,#40ffc0 51px 52px,#38ffc8 52px 53px,#08fff8 53px 54px,#00ffff 54px 55px,#60ffa0 55px 56px,#78ff88 56px 57px,#70ff90 57px 58px,#00e0ff 58px 59px,#00d8ff 59px 60px,#58ffa8 60px 61px,#50ffb0 61px 62px,#00d8ff 62px 63px,#48ffb8 63px 65px,#00e8ff 65px 67px,#18ffe8 67px 68px,#10ffe8 68px 69px,#08fff8 69px 70px,#28ffd8 70px 72px,#38ffc8 72px 73px,#30ffc8 73px 74px,#28ffd0 74px 75px,#28ffd8 75px 76px,#20ffe0 76px 77px,#0098ff 77px 78px,#0090ff 78px 79px,#00e8ff 79px 80px,#00e0ff 80px 81px,#0090ff 81px 82px,#0088ff 82px 83px,#00d8ff 83px 84px,#0088ff 84px 85px,#0080ff 85px 86px,#0048ff 86px 87px,#0040ff 87px 88px,#0058ff 88px 89px,#0050ff 89px 90px,#0070ff 90px 91px,#0028ff 91px 93px,#0050ff 93px 95px,#0038ff 95px 97px,#0048ff 97px 98px,#0088ff 98px 100px,#0038ff 100px 102px,#0030ff 102px 104px,#0028ff 104px 105px,#0050ff 105px 106px,#0048ff 106px 107px,#0058ff 107px 109px,#0050ff 109px 111px,#0060ff 111px 112px,#0030ff 112px 114px,#0010ff 114px 116px,#0030ff 116px 118px,#0040ff 118px 119px,#0038ff 119px 121px,#0018ff 121px 123px,#0050ff 123px 126px,#0000ff 126px 128px,#0050ff 128px 130px,#0008ff 130px 132px,#0040ff 132px 135px,#0038ff 135px 137px,#0000ff 137px 139px,#0048ff 139px 140px,#0008ff 140px 142px,#0028ff 142px 143px,#0020ff 143px 144px,#0000f8 144px 145px,#0000f0 145px 146px,#0010ff 146px 147px,#0000f0 147px 148px,#0000e8 148px 149px,#0030ff 149px 151px,#0020ff 151px 153px,#0030ff 153px 154px,#0018ff 154px 156px,#0020ff 156px 157px,#0018ff 157px 158px,#0000e0 158px 160px,#0000d8 160px 161px,#0010ff 161px 163px,#0000f8 163px 165px,#0000e0 165px 167px,#0008ff 167px 168px,#0000f0 168px 170px,#0000d0 170px 172px,#0008ff 172px 174px,#0000d8 174px 175px,#0000e0 175px 176px,#0000d8 176px 177px,#0000ff 177px 179px,#0000f8 179px 180px,#0000f0 180px 181px,#0000d0 181px 182px,#0000e0 182px 184px,#0008ff 184px 186px,#0000f8 186px 188px,#0000e0 188px 189px,#0000d0 189px 191px,#0000f8 191px 193px,#0000ff 193px 195px,#0000c8 195px 196px,#0000f8 196px 197px,#0000f0 197px 198px,#0000d8 198px 200px,#0000f8 200px 203px,#0000ff 203px 205px,#0000e8 205px 207px,#0000d8 207px 209px,#0000d0 209px 212px,#0000f8 212px 214px,#0000c8 214px 216px,#0000e0 216px 217px,#0000f0 217px 219px,#0000c0 219px 221px,#0000c8 221px 223px,#0000f8 223px 224px,#0000f0 224px 226px,#0000f8 226px 228px,#0000d0 228px 230px,#0000f0 230px 231px,#0000e0 231px 233px,#0000c8 233px 235px,#0000d0 235px 237px,#0000c0 237px 238px,#0000d8 238px 240px,#0000f8 240px 244px,#0000ff 244px 245px,#0000e8 245px 247px,#0000d8 247px 249px,#0000b8 249px 251px,#0000c0 251px 252px,#0000d0 252px 254px,#0000c0 254px 256px,#0000f0 256px 258px,#0000d8 258px 259px,#0000c0 259px 261px,#0000d0 261px 263px,#0000f8 263px 266px,#0000d0 266px 268px,#0000c0 268px 272px,#0000e0 272px 273px,#0000b8 273px 277px,#0000c0 277px 279px,#0000f0 279px 280px,#0000c8 280px 282px,#0000d8 282px 284px,#0000d0 284px 287px,#0000d8 287px 289px,#0000d0 289px 291px,#0000d8 291px 293px,#0000b8 293px 294px,#0000f0 294px 296px,#0000e8 296px 298px,#0000e0 298px 303px,#0000c0 303px 305px,#0000b8 305px 307px,#0000f0 307px 308px,#0000b8 308px 310px,#0000e0 310px 312px,#0000d0 312px 314px,#0000e0 314px 315px,#0000b8 315px 317px,#0000d8 317px 321px,#0000d0 321px 322px,#0000f8 322px 324px,#0000e0 324px 326px,#0000c8 326px 328px,#0000d0 328px 329px,#0000d8 329px 331px,#0000c0 331px 333px,#0000d0 333px 335px,#0000f0 335px 336px,#0000b0 336px 338px,#0000d8 338px 340px,#0000f0 340px 342px,#0000c0 342px 343px,#0000f0 343px 345px,#0000c0 345px 349px)"></div>
<div class="r" style="top:771px;height:6px;background:linear-gradient(90deg,#800000 0px 16px,#ff3800 16px 17px,#ffff00 17px 18px,#f0ff10 18px 19px,#d8ff20 19px 20px,#c8ff38 20px 21px,#c0ff40 21px 22px,#98ff68 22px 23px,#48ffb0 23px 24px,#10fff0 24px 25px,#00f8ff 25px 26px,#00f0ff 26px 27px,#10fff0 27px 28px,#00c0ff 28px 29px,#00b8ff 29px 30px,#00c0ff 30px 31px,#00b0ff 31px 32px,#00b8ff 32px 33px,#00b0ff 33px 34px,#00b8ff 34px 35px,#0090ff 35px 36px,#0088ff 36px 37px,#00a8ff 37px 39px,#0088ff 39px 40px,#0080ff 40px 42px,#0090ff 42px 44px,#0070ff 44px 46px,#0068ff 46px 47px,#0060ff 47px 48px,#0078ff 48px 49px,#0060ff 49px 51px,#0050ff 51px 53px,#0070ff 53px 54px,#0068ff 54px 57px,#0060ff 57px 58px,#0030ff 58px 60px,#0040ff 60px 62px,#0028ff 62px 63px,#0018ff 63px 65px,#0020ff 65px 67px,#0010ff 67px 69px,#0020ff 69px 70px,#0030ff 70px 72px,#0018ff 72px 74px,#0008ff 74px 76px,#0010ff 76px 77px,#0000ff 77px 79px,#0030ff 79px 81px,#0020ff 81px 83px,#0010ff 83px 84px,#0020ff 84px 86px,#0008ff 86px 88px,#0028ff 88px 90px,#0010ff 90px 91px,#0018ff 91px 93px,#0028ff 93px 95px,#0000ff 95px 97px,#0010ff 97px 98px,#0028ff 98px 100px,#0020ff 100px 102px,#0000ff 102px 104px,#0010ff 104px 105px,#0018ff 105px 107px,#0008ff 107px 111px,#0010ff 111px 112px,#0020ff 112px 114px,#0010ff 114px 116px,#0000ff 116px 118px,#0008ff 118px 119px,#0018ff 119px 121px,#0008ff 121px 123px,#0018ff 123px 125px,#0008ff 125px 126px,#0010ff 126px 130px,#0000f0 130px 132px,#0000ff 132px 133px,#0000f8 133px 135px,#0010ff 135px 139px,#0000ff 139px 140px,#0000f8 140px 142px,#0008ff 142px 146px,#0010ff 146px 147px,#0000ff 147px 149px,#0000f0 149px 151px,#0000ff 151px 153px,#0000f8 153px 154px,#0000f0 154px 160px,#0010ff 160px 162px,#0008ff 162px 163px,#0010ff 163px 165px,#0000ff 165px 168px,#0008ff 168px 170px,#0000f0 170px 174px,#0000ff 174px 175px,#0000f8 175px 177px,#0010ff 177px 179px,#0000f0 179px 180px,#0000e8 180px 181px,#0000f0 181px 182px,#0000ff 182px 184px,#0000f0 184px 191px,#0008ff 191px 193px,#0000ff 193px 195px,#0000f0 195px 196px,#0008ff 196px 200px,#0000ff 200px 202px,#0000f0 202px 203px,#0000ff 203px 207px,#0000f0 207px 209px,#0000ff 209px 210px,#0000f8 210px 212px,#0000f0 212px 214px,#0000e0 214px 216px,#0000ff 216px 217px,#0000f8 217px 221px,#0000e0 221px 223px,#0000ff 223px 224px,#0000f0 224px 226px,#0000e0 226px 228px,#0000e8 228px 230px,#0000ff 230px 231px,#0000f8 231px 233px,#0000f0 233px 235px,#0000ff 235px 237px,#0000f8 237px 240px,#0000e8 240px 242px,#0000f8 242px 243px,#0000f0 243px 244px,#0000d8 244px 245px,#0000f8 245px 247px,#0000d8 247px 249px,#0000f0 249px 251px,#0000f8 251px 254px,#0000e0 254px 256px,#0000d8 256px 258px,#0000f0 258px 259px,#0000f8 259px 261px,#0000e0 261px 263px,#0000e8 263px 265px,#0000d8 265px 270px,#0000f0 270px 272px,#0000e0 272px 273px,#0000f0 273px 277px,#0000e8 277px 280px,#0000d8 280px 282px,#0000d0 282px 284px,#0000d8 284px 289px,#0000e8 289px 291px,#0000e0 291px 293px,#0000f0 293px 298px,#0000e0 298px 300px,#0000d0 300px 307px,#0000d8 307px 308px,#0000d0 308px 310px,#0000e8 310px 312px,#0000d0 312px 314px,#0000e0 314px 315px,#0000c8 315px 317px,#0000d0 317px 319px,#0000d8 319px 321px,#0000e0 321px 324px,#0000d8 324px 326px,#0000e8 326px 327px,#0000e0 327px 328px,#0000d0 328px 331px,#0000e0 331px 335px,#0000d8 335px 336px,#0000e0 336px 338px,#0000d8 338px 342px,#0000c8 342px 343px,#0000d8 343px 345px,#0000c8 345px 347px,#0000d0 347px 349px)"></div>
<div class="r" style="top:777px;height:6px;background:linear-gradient(90deg,#800000 0px 3px,#880000 3px 4px,#ff5000 4px 5px,#f8ff08 5px 6px,#e0ff20 6px 7px,#a8ff58 7px 8px,#98ff68 8px 9px,#a0ff60 9px 10px,#90ff70 10px 12px,#80ff80 12px 13px,#58ffa8 13px 14px,#70ff90 14px 15px,#58ffa8 15px 16px,#30ffd0 16px 17px,#10fff0 17px 18px,#00b8ff 18px 19px,#0090ff 19px 20px,#0088ff 20px 21px,#00a0ff 21px 24px,#0098ff 24px 26px,#0090ff 26px 27px,#0080ff 27px 28px,#0068ff 28px 30px,#0070ff 30px 31px,#0068ff 31px 32px,#0060ff 32px 34px,#0040ff 34px 35px,#0030ff 35px 36px,#0028ff 36px 37px,#0048ff 37px 39px,#0038ff 39px 40px,#0030ff 40px 41px,#0048ff 41px 42px,#0020ff 42px 44px,#0030ff 44px 46px,#0020ff 46px 47px,#0018ff 47px 49px,#0000f8 49px 50px,#0000f0 50px 51px,#0000f8 51px 52px,#0000f0 52px 53px,#0000e8 53px 56px,#0000f8 56px 57px,#0000f0 57px 58px,#0000e8 58px 59px,#0000e0 59px 60px,#0000f0 60px 61px,#0000e8 61px 62px,#0000d8 62px 63px,#0000f8 63px 65px,#0000f0 65px 67px,#0000d8 67px 69px,#0000e0 69px 70px,#0000e8 70px 72px,#0000f8 72px 74px,#0000e8 74px 76px,#0000e0 76px 77px,#0000ff 77px 79px,#0000e8 79px 81px,#0000e0 81px 83px,#0000ff 83px 84px,#0000f0 84px 86px,#0000e8 86px 88px,#0000d0 88px 90px,#0000e8 90px 91px,#0000e0 91px 93px,#0000f8 93px 95px,#0000e8 95px 97px,#0000d8 97px 98px,#0000f0 98px 100px,#0000f8 100px 101px,#0000f0 101px 102px,#0000e8 102px 104px,#0000f0 104px 105px,#0000d8 105px 109px,#0000e0 109px 111px,#0000e8 111px 112px,#0000d0 112px 114px,#0000d8 114px 116px,#0000e8 116px 118px,#0000d0 118px 119px,#0000e0 119px 126px,#0000d0 126px 130px,#0000e0 130px 132px,#0000e8 132px 133px,#0000e0 133px 135px,#0000e8 135px 139px,#0000d8 139px 140px,#0000e8 140px 142px,#0000d8 142px 144px,#0000e0 144px 146px,#0000c8 146px 147px,#0000e0 147px 148px,#0000d8 148px 149px,#0000e8 149px 151px,#0000e0 151px 153px,#0000d0 153px 154px,#0000d8 154px 156px,#0000c0 156px 158px,#0000e0 158px 160px,#0000d8 160px 161px,#0000e0 161px 163px,#0000d0 163px 165px,#0000d8 165px 167px,#0000c8 167px 168px,#0000e0 168px 170px,#0000d8 170px 172px,#0000c8 172px 175px,#0000e8 175px 177px,#0000e0 177px 179px,#0000e8 179px 181px,#0000e0 181px 182px,#0000e8 182px 184px,#0000d8 184px 186px,#0000e8 186px 188px,#0000c0 188px 189px,#0000e0 189px 193px,#0000d0 193px 196px,#0000d8 196px 200px,#0000e0 200px 202px,#0000c0 202px 203px,#0000e8 203px 205px,#0000c8 205px 212px,#0000d8 212px 214px,#0000c0 214px 216px,#0000e0 216px 217px,#0000c0 217px 221px,#0000c8 221px 228px,#0000e0 228px 230px,#0000d0 230px 231px,#0000c0 231px 235px,#0000e8 235px 238px,#0000c8 238px 240px,#0000c0 240px 242px,#0000c8 242px 244px,#0000c0 244px 245px,#0000d0 245px 247px,#0000d8 247px 251px,#0000c0 251px 252px,#0000d0 252px 254px,#0000c8 254px 256px,#0000d0 256px 258px,#0000c0 258px 259px,#0000c8 259px 261px,#0000d8 261px 263px,#0000e0 263px 265px,#0000c0 265px 266px,#0000e0 266px 268px,#0000d0 268px 272px,#0000e0 272px 273px,#0000c0 273px 275px,#0000c8 275px 279px,#0000d0 279px 282px,#0000d8 282px 287px,#0000c0 287px 289px,#0000e0 289px 291px,#0000d0 291px 293px,#0000e0 293px 294px,#0000c0 294px 296px,#0000d8 296px 298px,#0000c0 298px 300px,#0000d0 300px 301px,#0000c0 301px 303px,#0000c8 303px 307px,#0000c0 307px 310px,#0000c8 310px 314px,#0000c0 314px 315px,#0000d0 315px 317px,#0000c0 317px 319px,#0000e0 319px 321px,#0000c0 321px 322px,#0000c8 322px 324px,#0000d8 324px 326px,#0000e0 326px 328px,#0000d8 328px 329px,#0000c0 329px 333px,#0000d8 333px 335px,#0000e0 335px 336px,#0000c8 336px 338px,#0000c0 338px 342px,#0000c8 342px 343px,#0000d8 343px 347px,#0000c8 347px 349px)"></div>
<div class="r" style="top:783px;height:6px;background:linear-gradient(90deg,#800000 0px 4px,#ff3800 4px 5px,#fff000 5px 6px,#f8ff08 6px 7px,#a8ff58 7px 8px,#90ff68 8px 9px,#b8ff48 9px 10px,#b0ff50 10px 11px,#a0ff60 11px 12px,#90ff70 12px 13px,#68ff98 13px 14px,#48ffb8 14px 15px,#30ffd0 15px 16px,#28ffd8 16px 17px,#08fff0 17px 18px,#00b0ff 18px 19px,#0088ff 19px 20px,#00a8ff 20px 21px,#0080ff 21px 22px,#0078ff 22px 23px,#0090ff 23px 25px,#0078ff 25px 26px,#0070ff 26px 27px,#0060ff 27px 28px,#0058ff 28px 29px,#0050ff 29px 30px,#0060ff 30px 32px,#0080ff 32px 33px,#0078ff 33px 34px,#0038ff 34px 35px,#0058ff 35px 36px,#0050ff 36px 38px,#0048ff 38px 39px,#0038ff 39px 41px,#0020ff 41px 42px,#0040ff 42px 44px,#0000ff 44px 46px,#0008ff 46px 47px,#0000ff 47px 48px,#0020ff 48px 49px,#0000f8 49px 50px,#0000f0 50px 51px,#0008ff 51px 52px,#0000ff 52px 55px,#0000f0 55px 56px,#0000e0 56px 60px,#0000e8 60px 62px,#0000f8 62px 63px,#0000e0 63px 65px,#0000d8 65px 67px,#0000f0 67px 69px,#0000e0 69px 70px,#0000ff 70px 72px,#0000f0 72px 76px,#0000e8 76px 77px,#0000ff 77px 79px,#0000f0 79px 83px,#0000f8 83px 84px,#0000f0 84px 97px,#0000e8 97px 98px,#0000f0 98px 100px,#0000f8 100px 102px,#0000d0 102px 107px,#0000f0 107px 109px,#0000d8 109px 114px,#0000e8 114px 116px,#0000d8 116px 118px,#0000f0 118px 119px,#0000e0 119px 123px,#0000d0 123px 124px,#0000c8 124px 125px,#0000e0 125px 128px,#0000e8 128px 132px,#0000d0 132px 133px,#0000e8 133px 135px,#0000c8 135px 137px,#0000e8 137px 139px,#0000d8 139px 140px,#0000d0 140px 142px,#0000d8 142px 144px,#0000d0 144px 146px,#0000e0 146px 149px,#0000e8 149px 151px,#0000c8 151px 153px,#0000e8 153px 154px,#0000d8 154px 155px,#0000d0 155px 156px,#0000d8 156px 158px,#0000c8 158px 161px,#0000d0 161px 163px,#0000e0 163px 165px,#0000d0 165px 167px,#0000e8 167px 168px,#0000d8 168px 170px,#0000c8 170px 172px,#0000d8 172px 174px,#0000d0 174px 177px,#0000d8 177px 179px,#0000c0 179px 181px,#0000e8 181px 182px,#0000d8 182px 184px,#0000e0 184px 188px,#0000c8 188px 189px,#0000d8 189px 191px,#0000e0 191px 195px,#0000d0 195px 198px,#0000e0 198px 203px,#0000d8 203px 205px,#0000d0 205px 207px,#0000d8 207px 209px,#0000d0 209px 210px,#0000c0 210px 212px,#0000e0 212px 214px,#0000d8 214px 216px,#0000c0 216px 217px,#0000d0 217px 219px,#0000d8 219px 221px,#0000e0 221px 223px,#0000d0 223px 224px,#0000e0 224px 226px,#0000c8 226px 228px,#0000d0 228px 230px,#0000c0 230px 231px,#0000e0 231px 233px,#0000c8 233px 235px,#0000d0 235px 237px,#0000d8 237px 238px,#0000c0 238px 240px,#0000c8 240px 242px,#0000d0 242px 244px,#0000d8 244px 247px,#0000d0 247px 249px,#0000c0 249px 251px,#0000d8 251px 252px,#0000e0 252px 258px,#0000c8 258px 259px,#0000e0 259px 263px,#0000d0 263px 265px,#0000e0 265px 266px,#0000d0 266px 272px,#0000c0 272px 277px,#0000d8 277px 279px,#0000c8 279px 280px,#0000d8 280px 282px,#0000d0 282px 287px,#0000e0 287px 289px,#0000c0 289px 293px,#0000e0 293px 294px,#0000c0 294px 296px,#0000d8 296px 298px,#0000d0 298px 300px,#0000e0 300px 301px,#0000d0 301px 303px,#0000c0 303px 307px,#0000d8 307px 308px,#0000c0 308px 310px,#0000b8 310px 312px,#0000c8 312px 314px,#0000d8 314px 317px,#0000c8 317px 319px,#0000b8 319px 321px,#0000e0 321px 324px,#0000c0 324px 326px,#0000c8 326px 328px,#0000d0 328px 329px,#0000c8 329px 331px,#0000c0 331px 333px,#0000d8 333px 335px,#0000c8 335px 336px,#0000e0 336px 338px,#0000c0 338px 340px,#0000d0 340px 342px,#0000e0 342px 343px,#0000c0 343px 345px,#0000e0 345px 347px,#0000d8 347px 349px)"></div>
<div class="r" style="top:789px;height:6px;background:linear-gradient(90deg,#800000 0px 4px,#ff4000 4px 5px,#fff000 5px 6px,#d8ff20 6px 7px,#d0ff30 7px 8px,#c0ff40 8px 9px,#80ff78 9px 10px,#78ff88 10px 11px,#a0ff60 11px 12px,#90ff70 12px 13px,#80ff80 13px 14px,#48ffb8 14px 15px,#30ffd0 15px 16px,#00f8ff 16px 17px,#00e0ff 17px 18px,#00c8ff 18px 19px,#00a0ff 19px 20px,#00b0ff 20px 21px,#0090ff 21px 22px,#0088ff 22px 25px,#0060ff 25px 26px,#0058ff 26px 27px,#0090ff 27px 28px,#0060ff 28px 30px,#0080ff 30px 31px,#0078ff 31px 32px,#0040ff 32px 33px,#0038ff 33px 34px,#0070ff 34px 35px,#0060ff 35px 36px,#0058ff 36px 38px,#0050ff 38px 39px,#0040ff 39px 40px,#0038ff 40px 43px,#0030ff 43px 44px,#0008ff 44px 45px,#0000ff 45px 46px,#0008ff 46px 47px,#0000ff 47px 48px,#0000f0 48px 49px,#0000e8 49px 51px,#0000ff 51px 52px,#0000f8 52px 53px,#0000e8 53px 55px,#0000ff 55px 56px,#0000d8 56px 58px,#0000f0 58px 60px,#0000ff 60px 62px,#0000d8 62px 63px,#0000f0 63px 65px,#0000e8 65px 67px,#0000d8 67px 69px,#0000f0 69px 70px,#0000e8 70px 72px,#0000f8 72px 74px,#0000ff 74px 76px,#0000f8 76px 78px,#0000f0 78px 79px,#0000f8 79px 83px,#0000f0 83px 84px,#0000d8 84px 86px,#0000e0 86px 88px,#0000d8 88px 90px,#0000f0 90px 93px,#0000e0 93px 97px,#0000d8 97px 98px,#0000d0 98px 104px,#0000e0 104px 109px,#0000d0 109px 112px,#0000e8 112px 114px,#0000d8 114px 116px,#0000d0 116px 118px,#0000c8 118px 119px,#0000e8 119px 121px,#0000d0 121px 123px,#0000f0 123px 125px,#0000d8 125px 126px,#0000e0 126px 128px,#0000f0 128px 130px,#0000d8 130px 132px,#0000e8 132px 133px,#0000f0 133px 135px,#0000d8 135px 137px,#0000c8 137px 140px,#0000d8 140px 142px,#0000e8 142px 144px,#0000d0 144px 146px,#0000e0 146px 147px,#0000d8 147px 149px,#0000e8 149px 151px,#0000d8 151px 153px,#0000c8 153px 154px,#0000e0 154px 156px,#0000c8 156px 160px,#0000d8 160px 163px,#0000c8 163px 165px,#0000d8 165px 167px,#0000c0 167px 168px,#0000e8 168px 170px,#0000c0 170px 172px,#0000d8 172px 175px,#0000e0 175px 177px,#0000c8 177px 179px,#0000d0 179px 182px,#0000e0 182px 183px,#0000d8 183px 184px,#0000c0 184px 186px,#0000d8 186px 188px,#0000e0 188px 195px,#0000d0 195px 196px,#0000c0 196px 198px,#0000d8 198px 200px,#0000c8 200px 202px,#0000d8 202px 203px,#0000d0 203px 205px,#0000e0 205px 207px,#0000c0 207px 209px,#0000d0 209px 212px,#0000d8 212px 214px,#0000c8 214px 216px,#0000d0 216px 217px,#0000c8 217px 219px,#0000d8 219px 221px,#0000e8 221px 223px,#0000c0 223px 224px,#0000d0 224px 226px,#0000e0 226px 228px,#0000c0 228px 230px,#0000c8 230px 231px,#0000e0 231px 233px,#0000d8 233px 235px,#0000e8 235px 237px,#0000d8 237px 238px,#0000c0 238px 240px,#0000e0 240px 242px,#0000d0 242px 245px,#0000c0 245px 247px,#0000e0 247px 249px,#0000c0 249px 251px,#0000c8 251px 252px,#0000d0 252px 254px,#0000c8 254px 256px,#0000d8 256px 258px,#0000c8 258px 259px,#0000d0 259px 263px,#0000e0 263px 266px,#0000d0 266px 268px,#0000d8 268px 270px,#0000e0 270px 272px,#0000d0 272px 273px,#0000e0 273px 277px,#0000c8 277px 279px,#0000c0 279px 280px,#0000d0 280px 284px,#0000e0 284px 286px,#0000d0 286px 287px,#0000c8 287px 289px,#0000e0 289px 291px,#0000c8 291px 293px,#0000d0 293px 296px,#0000d8 296px 298px,#0000d0 298px 301px,#0000b8 301px 303px,#0000d0 303px 305px,#0000c8 305px 308px,#0000c0 308px 310px,#0000d8 310px 312px,#0000c0 312px 314px,#0000d8 314px 315px,#0000d0 315px 317px,#0000c8 317px 321px,#0000c0 321px 324px,#0000d0 324px 326px,#0000d8 326px 328px,#0000c8 328px 329px,#0000b8 329px 331px,#0000c0 331px 333px,#0000e0 333px 335px,#0000d0 335px 336px,#0000c0 336px 338px,#0000d0 338px 342px,#0000c0 342px 343px,#0000d0 343px 345px,#0000c8 345px 347px,#0000d8 347px 349px)"></div>
<div class="r" style="top:795px;height:6px;background:linear-gradient(90deg,#800000 0px 4px,#ff4000 4px 5px,#fff800 5px 6px,#f8ff08 6px 7px,#e8ff18 7px 8px,#d0ff28 8px 9px,#a0ff60 9px 10px,#90ff68 10px 11px,#68ff98 11px 12px,#58ffa8 12px 13px,#50ffb0 13px 14px,#78ff88 14px 15px,#60ff98 15px 16px,#00ffff 16px 17px,#00e0ff 17px 18px,#00c0ff 18px 19px,#0098ff 19px 20px,#00b0ff 20px 21px,#0098ff 21px 22px,#0090ff 22px 23px,#0088ff 23px 24px,#0080ff 24px 25px,#0078ff 25px 26px,#0070ff 26px 27px,#0080ff 27px 30px,#0068ff 30px 31px,#0060ff 31px 32px,#0050ff 32px 34px,#0048ff 34px 37px,#0040ff 37px 41px,#0018ff 41px 42px,#0010ff 42px 43px,#0008ff 43px 44px,#0030ff 44px 45px,#0028ff 45px 46px,#0010ff 46px 47px,#0008ff 47px 48px,#0018ff 48px 49px,#0000f0 49px 50px,#0000e8 50px 51px,#0008ff 51px 52px,#0000ff 52px 54px,#0000f8 54px 55px,#0000e8 55px 58px,#0008ff 58px 60px,#0000e0 60px 62px,#0000d8 62px 63px,#0000e8 63px 65px,#0000d8 65px 67px,#0000f0 67px 69px,#0000f8 69px 70px,#0000f0 70px 72px,#0000e0 72px 74px,#0000f0 74px 76px,#0000e0 76px 77px,#0000f0 77px 78px,#0000e8 78px 79px,#0000d0 79px 81px,#0000f8 81px 84px,#0000e0 84px 86px,#0000d0 86px 88px,#0000e0 88px 90px,#0000d8 90px 91px,#0000f0 91px 93px,#0000d8 93px 95px,#0000e8 95px 97px,#0000f0 97px 98px,#0000e8 98px 100px,#0000d0 100px 104px,#0000d8 104px 105px,#0000e0 105px 107px,#0000f0 107px 108px,#0000e8 108px 109px,#0000f8 109px 111px,#0000d8 111px 112px,#0000e8 112px 114px,#0000f0 114px 116px,#0000e8 116px 118px,#0000f0 118px 119px,#0000d0 119px 121px,#0000e0 121px 126px,#0000d0 126px 128px,#0000f0 128px 129px,#0000e8 129px 130px,#0000e0 130px 132px,#0000d0 132px 133px,#0000e0 133px 137px,#0000d8 137px 139px,#0000d0 139px 140px,#0000e8 140px 143px,#0000e0 143px 144px,#0000c8 144px 146px,#0000d8 146px 147px,#0000d0 147px 153px,#0000e8 153px 154px,#0000c8 154px 156px,#0000d0 156px 160px,#0000d8 160px 161px,#0000c8 161px 163px,#0000c0 163px 165px,#0000d8 165px 167px,#0000c8 167px 170px,#0000d0 170px 172px,#0000e8 172px 174px,#0000e0 174px 175px,#0000c0 175px 177px,#0000e0 177px 179px,#0000c0 179px 181px,#0000d0 181px 182px,#0000e8 182px 184px,#0000d0 184px 186px,#0000d8 186px 188px,#0000e0 188px 189px,#0000d0 189px 191px,#0000d8 191px 193px,#0000e8 193px 195px,#0000c0 195px 196px,#0000e0 196px 198px,#0000d8 198px 200px,#0000c0 200px 202px,#0000c8 202px 203px,#0000d0 203px 205px,#0000c8 205px 209px,#0000c0 209px 210px,#0000d8 210px 212px,#0000c8 212px 214px,#0000d8 214px 216px,#0000d0 216px 217px,#0000d8 217px 219px,#0000e0 219px 224px,#0000c0 224px 226px,#0000d0 226px 228px,#0000e8 228px 230px,#0000c8 230px 231px,#0000e0 231px 235px,#0000e8 235px 237px,#0000d0 237px 240px,#0000c8 240px 242px,#0000d8 242px 244px,#0000e0 244px 245px,#0000c8 245px 247px,#0000d0 247px 249px,#0000e8 249px 251px,#0000d0 251px 252px,#0000c8 252px 254px,#0000c0 254px 258px,#0000d0 258px 259px,#0000c0 259px 263px,#0000e0 263px 266px,#0000d8 266px 268px,#0000c8 268px 270px,#0000d0 270px 273px,#0000e0 273px 277px,#0000d0 277px 278px,#0000c8 278px 279px,#0000e0 279px 280px,#0000d0 280px 284px,#0000e0 284px 287px,#0000d0 287px 289px,#0000c0 289px 291px,#0000e0 291px 294px,#0000c8 294px 296px,#0000d0 296px 298px,#0000e0 298px 300px,#0000c0 300px 301px,#0000d8 301px 305px,#0000c0 305px 307px,#0000d8 307px 308px,#0000e0 308px 310px,#0000d8 310px 312px,#0000d0 312px 315px,#0000e0 315px 317px,#0000c8 317px 319px,#0000e0 319px 324px,#0000d0 324px 329px,#0000c8 329px 331px,#0000d0 331px 335px,#0000c8 335px 336px,#0000c0 336px 338px,#0000d0 338px 342px,#0000c0 342px 343px,#0000d8 343px 347px,#0000e0 347px 349px)"></div>
<div class="r" style="top:801px;height:6px;background:linear-gradient(90deg,#800000 0px 4px,#ff4000 4px 5px,#fff000 5px 6px,#e8ff10 6px 7px,#b8ff48 7px 8px,#a0ff58 8px 9px,#b0ff50 9px 10px,#a0ff60 10px 11px,#68ff98 11px 12px,#58ffa8 12px 13px,#68ff98 13px 14px,#58ffa0 14px 15px,#48ffb8 15px 16px,#38ffc8 16px 17px,#18ffe8 17px 18px,#00c0ff 18px 19px,#0090ff 19px 20px,#0088ff 20px 21px,#0098ff 21px 22px,#0090ff 22px 23px,#00a0ff 23px 24px,#0098ff 24px 25px,#0068ff 25px 26px,#0060ff 26px 27px,#0080ff 27px 28px,#0068ff 28px 29px,#0060ff 29px 32px,#0050ff 32px 34px,#0058ff 34px 35px,#0060ff 35px 36px,#0058ff 36px 37px,#0048ff 37px 38px,#0040ff 38px 39px,#0030ff 39px 42px,#0018ff 42px 43px,#0010ff 43px 45px,#0008ff 45px 46px,#0018ff 46px 47px,#0010ff 47px 48px,#0000f8 48px 49px,#0000f0 49px 51px,#0010ff 51px 52px,#0008ff 52px 53px,#0000e0 53px 56px,#0000e8 56px 58px,#0000f0 58px 59px,#0000e8 59px 60px,#0000f0 60px 62px,#0000ff 62px 63px,#0000e8 63px 64px,#0000e0 64px 65px,#0000ff 65px 67px,#0000f0 67px 69px,#0000e8 69px 70px,#0000e0 70px 74px,#0000f0 74px 77px,#0000f8 77px 79px,#0000e8 79px 81px,#0000ff 81px 84px,#0000f0 84px 86px,#0000d8 86px 90px,#0000f0 90px 91px,#0000f8 91px 95px,#0000e8 95px 97px,#0000f0 97px 98px,#0000e0 98px 100px,#0000d8 100px 102px,#0000f8 102px 104px,#0000d0 104px 105px,#0000e0 105px 107px,#0000d0 107px 109px,#0000e0 109px 111px,#0000f0 111px 114px,#0000d0 114px 118px,#0000f0 118px 121px,#0000d0 121px 126px,#0000f0 126px 128px,#0000e0 128px 130px,#0000d0 130px 132px,#0000c8 132px 135px,#0000d8 135px 137px,#0000f0 137px 139px,#0000e0 139px 140px,#0000c0 140px 142px,#0000d0 142px 146px,#0000e0 146px 149px,#0000d0 149px 151px,#0000e8 151px 153px,#0000d0 153px 154px,#0000e0 154px 156px,#0000d0 156px 158px,#0000d8 158px 160px,#0000e8 160px 161px,#0000c8 161px 162px,#0000c0 162px 163px,#0000e8 163px 165px,#0000d0 165px 167px,#0000e8 167px 168px,#0000c8 168px 170px,#0000d0 170px 172px,#0000e8 172px 174px,#0000c8 174px 177px,#0000d8 177px 179px,#0000c8 179px 181px,#0000d0 181px 182px,#0000e0 182px 184px,#0000c8 184px 186px,#0000e0 186px 188px,#0000c8 188px 189px,#0000e0 189px 191px,#0000d8 191px 193px,#0000e8 193px 195px,#0000c8 195px 196px,#0000e0 196px 198px,#0000c0 198px 200px,#0000c8 200px 202px,#0000c0 202px 203px,#0000e0 203px 205px,#0000c8 205px 207px,#0000c0 207px 209px,#0000e0 209px 210px,#0000c8 210px 216px,#0000e0 216px 217px,#0000c0 217px 219px,#0000e0 219px 223px,#0000d0 223px 224px,#0000c0 224px 226px,#0000e8 226px 228px,#0000e0 228px 230px,#0000d0 230px 231px,#0000e0 231px 237px,#0000c8 237px 238px,#0000c0 238px 240px,#0000e0 240px 242px,#0000c0 242px 244px,#0000e0 244px 245px,#0000c8 245px 248px,#0000c0 248px 251px,#0000c8 251px 254px,#0000d0 254px 256px,#0000e0 256px 259px,#0000d8 259px 261px,#0000c8 261px 263px,#0000d8 263px 268px,#0000d0 268px 272px,#0000e0 272px 275px,#0000d0 275px 277px,#0000c0 277px 279px,#0000d8 279px 282px,#0000e0 282px 284px,#0000c0 284px 287px,#0000d0 287px 293px,#0000e0 293px 294px,#0000d0 294px 298px,#0000b8 298px 300px,#0000c8 300px 301px,#0000d0 301px 303px,#0000d8 303px 305px,#0000e0 305px 307px,#0000d0 307px 310px,#0000b8 310px 312px,#0000d8 312px 314px,#0000e0 314px 315px,#0000d0 315px 317px,#0000d8 317px 319px,#0000c0 319px 321px,#0000c8 321px 322px,#0000b8 322px 324px,#0000e0 324px 326px,#0000d0 326px 328px,#0000c8 328px 335px,#0000d0 335px 336px,#0000c0 336px 338px,#0000d0 338px 340px,#0000e0 340px 342px,#0000d8 342px 343px,#0000b8 343px 345px,#0000c8 345px 349px)"></div>
<div class="r" style="top:807px;height:8px;background:linear-gradient(90deg,#800000 0px 4px,#ff3800 4px 5px,#fff000 5px 6px,#b8ff48 6px 7px,#c0ff38 7px 8px,#b0ff50 8px 9px,#80ff80 9px 10px,#70ff90 10px 11px,#b0ff50 11px 12px,#a0ff60 12px 13px,#60ffa0 13px 14px,#30ffd0 14px 15px,#18ffe0 15px 16px,#48ffb8 16px 17px,#28ffd8 17px 18px,#08fff8 18px 19px,#00e0ff 19px 20px,#0080ff 20px 22px,#0078ff 22px 23px,#00a0ff 23px 24px,#0098ff 24px 25px,#0078ff 25px 26px,#0070ff 26px 27px,#0088ff 27px 28px,#0068ff 28px 29px,#0060ff 29px 30px,#0058ff 30px 31px,#0050ff 31px 32px,#0068ff 32px 33px,#0060ff 33px 34px,#0070ff 34px 35px,#0048ff 35px 36px,#0040ff 36px 37px,#0038ff 37px 38px,#0030ff 38px 39px,#0048ff 39px 40px,#0040ff 40px 42px,#0020ff 42px 46px,#0008ff 46px 47px,#0000ff 47px 49px,#0018ff 49px 50px,#0010ff 50px 51px,#0000f8 51px 53px,#0000e0 53px 55px,#0000d8 55px 56px,#0000ff 56px 58px,#0000e0 58px 60px,#0000f8 60px 62px,#0000d8 62px 63px,#0000ff 63px 65px,#0000e0 65px 67px,#0000d8 67px 69px,#0000e8 69px 70px,#0000ff 70px 74px,#0000f8 74px 76px,#0000e0 76px 77px,#0000d0 77px 79px,#0000d8 79px 83px,#0000e0 83px 84px,#0000ff 84px 86px,#0000f0 86px 88px,#0000e0 88px 90px,#0000e8 90px 91px,#0000f0 91px 93px,#0000f8 93px 95px,#0000f0 95px 97px,#0000e8 97px 98px,#0000d8 98px 100px,#0000f0 100px 102px,#0000f8 102px 104px,#0000e8 104px 105px,#0000d0 105px 107px,#0000f0 107px 109px,#0000d0 109px 111px,#0000e0 111px 112px,#0000f0 112px 116px,#0000d0 116px 118px,#0000e0 118px 119px,#0000c8 119px 121px,#0000e8 121px 123px,#0000d8 123px 125px,#0000e0 125px 126px,#0000d8 126px 128px,#0000f0 128px 130px,#0000e8 130px 131px,#0000e0 131px 132px,#0000d8 132px 133px,#0000e0 133px 135px,#0000d8 135px 137px,#0000e8 137px 139px,#0000d8 139px 140px,#0000e8 140px 142px,#0000e0 142px 144px,#0000d8 144px 146px,#0000e0 146px 147px,#0000e8 147px 149px,#0000c8 149px 153px,#0000c0 153px 156px,#0000c8 156px 158px,#0000e0 158px 161px,#0000d0 161px 163px,#0000c8 163px 165px,#0000d0 165px 167px,#0000c0 167px 168px,#0000c8 168px 170px,#0000e8 170px 172px,#0000e0 172px 174px,#0000e8 174px 175px,#0000d8 175px 179px,#0000d0 179px 182px,#0000e8 182px 184px,#0000c8 184px 186px,#0000d8 186px 188px,#0000c8 188px 191px,#0000c0 191px 193px,#0000d0 193px 198px,#0000d8 198px 202px,#0000c0 202px 203px,#0000e8 203px 205px,#0000e0 205px 207px,#0000c8 207px 209px,#0000d8 209px 210px,#0000e0 210px 212px,#0000c0 212px 214px,#0000d0 214px 216px,#0000d8 216px 217px,#0000d0 217px 219px,#0000e0 219px 223px,#0000d0 223px 224px,#0000c8 224px 226px,#0000e0 226px 228px,#0000d0 228px 230px,#0000c8 230px 231px,#0000d0 231px 235px,#0000e0 235px 237px,#0000d0 237px 238px,#0000e0 238px 240px,#0000d8 240px 242px,#0000c8 242px 244px,#0000c0 244px 245px,#0000d0 245px 247px,#0000c0 247px 249px,#0000d0 249px 252px,#0000d8 252px 258px,#0000e0 258px 259px,#0000d8 259px 260px,#0000d0 260px 261px,#0000e0 261px 265px,#0000c8 265px 268px,#0000d0 268px 270px,#0000c8 270px 272px,#0000d8 272px 273px,#0000c0 273px 279px,#0000e0 279px 280px,#0000d0 280px 282px,#0000d8 282px 284px,#0000d0 284px 286px,#0000c0 286px 287px,#0000d0 287px 289px,#0000c0 289px 291px,#0000e0 291px 293px,#0000c0 293px 294px,#0000d8 294px 296px,#0000e0 296px 300px,#0000d8 300px 301px,#0000c0 301px 303px,#0000c8 303px 305px,#0000c0 305px 310px,#0000c8 310px 312px,#0000d0 312px 314px,#0000d8 314px 317px,#0000c8 317px 319px,#0000e0 319px 321px,#0000d8 321px 322px,#0000d0 322px 326px,#0000c8 326px 328px,#0000d8 328px 331px,#0000c8 331px 333px,#0000c0 333px 335px,#0000b8 335px 336px,#0000e0 336px 338px,#0000c0 338px 340px,#0000d8 340px 342px,#0000d0 342px 347px,#0000c0 347px 349px)"></div>
<svg width="552" height="892" viewBox="0 0 552 892" shape-rendering="crispEdges">
<rect x="67" y="93" width="1" height="720" fill="#808080"/>
<rect x="85" y="93" width="1" height="720" fill="#808080"/>
<rect x="102" y="93" width="1" height="720" fill="#808080"/>
<rect x="120" y="93" width="1" height="720" fill="#808080"/>
<rect x="137" y="93" width="1" height="720" fill="#808080"/>
<rect x="155" y="93" width="1" height="720" fill="#808080"/>
<rect x="172" y="93" width="1" height="720" fill="#808080"/>
<rect x="190" y="93" width="1" height="720" fill="#808080"/>
<rect x="207" y="93" width="1" height="720" fill="#808080"/>
<rect x="225" y="93" width="1" height="720" fill="#808080"/>
<rect x="242" y="93" width="1" height="720" fill="#808080"/>
<rect x="260" y="93" width="1" height="720" fill="#808080"/>
<rect x="277" y="93" width="1" height="720" fill="#808080"/>
<rect x="295" y="93" width="1" height="720" fill="#808080"/>
<rect x="312" y="93" width="1" height="720" fill="#808080"/>
<rect x="330" y="93" width="1" height="720" fill="#808080"/>
<rect x="347" y="93" width="1" height="720" fill="#808080"/>
<rect x="365" y="93" width="1" height="720" fill="#808080"/>
<rect x="382" y="93" width="1" height="720" fill="#808080"/>
<rect x="50" y="93" width="1" height="720" fill="#808080"/>
<rect x="400" y="93" width="1" height="720" fill="#808080"/>
<rect x="38" y="93" width="375" height="1" fill="#000"/>
<rect x="50" y="812" width="351" height="1" fill="#000"/>
<rect x="38" y="93" width="12" height="1" fill="#000"/>
<rect x="400" y="93" width="13" height="1" fill="#000"/>
<rect x="44" y="99" width="6" height="1" fill="#000"/>
<rect x="401" y="99" width="6" height="1" fill="#000"/>
<rect x="44" y="105" width="6" height="1" fill="#000"/>
<rect x="401" y="105" width="6" height="1" fill="#000"/>
<rect x="44" y="111" width="6" height="1" fill="#000"/>
<rect x="401" y="111" width="6" height="1" fill="#000"/>
<rect x="44" y="117" width="6" height="1" fill="#000"/>
<rect x="401" y="117" width="6" height="1" fill="#000"/>
<rect x="44" y="123" width="6" height="1" fill="#000"/>
<rect x="401" y="123" width="6" height="1" fill="#000"/>
<rect x="44" y="129" width="6" height="1" fill="#000"/>
<rect x="401" y="129" width="6" height="1" fill="#000"/>
<rect x="44" y="135" width="6" height="1" fill="#000"/>
<rect x="401" y="135" width="6" height="1" fill="#000"/>
<rect x="44" y="141" width="6" height="1" fill="#000"/>
<rect x="401" y="141" width="6" height="1" fill="#000"/>
<rect x="44" y="147" width="6" height="1" fill="#000"/>
<rect x="401" y="147" width="6" height="1" fill="#000"/>
<rect x="38" y="153" width="12" height="1" fill="#000"/>
<rect x="400" y="153" width="13" height="1" fill="#000"/>
<rect x="44" y="159" width="6" height="1" fill="#000"/>
<rect x="401" y="159" width="6" height="1" fill="#000"/>
<rect x="44" y="165" width="6" height="1" fill="#000"/>
<rect x="401" y="165" width="6" height="1" fill="#000"/>
<rect x="44" y="171" width="6" height="1" fill="#000"/>
<rect x="401" y="171" width="6" height="1" fill="#000"/>
<rect x="44" y="177" width="6" height="1" fill="#000"/>
<rect x="401" y="177" width="6" height="1" fill="#000"/>
<rect x="44" y="183" width="6" height="1" fill="#000"/>
<rect x="401" y="183" width="6" height="1" fill="#000"/>
<rect x="44" y="189" width="6" height="1" fill="#000"/>
<rect x="401" y="189" width="6" height="1" fill="#000"/>
<rect x="44" y="195" width="6" height="1" fill="#000"/>
<rect x="401" y="195" width="6" height="1" fill="#000"/>
<rect x="44" y="201" width="6" height="1" fill="#000"/>
<rect x="401" y="201" width="6" height="1" fill="#000"/>
<rect x="44" y="207" width="6" height="1" fill="#000"/>
<rect x="401" y="207" width="6" height="1" fill="#000"/>
<rect x="38" y="213" width="12" height="1" fill="#000"/>
<rect x="400" y="213" width="13" height="1" fill="#000"/>
<rect x="44" y="219" width="6" height="1" fill="#000"/>
<rect x="401" y="219" width="6" height="1" fill="#000"/>
<rect x="44" y="225" width="6" height="1" fill="#000"/>
<rect x="401" y="225" width="6" height="1" fill="#000"/>
<rect x="44" y="231" width="6" height="1" fill="#000"/>
<rect x="401" y="231" width="6" height="1" fill="#000"/>
<rect x="44" y="237" width="6" height="1" fill="#000"/>
<rect x="401" y="237" width="6" height="1" fill="#000"/>
<rect x="44" y="243" width="6" height="1" fill="#000"/>
<rect x="401" y="243" width="6" height="1" fill="#000"/>
<rect x="44" y="249" width="6" height="1" fill="#000"/>
<rect x="401" y="249" width="6" height="1" fill="#000"/>
<rect x="44" y="255" width="6" height="1" fill="#000"/>
<rect x="401" y="255" width="6" height="1" fill="#000"/>
<rect x="44" y="261" width="6" height="1" fill="#000"/>
<rect x="401" y="261" width="6" height="1" fill="#000"/>
<rect x="44" y="267" width="6" height="1" fill="#000"/>
<rect x="401" y="267" width="6" height="1" fill="#000"/>
<rect x="38" y="273" width="12" height="1" fill="#000"/>
<rect x="400" y="273" width="13" height="1" fill="#000"/>
<rect x="44" y="279" width="6" height="1" fill="#000"/>
<rect x="401" y="279" width="6" height="1" fill="#000"/>
<rect x="44" y="285" width="6" height="1" fill="#000"/>
<rect x="401" y="285" width="6" height="1" fill="#000"/>
<rect x="44" y="291" width="6" height="1" fill="#000"/>
<rect x="401" y="291" width="6" height="1" fill="#000"/>
<rect x="44" y="297" width="6" height="1" fill="#000"/>
<rect x="401" y="297" width="6" height="1" fill="#000"/>
<rect x="44" y="303" width="6" height="1" fill="#000"/>
<rect x="401" y="303" width="6" height="1" fill="#000"/>
<rect x="44" y="309" width="6" height="1" fill="#000"/>
<rect x="401" y="309" width="6" height="1" fill="#000"/>
<rect x="44" y="315" width="6" height="1" fill="#000"/>
<rect x="401" y="315" width="6" height="1" fill="#000"/>
<rect x="44" y="321" width="6" height="1" fill="#000"/>
<rect x="401" y="321" width="6" height="1" fill="#000"/>
<rect x="44" y="327" width="6" height="1" fill="#000"/>
<rect x="401" y="327" width="6" height="1" fill="#000"/>
<rect x="38" y="333" width="12" height="1" fill="#000"/>
<rect x="400" y="333" width="13" height="1" fill="#000"/>
<rect x="44" y="339" width="6" height="1" fill="#000"/>
<rect x="401" y="339" width="6" height="1" fill="#000"/>
<rect x="44" y="345" width="6" height="1" fill="#000"/>
<rect x="401" y="345" width="6" height="1" fill="#000"/>
<rect x="44" y="351" width="6" height="1" fill="#000"/>
<rect x="401" y="351" width="6" height="1" fill="#000"/>
<rect x="44" y="357" width="6" height="1" fill="#000"/>
<rect x="401" y="357" width="6" height="1" fill="#000"/>
<rect x="44" y="363" width="6" height="1" fill="#000"/>
<rect x="401" y="363" width="6" height="1" fill="#000"/>
<rect x="44" y="369" width="6" height="1" fill="#000"/>
<rect x="401" y="369" width="6" height="1" fill="#000"/>
<rect x="44" y="375" width="6" height="1" fill="#000"/>
<rect x="401" y="375" width="6" height="1" fill="#000"/>
<rect x="44" y="381" width="6" height="1" fill="#000"/>
<rect x="401" y="381" width="6" height="1" fill="#000"/>
<rect x="44" y="387" width="6" height="1" fill="#000"/>
<rect x="401" y="387" width="6" height="1" fill="#000"/>
<rect x="38" y="393" width="12" height="1" fill="#000"/>
<rect x="400" y="393" width="13" height="1" fill="#000"/>
<rect x="44" y="399" width="6" height="1" fill="#000"/>
<rect x="401" y="399" width="6" height="1" fill="#000"/>
<rect x="44" y="405" width="6" height="1" fill="#000"/>
<rect x="401" y="405" width="6" height="1" fill="#000"/>
<rect x="44" y="411" width="6" height="1" fill="#000"/>
<rect x="401" y="411" width="6" height="1" fill="#000"/>
<rect x="44" y="417" width="6" height="1" fill="#000"/>
<rect x="401" y="417" width="6" height="1" fill="#000"/>
<rect x="44" y="423" width="6" height="1" fill="#000"/>
<rect x="401" y="423" width="6" height="1" fill="#000"/>
<rect x="44" y="429" width="6" height="1" fill="#000"/>
<rect x="401" y="429" width="6" height="1" fill="#000"/>
<rect x="44" y="435" width="6" height="1" fill="#000"/>
<rect x="401" y="435" width="6" height="1" fill="#000"/>
<rect x="44" y="441" width="6" height="1" fill="#000"/>
<rect x="401" y="441" width="6" height="1" fill="#000"/>
<rect x="44" y="447" width="6" height="1" fill="#000"/>
<rect x="401" y="447" width="6" height="1" fill="#000"/>
<rect x="38" y="453" width="12" height="1" fill="#000"/>
<rect x="400" y="453" width="13" height="1" fill="#000"/>
<rect x="44" y="459" width="6" height="1" fill="#000"/>
<rect x="401" y="459" width="6" height="1" fill="#000"/>
<rect x="44" y="465" width="6" height="1" fill="#000"/>
<rect x="401" y="465" width="6" height="1" fill="#000"/>
<rect x="44" y="471" width="6" height="1" fill="#000"/>
<rect x="401" y="471" width="6" height="1" fill="#000"/>
<rect x="44" y="477" width="6" height="1" fill="#000"/>
<rect x="401" y="477" width="6" height="1" fill="#000"/>
<rect x="44" y="483" width="6" height="1" fill="#000"/>
<rect x="401" y="483" width="6" height="1" fill="#000"/>
<rect x="44" y="489" width="6" height="1" fill="#000"/>
<rect x="401" y="489" width="6" height="1" fill="#000"/>
<rect x="44" y="495" width="6" height="1" fill="#000"/>
<rect x="401" y="495" width="6" height="1" fill="#000"/>
<rect x="44" y="501" width="6" height="1" fill="#000"/>
<rect x="401" y="501" width="6" height="1" fill="#000"/>
<rect x="44" y="507" width="6" height="1" fill="#000"/>
<rect x="401" y="507" width="6" height="1" fill="#000"/>
<rect x="38" y="513" width="12" height="1" fill="#000"/>
<rect x="400" y="513" width="13" height="1" fill="#000"/>
<rect x="44" y="519" width="6" height="1" fill="#000"/>
<rect x="401" y="519" width="6" height="1" fill="#000"/>
<rect x="44" y="525" width="6" height="1" fill="#000"/>
<rect x="401" y="525" width="6" height="1" fill="#000"/>
<rect x="44" y="531" width="6" height="1" fill="#000"/>
<rect x="401" y="531" width="6" height="1" fill="#000"/>
<rect x="44" y="537" width="6" height="1" fill="#000"/>
<rect x="401" y="537" width="6" height="1" fill="#000"/>
<rect x="44" y="543" width="6" height="1" fill="#000"/>
<rect x="401" y="543" width="6" height="1" fill="#000"/>
<rect x="44" y="549" width="6" height="1" fill="#000"/>
<rect x="401" y="549" width="6" height="1" fill="#000"/>
<rect x="44" y="555" width="6" height="1" fill="#000"/>
<rect x="401" y="555" width="6" height="1" fill="#000"/>
<rect x="44" y="561" width="6" height="1" fill="#000"/>
<rect x="401" y="561" width="6" height="1" fill="#000"/>
<rect x="44" y="567" width="6" height="1" fill="#000"/>
<rect x="401" y="567" width="6" height="1" fill="#000"/>
<rect x="38" y="573" width="12" height="1" fill="#000"/>
<rect x="400" y="573" width="13" height="1" fill="#000"/>
<rect x="44" y="579" width="6" height="1" fill="#000"/>
<rect x="401" y="579" width="6" height="1" fill="#000"/>
<rect x="44" y="585" width="6" height="1" fill="#000"/>
<rect x="401" y="585" width="6" height="1" fill="#000"/>
<rect x="44" y="591" width="6" height="1" fill="#000"/>
<rect x="401" y="591" width="6" height="1" fill="#000"/>
<rect x="44" y="597" width="6" height="1" fill="#000"/>
<rect x="401" y="597" width="6" height="1" fill="#000"/>
<rect x="44" y="603" width="6" height="1" fill="#000"/>
<rect x="401" y="603" width="6" height="1" fill="#000"/>
<rect x="44" y="609" width="6" height="1" fill="#000"/>
<rect x="401" y="609" width="6" height="1" fill="#000"/>
<rect x="44" y="615" width="6" height="1" fill="#000"/>
<rect x="401" y="615" width="6" height="1" fill="#000"/>
<rect x="44" y="621" width="6" height="1" fill="#000"/>
<rect x="401" y="621" width="6" height="1" fill="#000"/>
<rect x="44" y="627" width="6" height="1" fill="#000"/>
<rect x="401" y="627" width="6" height="1" fill="#000"/>
<rect x="38" y="633" width="12" height="1" fill="#000"/>
<rect x="400" y="633" width="13" height="1" fill="#000"/>
<rect x="44" y="639" width="6" height="1" fill="#000"/>
<rect x="401" y="639" width="6" height="1" fill="#000"/>
<rect x="44" y="645" width="6" height="1" fill="#000"/>
<rect x="401" y="645" width="6" height="1" fill="#000"/>
<rect x="44" y="651" width="6" height="1" fill="#000"/>
<rect x="401" y="651" width="6" height="1" fill="#000"/>
<rect x="44" y="657" width="6" height="1" fill="#000"/>
<rect x="401" y="657" width="6" height="1" fill="#000"/>
<rect x="44" y="663" width="6" height="1" fill="#000"/>
<rect x="401" y="663" width="6" height="1" fill="#000"/>
<rect x="44" y="669" width="6" height="1" fill="#000"/>
<rect x="401" y="669" width="6" height="1" fill="#000"/>
<rect x="44" y="675" width="6" height="1" fill="#000"/>
<rect x="401" y="675" width="6" height="1" fill="#000"/>
<rect x="44" y="681" width="6" height="1" fill="#000"/>
<rect x="401" y="681" width="6" height="1" fill="#000"/>
<rect x="44" y="687" width="6" height="1" fill="#000"/>
<rect x="401" y="687" width="6" height="1" fill="#000"/>
<rect x="38" y="693" width="12" height="1" fill="#000"/>
<rect x="400" y="693" width="13" height="1" fill="#000"/>
<rect x="44" y="699" width="6" height="1" fill="#000"/>
<rect x="401" y="699" width="6" height="1" fill="#000"/>
<rect x="44" y="705" width="6" height="1" fill="#000"/>
<rect x="401" y="705" width="6" height="1" fill="#000"/>
<rect x="44" y="711" width="6" height="1" fill="#000"/>
<rect x="401" y="711" width="6" height="1" fill="#000"/>
<rect x="44" y="717" width="6" height="1" fill="#000"/>
<rect x="401" y="717" width="6" height="1" fill="#000"/>
<rect x="44" y="723" width="6" height="1" fill="#000"/>
<rect x="401" y="723" width="6" height="1" fill="#000"/>
<rect x="44" y="729" width="6" height="1" fill="#000"/>
<rect x="401" y="729" width="6" height="1" fill="#000"/>
<rect x="44" y="735" width="6" height="1" fill="#000"/>
<rect x="401" y="735" width="6" height="1" fill="#000"/>
<rect x="44" y="741" width="6" height="1" fill="#000"/>
<rect x="401" y="741" width="6" height="1" fill="#000"/>
<rect x="44" y="747" width="6" height="1" fill="#000"/>
<rect x="401" y="747" width="6" height="1" fill="#000"/>
<rect x="38" y="753" width="12" height="1" fill="#000"/>
<rect x="400" y="753" width="13" height="1" fill="#000"/>
<rect x="44" y="759" width="6" height="1" fill="#000"/>
<rect x="401" y="759" width="6" height="1" fill="#000"/>
<rect x="44" y="765" width="6" height="1" fill="#000"/>
<rect x="401" y="765" width="6" height="1" fill="#000"/>
<rect x="44" y="771" width="6" height="1" fill="#000"/>
<rect x="401" y="771" width="6" height="1" fill="#000"/>
<rect x="44" y="777" width="6" height="1" fill="#000"/>
<rect x="401" y="777" width="6" height="1" fill="#000"/>
<rect x="44" y="783" width="6" height="1" fill="#000"/>
<rect x="401" y="783" width="6" height="1" fill="#000"/>
<rect x="44" y="789" width="6" height="1" fill="#000"/>
<rect x="401" y="789" width="6" height="1" fill="#000"/>
<rect x="44" y="795" width="6" height="1" fill="#000"/>
<rect x="401" y="795" width="6" height="1" fill="#000"/>
<rect x="44" y="801" width="6" height="1" fill="#000"/>
<rect x="401" y="801" width="6" height="1" fill="#000"/>
<rect x="44" y="807" width="6" height="1" fill="#000"/>
<rect x="401" y="807" width="6" height="1" fill="#000"/>
<rect x="50" y="813" width="1" height="10" fill="#000"/>
<rect x="53" y="813" width="1" height="7" fill="#000"/>
<rect x="57" y="813" width="1" height="7" fill="#000"/>
<rect x="60" y="813" width="1" height="7" fill="#000"/>
<rect x="64" y="813" width="1" height="7" fill="#000"/>
<rect x="67" y="813" width="1" height="10" fill="#000"/>
<rect x="71" y="813" width="1" height="7" fill="#000"/>
<rect x="74" y="813" width="1" height="7" fill="#000"/>
<rect x="78" y="813" width="1" height="7" fill="#000"/>
<rect x="81" y="813" width="1" height="7" fill="#000"/>
<rect x="85" y="813" width="1" height="10" fill="#000"/>
<rect x="88" y="813" width="1" height="7" fill="#000"/>
<rect x="92" y="813" width="1" height="7" fill="#000"/>
<rect x="95" y="813" width="1" height="7" fill="#000"/>
<rect x="99" y="813" width="1" height="7" fill="#000"/>
<rect x="102" y="813" width="1" height="10" fill="#000"/>
<rect x="106" y="813" width="1" height="7" fill="#000"/>
<rect x="109" y="813" width="1" height="7" fill="#000"/>
<rect x="113" y="813" width="1" height="7" fill="#000"/>
<rect x="116" y="813" width="1" height="7" fill="#000"/>
<rect x="120" y="813" width="1" height="10" fill="#000"/>
<rect x="123" y="813" width="1" height="7" fill="#000"/>
<rect x="127" y="813" width="1" height="7" fill="#000"/>
<rect x="130" y="813" width="1" height="7" fill="#000"/>
<rect x="134" y="813" width="1" height="7" fill="#000"/>
<rect x="137" y="813" width="1" height="10" fill="#000"/>
<rect x="141" y="813" width="1" height="7" fill="#000"/>
<rect x="144" y="813" width="1" height="7" fill="#000"/>
<rect x="148" y="813" width="1" height="7" fill="#000"/>
<rect x="151" y="813" width="1" height="7" fill="#000"/>
<rect x="155" y="813" width="1" height="10" fill="#000"/>
<rect x="158" y="813" width="1" height="7" fill="#000"/>
<rect x="162" y="813" width="1" height="7" fill="#000"/>
<rect x="165" y="813" width="1" height="7" fill="#000"/>
<rect x="169" y="813" width="1" height="7" fill="#000"/>
<rect x="172" y="813" width="1" height="10" fill="#000"/>
<rect x="176" y="813" width="1" height="7" fill="#000"/>
<rect x="179" y="813" width="1" height="7" fill="#000"/>
<rect x="183" y="813" width="1" height="7" fill="#000"/>
<rect x="186" y="813" width="1" height="7" fill="#000"/>
<rect x="190" y="813" width="1" height="10" fill="#000"/>
<rect x="193" y="813" width="1" height="7" fill="#000"/>
<rect x="197" y="813" width="1" height="7" fill="#000"/>
<rect x="200" y="813" width="1" height="7" fill="#000"/>
<rect x="204" y="813" width="1" height="7" fill="#000"/>
<rect x="207" y="813" width="1" height="10" fill="#000"/>
<rect x="211" y="813" width="1" height="7" fill="#000"/>
<rect x="214" y="813" width="1" height="7" fill="#000"/>
<rect x="218" y="813" width="1" height="7" fill="#000"/>
<rect x="221" y="813" width="1" height="7" fill="#000"/>
<rect x="225" y="813" width="1" height="10" fill="#000"/>
<rect x="228" y="813" width="1" height="7" fill="#000"/>
<rect x="232" y="813" width="1" height="7" fill="#000"/>
<rect x="235" y="813" width="1" height="7" fill="#000"/>
<rect x="239" y="813" width="1" height="7" fill="#000"/>
<rect x="242" y="813" width="1" height="10" fill="#000"/>
<rect x="246" y="813" width="1" height="7" fill="#000"/>
<rect x="249" y="813" width="1" height="7" fill="#000"/>
<rect x="253" y="813" width="1" height="7" fill="#000"/>
<rect x="256" y="813" width="1" height="7" fill="#000"/>
<rect x="260" y="813" width="1" height="10" fill="#000"/>
<rect x="263" y="813" width="1" height="7" fill="#000"/>
<rect x="267" y="813" width="1" height="7" fill="#000"/>
<rect x="270" y="813" width="1" height="7" fill="#000"/>
<rect x="274" y="813" width="1" height="7" fill="#000"/>
<rect x="277" y="813" width="1" height="10" fill="#000"/>
<rect x="281" y="813" width="1" height="7" fill="#000"/>
<rect x="284" y="813" width="1" height="7" fill="#000"/>
<rect x="288" y="813" width="1" height="7" fill="#000"/>
<rect x="291" y="813" width="1" height="7" fill="#000"/>
<rect x="295" y="813" width="1" height="10" fill="#000"/>
<rect x="298" y="813" width="1" height="7" fill="#000"/>
<rect x="302" y="813" width="1" height="7" fill="#000"/>
<rect x="305" y="813" width="1" height="7" fill="#000"/>
<rect x="309" y="813" width="1" height="7" fill="#000"/>
<rect x="312" y="813" width="1" height="10" fill="#000"/>
<rect x="316" y="813" width="1" height="7" fill="#000"/>
<rect x="319" y="813" width="1" height="7" fill="#000"/>
<rect x="323" y="813" width="1" height="7" fill="#000"/>
<rect x="326" y="813" width="1" height="7" fill="#000"/>
<rect x="330" y="813" width="1" height="10" fill="#000"/>
<rect x="333" y="813" width="1" height="7" fill="#000"/>
<rect x="337" y="813" width="1" height="7" fill="#000"/>
<rect x="340" y="813" width="1" height="7" fill="#000"/>
<rect x="344" y="813" width="1" height="7" fill="#000"/>
<rect x="347" y="813" width="1" height="10" fill="#000"/>
<rect x="351" y="813" width="1" height="7" fill="#000"/>
<rect x="354" y="813" width="1" height="7" fill="#000"/>
<rect x="358" y="813" width="1" height="7" fill="#000"/>
<rect x="361" y="813" width="1" height="7" fill="#000"/>
<rect x="365" y="813" width="1" height="10" fill="#000"/>
<rect x="368" y="813" width="1" height="7" fill="#000"/>
<rect x="372" y="813" width="1" height="7" fill="#000"/>
<rect x="375" y="813" width="1" height="7" fill="#000"/>
<rect x="379" y="813" width="1" height="7" fill="#000"/>
<rect x="382" y="813" width="1" height="10" fill="#000"/>
<rect x="386" y="813" width="1" height="7" fill="#000"/>
<rect x="389" y="813" width="1" height="7" fill="#000"/>
<rect x="393" y="813" width="1" height="7" fill="#000"/>
<rect x="396" y="813" width="1" height="7" fill="#000"/>
<rect x="400" y="813" width="1" height="10" fill="#000"/>
<g fill="#000"><rect x="472" y="100" width="73" height="1"/>
<rect x="492" y="101" width="53" height="1"/>
<rect x="513" y="101" width="32" height="2"/>
<rect x="472" y="105" width="73" height="6"/>
<rect x="472" y="106" width="31" height="1" fill="#fff"/>
<rect x="472" y="108" width="16" height="1" fill="#fff"/>
<rect x="513" y="103" width="32" height="1" fill="#fff"/>
<rect x="513" y="106" width="32" height="1" fill="#fff"/>
<rect x="518" y="108" width="12" height="1" fill="#fff"/>
<rect x="472" y="110" width="30" height="1" fill="#fff"/>
<rect x="504" y="99" width="7" height="1"/>
<rect x="505" y="100" width="6" height="1"/>
<rect x="503" y="101" width="10" height="1"/>
<rect x="504" y="102" width="8" height="1"/>
<rect x="506" y="103" width="6" height="1"/>
<rect x="504" y="104" width="8" height="1"/>
<rect x="505" y="105" width="7" height="1"/>
<rect x="504" y="106" width="9" height="1"/>
<rect x="505" y="107" width="6" height="1"/>
<rect x="506" y="108" width="5" height="1"/>
<rect x="505" y="109" width="8" height="1"/>
<rect x="505" y="110" width="6" height="1"/>
<rect x="509" y="111" width="2" height="1"/>
<rect x="502" y="102" width="3" height="1"/>
<rect x="472" y="130" width="73" height="1"/>
<rect x="472" y="132" width="54" height="1"/>
<rect x="506" y="129" width="5" height="1"/>
<rect x="505" y="130" width="6" height="1"/>
<rect x="504" y="131" width="7" height="1"/>
<rect x="506" y="132" width="6" height="1"/>
<rect x="505" y="133" width="6" height="1"/>
<rect x="505" y="134" width="5" height="1"/>
<rect x="512" y="130" width="4" height="2"/>
<rect x="508" y="135" width="2" height="1"/>
<rect x="472" y="142" width="61" height="1"/>
<rect x="472" y="144" width="73" height="1"/>
<rect x="494" y="145" width="51" height="1"/>
<rect x="474" y="147" width="71" height="1"/>
<rect x="472" y="150" width="73" height="1"/>
<rect x="484" y="151" width="53" height="1"/>
<rect x="503" y="141" width="10" height="1"/>
<rect x="504" y="142" width="9" height="1"/>
<rect x="505" y="143" width="8" height="1"/>
<rect x="504" y="144" width="10" height="1"/>
<rect x="504" y="145" width="9" height="1"/>
<rect x="503" y="146" width="9" height="1"/>
<rect x="505" y="147" width="7" height="1"/>
<rect x="505" y="148" width="8" height="1"/>
<rect x="503" y="149" width="9" height="1"/>
<rect x="504" y="150" width="9" height="1"/>
<rect x="505" y="151" width="7" height="1"/>
<rect x="504" y="152" width="9" height="1"/>
<rect x="508" y="153" width="2" height="1"/>
<rect x="472" y="171" width="73" height="12"/>
<rect x="472" y="172" width="32" height="1" fill="#fff"/>
<rect x="472" y="174" width="20" height="1" fill="#fff"/>
<rect x="472" y="176" width="32" height="1" fill="#fff"/>
<rect x="472" y="178" width="31" height="1" fill="#fff"/>
<rect x="472" y="180" width="29" height="1" fill="#fff"/>
<rect x="514" y="172" width="31" height="1" fill="#fff"/>
<rect x="511" y="174" width="34" height="1" fill="#fff"/>
<rect x="514" y="177" width="31" height="1" fill="#fff"/>
<rect x="472" y="182" width="30" height="1" fill="#fff"/>
<rect x="508" y="183" width="2" height="1"/>
<rect x="472" y="195" width="73" height="3"/>
<rect x="472" y="199" width="73" height="1"/>
<rect x="474" y="200" width="71" height="1"/>
<rect x="472" y="207" width="61" height="1"/>
<rect x="505" y="198" width="6" height="1"/>
<rect x="504" y="199" width="9" height="1"/>
<rect x="504" y="200" width="9" height="1"/>
<rect x="502" y="201" width="9" height="1"/>
<rect x="505" y="202" width="6" height="1"/>
<rect x="505" y="203" width="6" height="1"/>
<rect x="505" y="204" width="7" height="1"/>
<rect x="504" y="205" width="7" height="1"/>
<rect x="504" y="206" width="7" height="1"/>
<rect x="503" y="207" width="8" height="1"/>
<rect x="506" y="208" width="5" height="1"/>
<rect x="506" y="209" width="5" height="1"/>
<rect x="503" y="210" width="7" height="1"/>
<rect x="506" y="211" width="7" height="1"/>
<rect x="507" y="212" width="3" height="1"/>
<rect x="472" y="219" width="73" height="1"/>
<rect x="508" y="221" width="37" height="1"/>
<rect x="476" y="224" width="69" height="1"/>
<rect x="478" y="225" width="30" height="1"/>
<rect x="477" y="228" width="68" height="1"/>
<rect x="483" y="231" width="62" height="1"/>
<rect x="493" y="232" width="52" height="2"/>
<rect x="486" y="234" width="59" height="1"/>
<rect x="503" y="219" width="10" height="1"/>
<rect x="503" y="220" width="9" height="1"/>
<rect x="504" y="221" width="9" height="1"/>
<rect x="503" y="222" width="10" height="1"/>
<rect x="503" y="223" width="8" height="1"/>
<rect x="503" y="224" width="8" height="1"/>
<rect x="504" y="225" width="9" height="1"/>
<rect x="505" y="226" width="8" height="1"/>
<rect x="504" y="227" width="9" height="1"/>
<rect x="505" y="228" width="7" height="1"/>
<rect x="503" y="229" width="10" height="1"/>
<rect x="504" y="230" width="8" height="1"/>
<rect x="503" y="231" width="8" height="1"/>
<rect x="503" y="232" width="10" height="1"/>
<rect x="505" y="233" width="7" height="1"/>
<rect x="504" y="234" width="10" height="1"/>
<rect x="505" y="235" width="7" height="1"/>
<rect x="503" y="236" width="10" height="1"/>
<rect x="507" y="237" width="3" height="1"/>
<rect x="472" y="282" width="61" height="1"/>
<rect x="480" y="283" width="25" height="1"/>
<rect x="505" y="281" width="20" height="1"/>
<rect x="503" y="279" width="10" height="1"/>
<rect x="503" y="280" width="10" height="1"/>
<rect x="503" y="281" width="11" height="1"/>
<rect x="503" y="282" width="10" height="1"/>
<rect x="503" y="283" width="10" height="1"/>
<rect x="503" y="284" width="10" height="1"/>
<rect x="513" y="280" width="3" height="2"/>
<rect x="507" y="285" width="3" height="1"/>
<rect x="472" y="306" width="73" height="2"/>
<rect x="504" y="303" width="12" height="1"/>
<rect x="504" y="304" width="10" height="1"/>
<rect x="504" y="305" width="10" height="1"/>
<rect x="504" y="306" width="10" height="1"/>
<rect x="504" y="307" width="10" height="1"/>
<rect x="504" y="308" width="10" height="1"/>
<rect x="507" y="309" width="3" height="1"/>
<rect x="472" y="342" width="73" height="2"/>
<rect x="472" y="348" width="73" height="1"/>
<rect x="490" y="349" width="55" height="1"/>
<rect x="472" y="353" width="73" height="3"/>
<rect x="504" y="339" width="11" height="1"/>
<rect x="503" y="340" width="10" height="1"/>
<rect x="503" y="341" width="12" height="1"/>
<rect x="504" y="342" width="11" height="1"/>
<rect x="502" y="343" width="11" height="1"/>
<rect x="504" y="344" width="12" height="1"/>
<rect x="503" y="345" width="11" height="1"/>
<rect x="503" y="346" width="11" height="1"/>
<rect x="505" y="347" width="9" height="1"/>
<rect x="504" y="348" width="12" height="1"/>
<rect x="505" y="349" width="9" height="1"/>
<rect x="503" y="350" width="12" height="1"/>
<rect x="504" y="351" width="10" height="1"/>
<rect x="504" y="352" width="10" height="1"/>
<rect x="505" y="353" width="11" height="1"/>
<rect x="504" y="354" width="11" height="1"/>
<rect x="502" y="355" width="11" height="1"/>
<rect x="502" y="356" width="11" height="1"/>
<rect x="472" y="365" width="73" height="3"/>
<rect x="503" y="363" width="12" height="1"/>
<rect x="503" y="364" width="12" height="1"/>
<rect x="503" y="365" width="12" height="1"/>
<rect x="501" y="366" width="15" height="1"/>
<rect x="503" y="367" width="14" height="1"/>
<rect x="507" y="368" width="3" height="8"/>
<rect x="472" y="387" width="47" height="1"/>
<rect x="472" y="389" width="73" height="3"/>
<rect x="472" y="399" width="73" height="6"/>
<rect x="505" y="387" width="6" height="1"/>
<rect x="505" y="388" width="8" height="1"/>
<rect x="505" y="389" width="7" height="1"/>
<rect x="505" y="390" width="7" height="1"/>
<rect x="505" y="391" width="7" height="1"/>
<rect x="505" y="392" width="8" height="1"/>
<rect x="506" y="393" width="6" height="1"/>
<rect x="505" y="394" width="6" height="1"/>
<rect x="505" y="395" width="8" height="1"/>
<rect x="505" y="396" width="8" height="1"/>
<rect x="506" y="397" width="7" height="1"/>
<rect x="506" y="398" width="8" height="1"/>
<rect x="504" y="399" width="9" height="1"/>
<rect x="506" y="400" width="5" height="1"/>
<rect x="502" y="401" width="11" height="1"/>
<rect x="505" y="402" width="8" height="1"/>
<rect x="506" y="403" width="7" height="1"/>
<rect x="506" y="404" width="7" height="1"/>
<rect x="505" y="405" width="8" height="1"/>
<rect x="504" y="406" width="8" height="1"/>
<rect x="504" y="407" width="8" height="1"/>
<rect x="503" y="408" width="9" height="1"/>
<rect x="504" y="409" width="9" height="1"/>
<rect x="504" y="410" width="9" height="1"/>
<rect x="487" y="608" width="56" height="1"/>
<rect x="504" y="603" width="9" height="1"/>
<rect x="504" y="604" width="9" height="1"/>
<rect x="504" y="605" width="9" height="1"/>
<rect x="504" y="606" width="9" height="1"/>
<rect x="504" y="607" width="9" height="1"/>
<rect x="507" y="609" width="3" height="1"/>
<rect x="505" y="663" width="7" height="1"/>
<rect x="505" y="664" width="8" height="1"/>
<rect x="503" y="665" width="11" height="1"/>
<rect x="503" y="666" width="11" height="1"/>
<rect x="503" y="667" width="10" height="1"/>
<rect x="504" y="668" width="9" height="1"/>
<rect x="505" y="669" width="8" height="1"/>
<rect x="503" y="670" width="10" height="1"/>
<rect x="503" y="671" width="9" height="1"/>
<rect x="503" y="672" width="10" height="1"/>
<rect x="503" y="673" width="10" height="1"/>
<rect x="504" y="674" width="9" height="1"/>
<rect x="503" y="675" width="10" height="1"/>
<rect x="503" y="676" width="10" height="1"/>
<rect x="505" y="677" width="9" height="1"/>
<rect x="504" y="678" width="8" height="1"/>
<rect x="503" y="679" width="9" height="1"/>
<rect x="504" y="680" width="8" height="1"/>
<rect x="505" y="681" width="9" height="1"/>
<rect x="505" y="682" width="8" height="1"/>
<rect x="504" y="683" width="10" height="1"/>
<rect x="504" y="684" width="9" height="1"/>
<rect x="503" y="685" width="10" height="1"/>
<rect x="505" y="686" width="9" height="1"/>
<rect x="504" y="687" width="9" height="1"/>
<rect x="504" y="688" width="9" height="1"/>
<rect x="504" y="689" width="8" height="1"/>
<rect x="504" y="690" width="10" height="1"/>
<rect x="505" y="691" width="11" height="1"/>
<rect x="504" y="692" width="10" height="1"/>
<rect x="504" y="693" width="10" height="1"/>
<rect x="504" y="694" width="9" height="1"/>
<rect x="504" y="695" width="9" height="1"/>
<rect x="503" y="696" width="10" height="1"/>
<rect x="504" y="697" width="9" height="1"/>
<rect x="504" y="698" width="9" height="1"/>
<rect x="503" y="699" width="10" height="1"/>
<rect x="504" y="700" width="12" height="1"/>
<rect x="505" y="701" width="9" height="1"/>
<rect x="503" y="702" width="10" height="1"/>
<rect x="503" y="703" width="11" height="1"/>
<rect x="503" y="704" width="10" height="1"/>
<rect x="504" y="705" width="8" height="1"/>
<rect x="505" y="706" width="8" height="1"/>
<rect x="505" y="707" width="8" height="1"/>
<rect x="504" y="708" width="8" height="1"/>
<rect x="504" y="709" width="9" height="1"/>
<rect x="504" y="710" width="9" height="1"/>
<rect x="505" y="711" width="9" height="1"/>
<rect x="503" y="712" width="10" height="1"/>
<rect x="505" y="713" width="7" height="1"/>
<rect x="504" y="714" width="10" height="1"/>
<rect x="504" y="715" width="9" height="1"/>
<rect x="504" y="716" width="9" height="1"/>
<rect x="504" y="717" width="10" height="1"/>
<rect x="505" y="718" width="8" height="1"/>
<rect x="503" y="719" width="9" height="1"/>
<rect x="504" y="720" width="8" height="1"/>
<rect x="503" y="721" width="10" height="1"/>
<rect x="504" y="722" width="10" height="1"/>
<rect x="504" y="723" width="9" height="1"/>
<rect x="505" y="724" width="7" height="1"/>
<rect x="504" y="725" width="8" height="1"/>
<rect x="505" y="726" width="8" height="1"/>
<rect x="503" y="727" width="11" height="1"/>
<rect x="503" y="728" width="11" height="1"/>
<rect x="503" y="729" width="11" height="1"/>
<rect x="504" y="730" width="10" height="1"/>
<rect x="504" y="731" width="9" height="1"/>
<rect x="505" y="732" width="9" height="1"/>
<rect x="504" y="733" width="11" height="1"/>
<rect x="503" y="734" width="10" height="1"/>
<rect x="505" y="735" width="7" height="1"/>
<rect x="504" y="736" width="9" height="1"/>
<rect x="505" y="737" width="8" height="1"/>
<rect x="504" y="738" width="9" height="1"/>
<rect x="505" y="739" width="8" height="1"/>
<rect x="503" y="740" width="10" height="1"/>
<rect x="505" y="741" width="8" height="1"/>
<rect x="504" y="742" width="10" height="1"/>
<rect x="504" y="743" width="9" height="1"/>
<rect x="505" y="744" width="7" height="1"/>
<rect x="505" y="745" width="9" height="1"/>
<rect x="504" y="746" width="10" height="1"/>
<rect x="504" y="747" width="8" height="1"/>
<rect x="505" y="748" width="7" height="1"/>
<rect x="504" y="749" width="8" height="1"/>
<rect x="504" y="750" width="10" height="1"/>
<rect x="505" y="751" width="8" height="1"/>
<rect x="505" y="752" width="7" height="1"/>
<rect x="504" y="753" width="9" height="1"/>
<rect x="503" y="754" width="9" height="1"/>
<rect x="503" y="755" width="11" height="1"/>
<rect x="504" y="756" width="10" height="1"/>
<rect x="504" y="757" width="9" height="1"/>
<rect x="505" y="758" width="8" height="1"/>
<rect x="504" y="759" width="10" height="1"/>
<rect x="503" y="760" width="11" height="1"/>
<rect x="504" y="761" width="8" height="1"/>
<rect x="504" y="762" width="10" height="1"/>
<rect x="504" y="763" width="9" height="1"/>
<rect x="503" y="764" width="10" height="1"/>
<rect x="502" y="765" width="11" height="1"/>
<rect x="503" y="766" width="11" height="1"/>
<rect x="504" y="767" width="9" height="1"/>
<rect x="504" y="768" width="9" height="1"/>
<rect x="503" y="769" width="12" height="1"/>
<rect x="504" y="770" width="8" height="1"/>
<rect x="505" y="771" width="8" height="1"/>
<rect x="504" y="772" width="9" height="1"/>
<rect x="505" y="773" width="8" height="1"/>
<rect x="503" y="774" width="11" height="1"/>
<rect x="504" y="775" width="10" height="1"/>
<rect x="504" y="776" width="9" height="1"/>
<rect x="505" y="777" width="8" height="1"/>
<rect x="505" y="778" width="8" height="1"/>
<rect x="503" y="779" width="10" height="1"/>
<rect x="503" y="780" width="11" height="1"/>
<rect x="505" y="781" width="7" height="1"/>
<rect x="504" y="782" width="10" height="1"/>
<rect x="504" y="783" width="10" height="1"/>
<rect x="505" y="784" width="8" height="1"/>
<rect x="505" y="785" width="9" height="1"/>
<rect x="504" y="786" width="9" height="1"/>
<rect x="504" y="787" width="8" height="1"/>
<rect x="504" y="788" width="8" height="1"/>
<rect x="503" y="789" width="11" height="1"/>
<rect x="503" y="790" width="9" height="1"/>
<rect x="504" y="791" width="9" height="1"/>
<rect x="504" y="792" width="9" height="1"/>
<rect x="504" y="793" width="8" height="1"/>
<rect x="504" y="794" width="9" height="1"/>
<rect x="502" y="795" width="11" height="1"/>
<rect x="503" y="796" width="10" height="1"/>
<rect x="505" y="797" width="7" height="1"/>
<rect x="504" y="798" width="8" height="1"/>
<rect x="503" y="799" width="10" height="1"/>
<rect x="503" y="800" width="11" height="1"/>
<rect x="503" y="801" width="11" height="1"/>
<rect x="503" y="802" width="10" height="1"/>
<rect x="504" y="803" width="9" height="1"/>
<rect x="504" y="804" width="10" height="1"/>
<rect x="503" y="805" width="10" height="1"/>
<rect x="505" y="806" width="8" height="1"/>
<rect x="503" y="807" width="10" height="1"/>
<rect x="504" y="808" width="9" height="1"/>
<rect x="503" y="809" width="9" height="1"/>
<rect x="504" y="810" width="9" height="1"/>
<rect x="504" y="811" width="8" height="1"/>
<rect x="505" y="812" width="7" height="1"/>
<rect x="472" y="665" width="73" height="1"/>
<rect x="472" y="697" width="73" height="2"/>
<rect x="482" y="739" width="63" height="2"/>
<rect x="490" y="738" width="40" height="1"/>
<rect x="500" y="741" width="30" height="1"/>
<rect x="472" y="765" width="73" height="2"/>
<rect x="480" y="764" width="55" height="1"/>
<rect x="492" y="767" width="30" height="1"/>
<rect x="491" y="773" width="37" height="1"/>
<rect x="503" y="740" width="10" height="1"/>
<rect x="504" y="741" width="10" height="1"/>
<rect x="503" y="742" width="10" height="1"/>
<rect x="504" y="743" width="9" height="1"/>
<rect x="503" y="744" width="10" height="1"/>
<rect x="503" y="745" width="11" height="1"/>
<rect x="502" y="746" width="14" height="1"/>
<rect x="504" y="747" width="11" height="1"/>
<rect x="503" y="748" width="11" height="1"/>
<rect x="502" y="749" width="11" height="1"/>
<rect x="502" y="750" width="11" height="1"/>
<rect x="504" y="751" width="11" height="1"/>
<rect x="502" y="752" width="12" height="1"/>
<rect x="502" y="753" width="12" height="1"/>
<rect x="502" y="754" width="11" height="1"/>
<rect x="503" y="755" width="13" height="1"/>
<rect x="504" y="756" width="10" height="1"/>
<rect x="502" y="757" width="12" height="1"/>
<rect x="504" y="758" width="9" height="1"/>
<rect x="504" y="759" width="11" height="1"/>
<rect x="503" y="760" width="11" height="1"/>
<rect x="503" y="761" width="12" height="1"/>
<rect x="504" y="762" width="9" height="1"/>
<rect x="503" y="763" width="11" height="1"/>
<rect x="502" y="764" width="12" height="1"/>
<rect x="501" y="765" width="13" height="1"/>
<rect x="503" y="766" width="10" height="1"/>
<rect x="504" y="767" width="11" height="1"/>
<rect x="504" y="768" width="10" height="1"/>
<rect x="501" y="769" width="14" height="1"/>
<rect x="503" y="770" width="12" height="1"/>
<rect x="502" y="771" width="12" height="1"/>
<rect x="504" y="772" width="11" height="1"/>
<rect x="502" y="773" width="13" height="1"/>
<rect x="503" y="774" width="11" height="1"/>
<rect x="500" y="775" width="15" height="1"/>
<rect x="500" y="776" width="14" height="1"/>
<rect x="503" y="777" width="11" height="1"/>
<rect x="504" y="778" width="12" height="1"/>
<rect x="500" y="779" width="14" height="1"/>
<rect x="502" y="780" width="12" height="1"/>
<rect x="503" y="781" width="12" height="1"/>
<rect x="502" y="782" width="12" height="1"/>
<rect x="503" y="783" width="11" height="1"/>
<rect x="502" y="784" width="15" height="1"/>
<rect x="503" y="785" width="11" height="1"/>
<rect x="503" y="786" width="11" height="1"/>
<rect x="503" y="787" width="10" height="1"/>
<rect x="502" y="788" width="12" height="1"/>
<rect x="504" y="789" width="10" height="1"/></g>
<g fill="#000"><rect x="2" y="881" width="1" height="1"/><rect x="3" y="882" width="1" height="1"/><rect x="4" y="879" width="1" height="3"/><rect x="5" y="880" width="1" height="1"/><rect x="6" y="879" width="1" height="4"/><rect x="7" y="882" width="1" height="1"/></g>
</svg>
<svg width="22" height="22" style="position:absolute;left:0;top:0">
<rect x="0" y="0" width="20" height="20.5" fill="#0f6b35"/>
<g stroke="#fff" fill="none" stroke-width="1.1">
<path d="M0 5.5 C3 5.3 6 7.6 9 9.2 C12 8 16 5 20 2.6"/>
<path d="M0 8.9 C3 8.7 6 9.7 9.5 10.5 C13 9.9 16 8 20 6.6"/>
<path d="M0 12.3 C3 11 6 10.5 9 11.3 C12 12 16 11 20 10.4"/>
<path d="M11 13 C14 14 17 13.2 20 12.8"/>
<path d="M13 15.2 C15.5 16 18 15.8 20 15.6"/>
</g>
</svg>
<div id="usgs" style="position:absolute;left:23px;top:-6px;font-family:'Liberation Sans',sans-serif;font-weight:bold;font-size:32px;line-height:32px;color:#0f6b35;transform:scaleX(0.625);transform-origin:0 0;letter-spacing:1px;-webkit-text-stroke:1.2px #0f6b35">USGS</div>
<div class="t" style="left:179px;top:35px">SMNB DP1 BP 40</div>
<div class="t" style="left:13px;top:49px">PST</div>
<div class="t" style="left:49px;top:49px;letter-spacing:-0.25px">Jan23,2020</div>
<div class="t" style="left:116px;top:49px">(Stockdale Mountain, Parkfield, Ca)</div>
<div class="t" style="left:402px;top:49px">UTC</div>
<div class="t" style="left:188px;top:833px">FREQUENCY (HZ)</div>
<div class="tl" style="left:-1px;top:85px">10:00</div>
<div class="tl" style="left:414px;top:85px">18:00</div>
<div class="tl" style="left:-1px;top:145px">10:10</div>
<div class="tl" style="left:414px;top:145px">18:10</div>
<div class="tl" style="left:-1px;top:205px">10:20</div>
<div class="tl" style="left:414px;top:205px">18:20</div>
<div class="tl" style="left:-1px;top:265px">10:30</div>
<div class="tl" style="left:414px;top:265px">18:30</div>
<div class="tl" style="left:-1px;top:325px">10:40</div>
<div class="tl" style="left:414px;top:325px">18:40</div>
<div class="tl" style="left:-1px;top:385px">10:50</div>
<div class="tl" style="left:414px;top:385px">18:50</div>
<div class="tl" style="left:-1px;top:445px">11:00</div>
<div class="tl" style="left:414px;top:445px">19:00</div>
<div class="tl" style="left:-1px;top:505px">11:10</div>
<div class="tl" style="left:414px;top:505px">19:10</div>
<div class="tl" style="left:-1px;top:565px">11:20</div>
<div class="tl" style="left:414px;top:565px">19:20</div>
<div class="tl" style="left:-1px;top:625px">11:30</div>
<div class="tl" style="left:414px;top:625px">19:30</div>
<div class="tl" style="left:-1px;top:685px">11:40</div>
<div class="tl" style="left:414px;top:685px">19:40</div>
<div class="tl" style="left:-1px;top:745px">11:50</div>
<div class="tl" style="left:414px;top:745px">19:50</div>
<div class="fl" style="left:30.0px;top:822px">0</div>
<div class="fl" style="left:47.5px;top:822px">5</div>
<div class="fl" style="left:65.0px;top:822px">10</div>
<div class="fl" style="left:82.5px;top:822px">15</div>
<div class="fl" style="left:100.0px;top:822px">20</div>
<div class="fl" style="left:117.5px;top:822px">25</div>
<div class="fl" style="left:135.0px;top:822px">30</div>
<div class="fl" style="left:152.5px;top:822px">35</div>
<div class="fl" style="left:170.0px;top:822px">40</div>
<div class="fl" style="left:187.5px;top:822px">45</div>
<div class="fl" style="left:205.0px;top:822px">50</div>
<div class="fl" style="left:222.5px;top:822px">55</div>
<div class="fl" style="left:240.0px;top:822px">60</div>
<div class="fl" style="left:257.5px;top:822px">65</div>
<div class="fl" style="left:275.0px;top:822px">70</div>
<div class="fl" style="left:292.5px;top:822px">75</div>
<div class="fl" style="left:310.0px;top:822px">80</div>
<div class="fl" style="left:327.5px;top:822px">85</div>
<div class="fl" style="left:345.0px;top:822px">90</div>
<div class="fl" style="left:362.5px;top:822px">95</div>
<div class="fl" style="left:380.0px;top:822px">100</div>
</body></html>
